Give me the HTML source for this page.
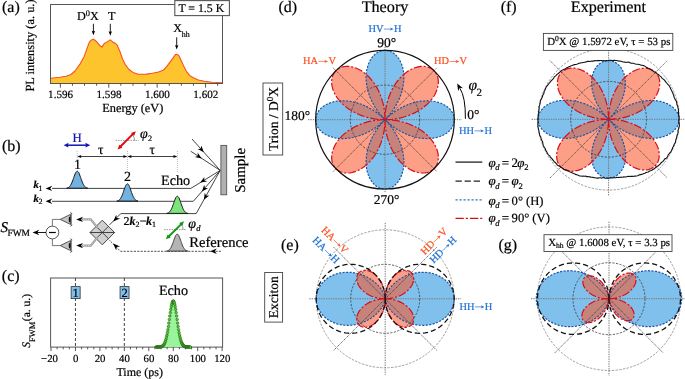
<!DOCTYPE html><html><head><meta charset="utf-8"><style>html,body{margin:0;padding:0;background:#fff;overflow:hidden}svg{display:block;will-change:transform}text{font-family:"Liberation Serif",serif;text-rendering:geometricPrecision;stroke-width:0.2}</style></head><body><svg width="685" height="379" viewBox="0 0 685 379">
<rect width="685" height="379" fill="#fff"/>
<text x="2" y="11.7" font-size="16" stroke="#000">(a)</text>
<path d="M50.5,83.5 L50.5,78.3 L60.0,77.3 L66.0,76.2 L71.0,74.5 L75.0,71.0 L80.3,63.6 L84.2,56.4 L87.5,47.1 L89.5,41.9 L91.5,39.9 L93.5,39.2 L96.1,41.2 L99.4,45.2 L102.0,47.1 L104.0,43.8 L106.6,42.1 L110.3,39.9 L112.6,41.9 L115.2,43.2 L117.2,45.2 L119.8,51.1 L122.5,59.0 L125.1,64.3 L129.0,69.5 L133.0,72.4 L138.3,74.2 L146.2,74.1 L152.4,73.2 L158.6,72.0 L163.6,70.0 L166.7,66.7 L170.4,61.7 L173.5,57.4 L175.4,54.6 L177.0,54.3 L179.1,55.9 L180.9,59.9 L183.4,65.4 L186.5,71.6 L189.6,75.4 L193.3,77.8 L198.3,80.0 L204.5,81.2 L212.0,82.2 L222.5,82.7 L222.5,83.5Z" fill="#fec42e"/>
<path d="M50.5,78.3 L60.0,77.3 L66.0,76.2 L71.0,74.5 L75.0,71.0 L80.3,63.6 L84.2,56.4 L87.5,47.1 L89.5,41.9 L91.5,39.9 L93.5,39.2 L96.1,41.2 L99.4,45.2 L102.0,47.1 L104.0,43.8 L106.6,42.1 L110.3,39.9 L112.6,41.9 L115.2,43.2 L117.2,45.2 L119.8,51.1 L122.5,59.0 L125.1,64.3 L129.0,69.5 L133.0,72.4 L138.3,74.2 L146.2,74.1 L152.4,73.2 L158.6,72.0 L163.6,70.0 L166.7,66.7 L170.4,61.7 L173.5,57.4 L175.4,54.6 L177.0,54.3 L179.1,55.9 L180.9,59.9 L183.4,65.4 L186.5,71.6 L189.6,75.4 L193.3,77.8 L198.3,80.0 L204.5,81.2 L212.0,82.2 L222.5,82.7" fill="none" stroke="#fb4e1e" stroke-width="1.1" stroke-linejoin="round"/>
<rect x="50.5" y="4.5" width="172" height="79" fill="none" stroke="#555" stroke-width="1"/>
<line x1="60.35" y1="83.5" x2="60.35" y2="87.7" stroke="#444" stroke-width="0.9"/>
<line x1="72.45" y1="83.5" x2="72.45" y2="85.8" stroke="#444" stroke-width="0.9"/>
<line x1="84.55" y1="83.5" x2="84.55" y2="85.8" stroke="#444" stroke-width="0.9"/>
<line x1="96.65" y1="83.5" x2="96.65" y2="85.8" stroke="#444" stroke-width="0.9"/>
<line x1="108.75" y1="83.5" x2="108.75" y2="87.7" stroke="#444" stroke-width="0.9"/>
<line x1="120.85" y1="83.5" x2="120.85" y2="85.8" stroke="#444" stroke-width="0.9"/>
<line x1="132.95" y1="83.5" x2="132.95" y2="85.8" stroke="#444" stroke-width="0.9"/>
<line x1="145.05" y1="83.5" x2="145.05" y2="85.8" stroke="#444" stroke-width="0.9"/>
<line x1="157.15" y1="83.5" x2="157.15" y2="87.7" stroke="#444" stroke-width="0.9"/>
<line x1="169.25" y1="83.5" x2="169.25" y2="85.8" stroke="#444" stroke-width="0.9"/>
<line x1="181.35" y1="83.5" x2="181.35" y2="85.8" stroke="#444" stroke-width="0.9"/>
<line x1="193.45" y1="83.5" x2="193.45" y2="85.8" stroke="#444" stroke-width="0.9"/>
<line x1="205.55" y1="83.5" x2="205.55" y2="87.7" stroke="#444" stroke-width="0.9"/>
<line x1="217.65" y1="83.5" x2="217.65" y2="85.8" stroke="#444" stroke-width="0.9"/>
<text x="60.6" y="97.7" font-size="11.1" text-anchor="middle" stroke="#000">1.596</text>
<text x="109" y="97.7" font-size="11.1" text-anchor="middle" stroke="#000">1.598</text>
<text x="157.4" y="97.7" font-size="11.1" text-anchor="middle" stroke="#000">1.600</text>
<text x="205.8" y="97.7" font-size="11.1" text-anchor="middle" stroke="#000">1.602</text>
<text x="132.8" y="111.7" font-size="12.3" text-anchor="middle" stroke="#000">Energy (eV)</text>
<text stroke="#000" transform="translate(34,45.5) rotate(-90)" font-size="12.4" text-anchor="middle">PL intensity (a. u.)</text>
<text x="77" y="20.2" font-size="12.2" stroke="#000">D<tspan dy="-4.6" font-size="8.4">0</tspan><tspan dy="4.6">X</tspan></text>
<text x="111.8" y="20.2" font-size="12.2" text-anchor="middle" stroke="#000">T</text>
<text x="173.2" y="32.2" font-size="12" stroke="#000">X<tspan dy="4.6" font-size="7.9">hh</tspan></text>
<line x1="93.4" y1="23.8" x2="93.4" y2="32.3" stroke="#000" stroke-width="0.9"/>
<path d="M93.4,35.3 L91.7,30.7 L93.4,31.6 L95.1,30.7Z" fill="#000"/>
<line x1="110.3" y1="23.8" x2="110.3" y2="32.8" stroke="#000" stroke-width="0.9"/>
<path d="M110.3,35.8 L108.6,31.2 L110.3,32.1 L112.0,31.2Z" fill="#000"/>
<line x1="176.7" y1="37.3" x2="176.7" y2="46.5" stroke="#000" stroke-width="0.9"/>
<path d="M176.7,49.5 L175.0,44.9 L176.7,45.8 L178.4,44.9Z" fill="#000"/>
<rect x="174.8" y="0.6" width="54.6" height="15" fill="#fff" stroke="#555" stroke-width="1.1"/>
<text x="201.3" y="11.7" font-size="11.8" text-anchor="middle" stroke="#000">T = 1.5 K</text>
<text x="2" y="150.7" font-size="16" stroke="#000">(b)</text>
<text x="77.2" y="141.8" font-size="12.8" text-anchor="middle" fill="#1414b4" stroke="#1414b4">H</text>
<line x1="66.5" y1="145.2" x2="87.5" y2="145.2" stroke="#1414b4" stroke-width="1.5"/>
<path d="M63.6,145.2 L68.6,142.8 L67.8,145.2 L68.6,147.6Z" fill="#1414b4"/>
<path d="M90.3,145.2 L85.3,147.6 L86.0,145.2 L85.3,142.8Z" fill="#1414b4"/>
<line x1="77.2" y1="151" x2="77.2" y2="160.5" stroke="#aaa" stroke-width="0.8" stroke-dasharray="1 1"/>
<line x1="127.4" y1="151" x2="127.4" y2="173" stroke="#aaa" stroke-width="0.8" stroke-dasharray="1 1"/>
<line x1="177.4" y1="151" x2="177.4" y2="173" stroke="#aaa" stroke-width="0.8" stroke-dasharray="1 1"/>
<line x1="79.2" y1="156.5" x2="125.4" y2="156.5" stroke="#111" stroke-width="0.8"/>
<path d="M77.2,156.5 L81.4,154.9 L80.8,156.5 L81.4,158.1Z" fill="#000"/>
<path d="M127.4,156.5 L123.2,158.1 L123.8,156.5 L123.2,154.9Z" fill="#000"/>
<line x1="129.4" y1="156.5" x2="175.4" y2="156.5" stroke="#111" stroke-width="0.8"/>
<path d="M127.4,156.5 L131.6,154.9 L131.0,156.5 L131.6,158.1Z" fill="#000"/>
<path d="M177.4,156.5 L173.2,158.1 L173.8,156.5 L173.2,154.9Z" fill="#000"/>
<text x="100.7" y="154" font-size="13.5" text-anchor="middle" stroke="#000">τ</text>
<text x="152.2" y="154" font-size="13.5" text-anchor="middle" stroke="#000">τ</text>
<line x1="115.5" y1="140.4" x2="138.6" y2="140.4" stroke="#777" stroke-width="0.7" stroke-dasharray="1.6 0.9"/>
<path d="M134.6,140.4 A8,8 0 0 0 132.1,134.6" fill="none" stroke="#555" stroke-width="0.6"/>
<line x1="120" y1="147" x2="133.3" y2="133.7" stroke="#e00808" stroke-width="1.9"/>
<path d="M117.6,149.5 L119.3,144.7 L122.4,147.8Z" fill="#e00808"/>
<path d="M135.8,131.2 L134.1,136.0 L131.0,132.9Z" fill="#e00808"/>
<text x="140" y="138" font-size="14" stroke="#000" style="font-style:italic">φ</text>
<text x="148" y="141" font-size="8.2" stroke="#000">2</text>
<text x="77.4" y="168.9" font-size="14" text-anchor="middle" stroke="#000">1</text>
<text x="127.4" y="181.1" font-size="14" text-anchor="middle" stroke="#000">2</text>
<path d="M220.2,170.4 L190.8,188.4 L52,188.4" fill="none" stroke="#222" stroke-width="0.85"/>
<path d="M200.2,182.6 L204.4,177.0 L204.1,180.3 L207.1,181.5Z" fill="#000"/>
<path d="M220.2,170.4 L193.3,201.3 L52,201.3" fill="none" stroke="#222" stroke-width="0.85"/>
<path d="M201.9,191.4 L204.2,184.8 L204.9,188.0 L208.1,188.2Z" fill="#000"/>
<path d="M220.2,170.4 L196.2,213.6 L120.8,213.6" fill="none" stroke="#222" stroke-width="0.85"/>
<path d="M203.9,199.8 L204.8,192.8 L206.1,195.8 L209.3,195.4Z" fill="#000"/>
<path d="M45.6,188.4 L52.2,185.7 L50.2,188.4 L52.2,191.1Z" fill="#000"/>
<path d="M45.6,201.3 L52.2,198.6 L50.2,201.3 L52.2,204.0Z" fill="#000"/>
<line x1="192" y1="139" x2="220.2" y2="170.4" stroke="#222" stroke-width="0.85"/>
<path d="M203.8,152.2 L197.6,149.1 L200.8,148.8 L201.4,145.6Z" fill="#000"/>
<line x1="190.8" y1="151.3" x2="220.2" y2="170.4" stroke="#222" stroke-width="0.85"/>
<path d="M201.7,158.4 L194.8,157.0 L197.9,155.9 L197.6,152.6Z" fill="#000"/>
<rect x="220.9" y="145.4" width="5.8" height="49.4" fill="#b0b0b0" stroke="#555" stroke-width="0.9"/>
<text stroke="#000" transform="translate(245.2,170.3) rotate(-90)" font-size="15" text-anchor="middle">Sample</text>
<path d="M66.6,188.2 L67.0,188.1 L67.4,188.0 L67.9,187.8 L68.3,187.6 L68.7,187.3 L69.1,187.0 L69.6,186.6 L70.0,186.1 L70.4,185.5 L70.8,184.8 L71.3,184.0 L71.7,183.1 L72.1,182.1 L72.5,181.0 L73.0,179.8 L73.4,178.6 L73.8,177.4 L74.2,176.2 L74.7,175.0 L75.1,173.9 L75.5,173.0 L75.9,172.2 L76.4,171.7 L76.8,171.3 L77.2,171.2 L77.6,171.3 L78.0,171.7 L78.5,172.2 L78.9,173.0 L79.3,173.9 L79.7,175.0 L80.2,176.2 L80.6,177.4 L81.0,178.6 L81.4,179.8 L81.9,181.0 L82.3,182.1 L82.7,183.1 L83.1,184.0 L83.6,184.8 L84.0,185.5 L84.4,186.1 L84.8,186.6 L85.3,187.0 L85.7,187.3 L86.1,187.6 L86.5,187.8 L87.0,188.0 L87.4,188.1 L87.8,188.2Z" fill="#72b2e0" stroke="#1a1a1a" stroke-width="1"/>
<path d="M116.8,201.1 L117.2,201.0 L117.6,200.9 L118.1,200.7 L118.5,200.5 L118.9,200.2 L119.3,199.9 L119.8,199.5 L120.2,199.0 L120.6,198.4 L121.0,197.6 L121.5,196.8 L121.9,195.9 L122.3,194.9 L122.7,193.8 L123.2,192.6 L123.6,191.3 L124.0,190.1 L124.4,188.9 L124.9,187.7 L125.3,186.6 L125.7,185.6 L126.1,184.9 L126.6,184.3 L127.0,183.9 L127.4,183.8 L127.8,183.9 L128.2,184.3 L128.7,184.9 L129.1,185.6 L129.5,186.6 L129.9,187.7 L130.4,188.9 L130.8,190.1 L131.2,191.3 L131.6,192.6 L132.1,193.8 L132.5,194.9 L132.9,195.9 L133.3,196.8 L133.8,197.6 L134.2,198.4 L134.6,199.0 L135.0,199.5 L135.5,199.9 L135.9,200.2 L136.3,200.5 L136.7,200.7 L137.2,200.9 L137.6,201.0 L138.0,201.1Z" fill="#72b2e0" stroke="#1a1a1a" stroke-width="1"/>
<path d="M166.7,213.4 L167.1,213.3 L167.5,213.2 L168.0,213.0 L168.4,212.8 L168.8,212.5 L169.2,212.2 L169.7,211.8 L170.1,211.3 L170.5,210.7 L170.9,210.0 L171.4,209.2 L171.8,208.2 L172.2,207.2 L172.6,206.1 L173.1,204.9 L173.5,203.7 L173.9,202.5 L174.3,201.2 L174.8,200.1 L175.2,199.0 L175.6,198.0 L176.0,197.3 L176.5,196.7 L176.9,196.3 L177.3,196.2 L177.7,196.3 L178.1,196.7 L178.6,197.3 L179.0,198.0 L179.4,199.0 L179.8,200.1 L180.3,201.2 L180.7,202.5 L181.1,203.7 L181.5,204.9 L182.0,206.1 L182.4,207.2 L182.8,208.2 L183.2,209.2 L183.7,210.0 L184.1,210.7 L184.5,211.3 L184.9,211.8 L185.4,212.2 L185.8,212.5 L186.2,212.8 L186.6,213.0 L187.1,213.2 L187.5,213.3 L187.9,213.4Z" fill="#7de37d" stroke="#1a1a1a" stroke-width="1"/>
<text x="161" y="184.6" font-size="14.2" stroke="#000">Echo</text>
<text x="33.6" y="187.8" font-size="10.6" stroke="#000" style="font-style:italic;font-weight:bold">k</text>
<text x="38.6" y="190.6" font-size="8" stroke="#000">1</text>
<text x="33.6" y="201.9" font-size="10.6" stroke="#000" style="font-style:italic;font-weight:bold">k</text>
<text x="38.6" y="204.4" font-size="8" stroke="#000">2</text>
<line x1="120.8" y1="213.6" x2="109.5" y2="224.9" stroke="#222" stroke-width="0.85"/>
<path d="M113.2,221.6 L116.2,214.7 L116.7,218.1 L120.1,218.6Z" fill="#000"/>
<text x="123.6" y="224.6" font-size="12" stroke="#000">2</text>
<text x="129.6" y="224.6" font-size="12" stroke="#000" style="font-style:italic;font-weight:bold">k</text>
<text x="135.6" y="227" font-size="8" stroke="#000">2</text>
<text x="139.7" y="224.6" font-size="12" stroke="#000">−</text>
<text x="146" y="224.6" font-size="12" stroke="#000" style="font-style:italic;font-weight:bold">k</text>
<text x="152" y="227" font-size="8" stroke="#000">1</text>
<path d="M221,251.3 L120.5,251.3 L109,239.8" fill="none" stroke="#333" stroke-width="0.85" stroke-dasharray="2.2 1.2"/>
<path d="M210.2,251.3 L216.8,248.6 L214.8,251.3 L216.8,254.0Z" fill="#000"/>
<path d="M113.2,243.6 L120.1,246.6 L116.7,247.1 L116.2,250.5Z" fill="#000"/>
<path d="M166.6,251.1 L167.0,251.0 L167.4,250.9 L167.9,250.7 L168.3,250.5 L168.7,250.2 L169.1,249.9 L169.6,249.5 L170.0,249.0 L170.4,248.4 L170.8,247.7 L171.3,246.9 L171.7,246.0 L172.1,245.0 L172.5,243.9 L173.0,242.7 L173.4,241.5 L173.8,240.3 L174.2,239.1 L174.7,237.9 L175.1,236.8 L175.5,235.9 L175.9,235.1 L176.4,234.6 L176.8,234.2 L177.2,234.1 L177.6,234.2 L178.0,234.6 L178.5,235.1 L178.9,235.9 L179.3,236.8 L179.7,237.9 L180.2,239.1 L180.6,240.3 L181.0,241.5 L181.4,242.7 L181.9,243.9 L182.3,245.0 L182.7,246.0 L183.1,246.9 L183.6,247.7 L184.0,248.4 L184.4,249.0 L184.8,249.5 L185.3,249.9 L185.7,250.2 L186.1,250.5 L186.5,250.7 L187.0,250.9 L187.4,251.0 L187.8,251.1Z" fill="#b4b4b4" stroke="#333" stroke-width="0.9"/>
<line x1="164" y1="229.6" x2="186" y2="229.6" stroke="#777" stroke-width="0.7" stroke-dasharray="1.6 0.9"/>
<path d="M183.2,229.6 A8,8 0 0 0 180.9,224" fill="none" stroke="#555" stroke-width="0.6"/>
<line x1="168.2" y1="237" x2="181.8" y2="223.6" stroke="#109810" stroke-width="1.9"/>
<path d="M165.9,239.3 L167.6,234.5 L170.7,237.6Z" fill="#109810"/>
<path d="M184.0,221.3 L182.3,226.1 L179.2,223.0Z" fill="#109810"/>
<text x="188.3" y="227.5" font-size="14" stroke="#000" style="font-style:italic">φ</text>
<text x="196.3" y="230.6" font-size="8.5" stroke="#000" style="font-style:italic">d</text>
<text x="189.3" y="247.1" font-size="14.6" stroke="#000">Reference</text>
<path d="M90.0,232.5 L102.3,220.2 L114.6,232.5 L102.3,244.8Z" fill="#d0d0d0" stroke="#333" stroke-width="0.9"/>
<path d="M90.0,232.5 L114.6,232.5 M96.14999999999999,226.35 L108.45,238.65 M96.14999999999999,238.65 L108.45,226.35" stroke="#333" stroke-width="0.9"/>
<path d="M97.3,227.5 L90.8,219.4 L79,219.4" fill="none" stroke="#9a9a9a" stroke-width="2.2"/>
<path d="M97.3,227.5 L90.8,219.4 L79,219.4" fill="none" stroke="#e8e8e8" stroke-width="0.8" stroke-dasharray="1.4 1"/>
<path d="M76.2,219.4 L83.0,216.8 L81.0,219.4 L83.0,222.0Z" fill="#000"/>
<path d="M60.2,219.4 L70.5,214.4 L70.5,224.4Z" fill="#c4c4c4" stroke="#333" stroke-width="0.8"/>
<ellipse cx="69.6" cy="219.4" rx="0.9" ry="2.9" fill="#111"/>
<path d="M71.3,213.20000000000002 L71.3,225.6 M70.3,212.4 L72.3,213.8 M70.3,226.4 L72.3,225.0" stroke="#333" stroke-width="0.7" fill="none"/>
<path d="M52.4,226.1 L52.4,219.4 L60.2,219.4" fill="none" stroke="#555" stroke-width="0.8"/>
<path d="M97.3,237.5 L90.8,245.6 L79,245.6" fill="none" stroke="#9a9a9a" stroke-width="2.2"/>
<path d="M97.3,237.5 L90.8,245.6 L79,245.6" fill="none" stroke="#e8e8e8" stroke-width="0.8" stroke-dasharray="1.4 1"/>
<path d="M76.2,245.6 L83.0,243.0 L81.0,245.6 L83.0,248.2Z" fill="#000"/>
<path d="M60.2,245.6 L70.5,240.6 L70.5,250.6Z" fill="#c4c4c4" stroke="#333" stroke-width="0.8"/>
<ellipse cx="69.6" cy="245.6" rx="0.9" ry="2.9" fill="#111"/>
<path d="M71.3,239.4 L71.3,251.79999999999998 M70.3,238.6 L72.3,240.0 M70.3,252.6 L72.3,251.2" stroke="#333" stroke-width="0.7" fill="none"/>
<path d="M52.4,238.9 L52.4,245.6 L60.2,245.6" fill="none" stroke="#555" stroke-width="0.8"/>
<circle cx="52.4" cy="232.5" r="6.4" fill="#fff" stroke="#444" stroke-width="0.9"/>
<line x1="49" y1="232.5" x2="55.8" y2="232.5" stroke="#000" stroke-width="1.2"/>
<line x1="46" y1="232.5" x2="37" y2="232.5" stroke="#000" stroke-width="0.9"/>
<path d="M32.6,232.5 L39.2,229.8 L37.2,232.5 L39.2,235.2Z" fill="#000"/>
<text x="0.6" y="232.4" font-size="15" stroke="#000" style="font-style:italic">S</text>
<text x="7.5" y="235.6" font-size="9.4" stroke="#000">FWM</text>
<text x="1.8" y="280.5" font-size="16" stroke="#000">(c)</text>
<rect x="50.6" y="278" width="172" height="69.1" fill="none" stroke="#555" stroke-width="1"/>
<line x1="51.00" y1="347.1" x2="51.00" y2="351.1" stroke="#444" stroke-width="0.9"/>
<line x1="57.11" y1="347.1" x2="57.11" y2="349.3" stroke="#444" stroke-width="0.9"/>
<line x1="63.23" y1="347.1" x2="63.23" y2="349.3" stroke="#444" stroke-width="0.9"/>
<line x1="69.34" y1="347.1" x2="69.34" y2="349.3" stroke="#444" stroke-width="0.9"/>
<line x1="75.45" y1="347.1" x2="75.45" y2="351.1" stroke="#444" stroke-width="0.9"/>
<line x1="81.56" y1="347.1" x2="81.56" y2="349.3" stroke="#444" stroke-width="0.9"/>
<line x1="87.67" y1="347.1" x2="87.67" y2="349.3" stroke="#444" stroke-width="0.9"/>
<line x1="93.79" y1="347.1" x2="93.79" y2="349.3" stroke="#444" stroke-width="0.9"/>
<line x1="99.90" y1="347.1" x2="99.90" y2="351.1" stroke="#444" stroke-width="0.9"/>
<line x1="106.01" y1="347.1" x2="106.01" y2="349.3" stroke="#444" stroke-width="0.9"/>
<line x1="112.12" y1="347.1" x2="112.12" y2="349.3" stroke="#444" stroke-width="0.9"/>
<line x1="118.24" y1="347.1" x2="118.24" y2="349.3" stroke="#444" stroke-width="0.9"/>
<line x1="124.35" y1="347.1" x2="124.35" y2="351.1" stroke="#444" stroke-width="0.9"/>
<line x1="130.46" y1="347.1" x2="130.46" y2="349.3" stroke="#444" stroke-width="0.9"/>
<line x1="136.57" y1="347.1" x2="136.57" y2="349.3" stroke="#444" stroke-width="0.9"/>
<line x1="142.69" y1="347.1" x2="142.69" y2="349.3" stroke="#444" stroke-width="0.9"/>
<line x1="148.80" y1="347.1" x2="148.80" y2="351.1" stroke="#444" stroke-width="0.9"/>
<line x1="154.91" y1="347.1" x2="154.91" y2="349.3" stroke="#444" stroke-width="0.9"/>
<line x1="161.02" y1="347.1" x2="161.02" y2="349.3" stroke="#444" stroke-width="0.9"/>
<line x1="167.14" y1="347.1" x2="167.14" y2="349.3" stroke="#444" stroke-width="0.9"/>
<line x1="173.25" y1="347.1" x2="173.25" y2="351.1" stroke="#444" stroke-width="0.9"/>
<line x1="179.36" y1="347.1" x2="179.36" y2="349.3" stroke="#444" stroke-width="0.9"/>
<line x1="185.47" y1="347.1" x2="185.47" y2="349.3" stroke="#444" stroke-width="0.9"/>
<line x1="191.59" y1="347.1" x2="191.59" y2="349.3" stroke="#444" stroke-width="0.9"/>
<line x1="197.70" y1="347.1" x2="197.70" y2="351.1" stroke="#444" stroke-width="0.9"/>
<line x1="203.81" y1="347.1" x2="203.81" y2="349.3" stroke="#444" stroke-width="0.9"/>
<line x1="209.93" y1="347.1" x2="209.93" y2="349.3" stroke="#444" stroke-width="0.9"/>
<line x1="216.04" y1="347.1" x2="216.04" y2="349.3" stroke="#444" stroke-width="0.9"/>
<line x1="222.15" y1="347.1" x2="222.15" y2="351.1" stroke="#444" stroke-width="0.9"/>
<text x="49.5" y="361.9" font-size="10.8" text-anchor="middle" stroke="#000">−20</text>
<text x="75.7" y="361.9" font-size="10.8" text-anchor="middle" stroke="#000">0</text>
<text x="100.1" y="361.9" font-size="10.8" text-anchor="middle" stroke="#000">20</text>
<text x="124.5" y="361.9" font-size="10.8" text-anchor="middle" stroke="#000">40</text>
<text x="149" y="361.9" font-size="10.8" text-anchor="middle" stroke="#000">60</text>
<text x="173.4" y="361.9" font-size="10.8" text-anchor="middle" stroke="#000">80</text>
<text x="197.9" y="361.9" font-size="10.8" text-anchor="middle" stroke="#000">100</text>
<text x="222.3" y="361.9" font-size="10.8" text-anchor="middle" stroke="#000">120</text>
<text x="139.7" y="375.8" font-size="12" text-anchor="middle" stroke="#000">Time (ps)</text>
<text stroke="#000" transform="translate(30.3,347.8) rotate(-90)" font-size="11.5"><tspan style="font-style:italic">S</tspan><tspan dy="5" font-size="8.5">FWM</tspan><tspan dy="-5" dx="0.6">(a. u.)</tspan></text>
<line x1="75.45" y1="278" x2="75.45" y2="347" stroke="#222" stroke-width="0.85" stroke-dasharray="3 2"/>
<line x1="124.35" y1="278" x2="124.35" y2="347" stroke="#222" stroke-width="0.85" stroke-dasharray="3 2"/>
<rect x="71.15" y="286.6" width="9" height="12" fill="#7fbfea" stroke="#333" stroke-width="0.8"/>
<text x="75.7" y="297.3" font-size="12.5" text-anchor="middle" stroke="#000">1</text>
<rect x="120.05" y="286.6" width="9" height="12" fill="#7fbfea" stroke="#333" stroke-width="0.8"/>
<text x="124.5" y="297.3" font-size="12.5" text-anchor="middle" stroke="#000">2</text>
<text x="158.9" y="295.3" font-size="14.2" stroke="#000">Echo</text>
<path d="M154.9,347.0 L155.2,347.0 L155.5,347.0 L155.8,347.0 L156.1,347.0 L156.4,347.0 L156.7,347.0 L157.1,347.0 L157.4,347.0 L157.7,347.0 L158.0,347.0 L158.3,347.0 L158.6,347.0 L158.9,347.0 L159.2,346.9 L159.5,346.9 L159.8,346.9 L160.1,346.9 L160.4,346.8 L160.7,346.8 L161.0,346.7 L161.3,346.6 L161.6,346.5 L161.9,346.4 L162.2,346.2 L162.6,346.0 L162.9,345.8 L163.2,345.5 L163.5,345.2 L163.8,344.8 L164.1,344.3 L164.4,343.7 L164.7,343.1 L165.0,342.4 L165.3,341.5 L165.6,340.6 L165.9,339.5 L166.2,338.3 L166.5,337.0 L166.8,335.5 L167.1,333.9 L167.4,332.2 L167.7,330.4 L168.1,328.5 L168.4,326.5 L168.7,324.4 L169.0,322.2 L169.3,320.0 L169.6,317.8 L169.9,315.6 L170.2,313.4 L170.5,311.4 L170.8,309.4 L171.1,307.6 L171.4,305.9 L171.7,304.5 L172.0,303.3 L172.3,302.3 L172.6,301.6 L172.9,301.1 L173.2,301.0 L173.6,301.1 L173.9,301.6 L174.2,302.3 L174.5,303.3 L174.8,304.5 L175.1,305.9 L175.4,307.6 L175.7,309.4 L176.0,311.4 L176.3,313.4 L176.6,315.6 L176.9,317.8 L177.2,320.0 L177.5,322.2 L177.8,324.4 L178.1,326.5 L178.4,328.5 L178.8,330.4 L179.1,332.2 L179.4,333.9 L179.7,335.5 L180.0,337.0 L180.3,338.3 L180.6,339.5 L180.9,340.6 L181.2,341.5 L181.5,342.4 L181.8,343.1 L182.1,343.7 L182.4,344.3 L182.7,344.8 L183.0,345.2 L183.3,345.5 L183.6,345.8 L183.9,346.0 L184.3,346.2 L184.6,346.4 L184.9,346.5 L185.2,346.6 L185.5,346.7 L185.8,346.8 L186.1,346.8 L186.4,346.9 L186.7,346.9 L187.0,346.9 L187.3,346.9 L187.6,347.0 L187.9,347.0 L188.2,347.0 L188.5,347.0 L188.8,347.0 L189.1,347.0 L189.4,347.0 L189.8,347.0 L190.1,347.0 L190.4,347.0 L190.7,347.0 L191.0,347.0 L191.3,347.0 L191.6,347.0Z" fill="#9af59a"/>
<g fill="#4ccf38" stroke="#224a12" stroke-width="0.5"><circle cx="156.1" cy="347.0" r="1.3"/><circle cx="156.6" cy="347.0" r="1.3"/><circle cx="157.1" cy="347.0" r="1.3"/><circle cx="157.6" cy="347.0" r="1.3"/><circle cx="158.1" cy="347.0" r="1.3"/><circle cx="158.6" cy="347.0" r="1.3"/><circle cx="159.1" cy="346.9" r="1.3"/><circle cx="159.6" cy="346.9" r="1.3"/><circle cx="160.0" cy="346.9" r="1.3"/><circle cx="160.5" cy="346.8" r="1.3"/><circle cx="161.0" cy="346.7" r="1.3"/><circle cx="161.5" cy="346.6" r="1.3"/><circle cx="162.0" cy="346.4" r="1.3"/><circle cx="162.5" cy="346.1" r="1.3"/><circle cx="163.0" cy="345.7" r="1.3"/><circle cx="163.5" cy="345.2" r="1.3"/><circle cx="164.0" cy="344.5" r="1.3"/><circle cx="164.4" cy="343.6" r="1.3"/><circle cx="164.9" cy="342.5" r="1.3"/><circle cx="165.4" cy="341.2" r="1.3"/><circle cx="165.9" cy="339.5" r="1.3"/><circle cx="166.4" cy="337.5" r="1.3"/><circle cx="166.9" cy="335.2" r="1.3"/><circle cx="167.4" cy="332.6" r="1.3"/><circle cx="167.9" cy="329.7" r="1.3"/><circle cx="168.4" cy="326.5" r="1.3"/><circle cx="168.8" cy="323.1" r="1.3"/><circle cx="169.3" cy="319.5" r="1.3"/><circle cx="169.8" cy="316.0" r="1.3"/><circle cx="170.3" cy="312.6" r="1.3"/><circle cx="170.8" cy="309.4" r="1.3"/><circle cx="171.3" cy="306.6" r="1.3"/><circle cx="171.8" cy="304.2" r="1.3"/><circle cx="172.3" cy="302.5" r="1.3"/><circle cx="172.8" cy="301.4" r="1.3"/><circle cx="173.2" cy="301.0" r="1.3"/><circle cx="173.7" cy="301.4" r="1.3"/><circle cx="174.2" cy="302.5" r="1.3"/><circle cx="174.7" cy="304.2" r="1.3"/><circle cx="175.2" cy="306.6" r="1.3"/><circle cx="175.7" cy="309.4" r="1.3"/><circle cx="176.2" cy="312.6" r="1.3"/><circle cx="176.7" cy="316.0" r="1.3"/><circle cx="177.2" cy="319.5" r="1.3"/><circle cx="177.7" cy="323.1" r="1.3"/><circle cx="178.1" cy="326.5" r="1.3"/><circle cx="178.6" cy="329.7" r="1.3"/><circle cx="179.1" cy="332.6" r="1.3"/><circle cx="179.6" cy="335.2" r="1.3"/><circle cx="180.1" cy="337.5" r="1.3"/><circle cx="180.6" cy="339.5" r="1.3"/><circle cx="181.1" cy="341.2" r="1.3"/><circle cx="181.6" cy="342.5" r="1.3"/><circle cx="182.1" cy="343.6" r="1.3"/><circle cx="182.5" cy="344.5" r="1.3"/><circle cx="183.0" cy="345.2" r="1.3"/><circle cx="183.5" cy="345.7" r="1.3"/><circle cx="184.0" cy="346.1" r="1.3"/><circle cx="184.5" cy="346.4" r="1.3"/><circle cx="185.0" cy="346.6" r="1.3"/><circle cx="185.5" cy="346.7" r="1.3"/><circle cx="186.0" cy="346.8" r="1.3"/><circle cx="186.5" cy="346.9" r="1.3"/><circle cx="186.9" cy="346.9" r="1.3"/><circle cx="187.4" cy="346.9" r="1.3"/><circle cx="187.9" cy="347.0" r="1.3"/><circle cx="188.4" cy="347.0" r="1.3"/><circle cx="188.9" cy="347.0" r="1.3"/><circle cx="189.4" cy="347.0" r="1.3"/><circle cx="189.9" cy="347.0" r="1.3"/><circle cx="190.4" cy="347.0" r="1.3"/></g>
<clipPath id="cd"><path d="M385.0,119.7 L386.7,121.4 L388.5,123.0 L390.4,124.5 L392.3,126.0 L394.2,127.4 L396.2,128.8 L398.2,130.0 L400.3,131.2 L402.3,132.3 L404.4,133.3 L406.5,134.2 L408.6,135.1 L410.8,135.8 L412.9,136.5 L415.0,137.0 L417.1,137.5 L419.2,137.9 L421.3,138.2 L423.3,138.4 L425.4,138.5 L427.4,138.6 L429.3,138.5 L431.2,138.4 L433.1,138.2 L434.9,137.9 L436.6,137.5 L438.3,137.0 L439.9,136.5 L441.5,135.9 L443.0,135.2 L444.4,134.5 L445.7,133.7 L446.9,132.9 L448.1,132.0 L449.1,131.0 L450.1,130.0 L451.0,129.0 L451.7,127.9 L452.4,126.8 L453.0,125.6 L453.5,124.5 L453.8,123.3 L454.1,122.1 L454.2,120.9 L454.3,119.7 L454.2,118.5 L454.1,117.3 L453.8,116.1 L453.5,114.9 L453.0,113.8 L452.4,112.6 L451.7,111.5 L451.0,110.4 L450.1,109.4 L449.1,108.4 L448.1,107.4 L446.9,106.5 L445.7,105.7 L444.4,104.9 L443.0,104.2 L441.5,103.5 L439.9,102.9 L438.3,102.4 L436.6,101.9 L434.9,101.5 L433.1,101.2 L431.2,101.0 L429.3,100.9 L427.4,100.8 L425.4,100.9 L423.3,101.0 L421.3,101.2 L419.2,101.5 L417.1,101.9 L415.0,102.4 L412.9,102.9 L410.8,103.6 L408.6,104.3 L406.5,105.2 L404.4,106.1 L402.3,107.1 L400.3,108.2 L398.2,109.4 L396.2,110.6 L394.2,112.0 L392.3,113.4 L390.4,114.9 L388.5,116.4 L386.7,118.0 L385.0,119.7ZM385.0,119.7 L386.7,118.0 L388.3,116.2 L389.8,114.3 L391.3,112.4 L392.7,110.5 L394.1,108.5 L395.3,106.5 L396.5,104.4 L397.6,102.4 L398.6,100.3 L399.5,98.2 L400.4,96.1 L401.1,93.9 L401.8,91.8 L402.3,89.7 L402.8,87.6 L403.2,85.5 L403.5,83.4 L403.7,81.4 L403.8,79.3 L403.9,77.3 L403.8,75.4 L403.7,73.5 L403.5,71.6 L403.2,69.8 L402.8,68.1 L402.3,66.4 L401.8,64.8 L401.2,63.2 L400.5,61.7 L399.8,60.3 L399.0,59.0 L398.2,57.8 L397.3,56.6 L396.3,55.6 L395.3,54.6 L394.3,53.7 L393.2,53.0 L392.1,52.3 L390.9,51.7 L389.8,51.2 L388.6,50.9 L387.4,50.6 L386.2,50.5 L385.0,50.4 L383.8,50.5 L382.6,50.6 L381.4,50.9 L380.2,51.2 L379.1,51.7 L377.9,52.3 L376.8,53.0 L375.7,53.7 L374.7,54.6 L373.7,55.6 L372.7,56.6 L371.8,57.8 L371.0,59.0 L370.2,60.3 L369.5,61.7 L368.8,63.2 L368.2,64.8 L367.7,66.4 L367.2,68.1 L366.8,69.8 L366.5,71.6 L366.3,73.5 L366.2,75.4 L366.1,77.3 L366.2,79.3 L366.3,81.4 L366.5,83.4 L366.8,85.5 L367.2,87.6 L367.7,89.7 L368.2,91.8 L368.9,93.9 L369.6,96.1 L370.5,98.2 L371.4,100.3 L372.4,102.4 L373.5,104.4 L374.7,106.5 L375.9,108.5 L377.3,110.5 L378.7,112.4 L380.2,114.3 L381.7,116.2 L383.3,118.0 L385.0,119.7ZM385.0,119.7 L383.3,118.0 L381.5,116.4 L379.6,114.9 L377.7,113.4 L375.8,112.0 L373.8,110.6 L371.8,109.4 L369.7,108.2 L367.7,107.1 L365.6,106.1 L363.5,105.2 L361.4,104.3 L359.2,103.6 L357.1,102.9 L355.0,102.4 L352.9,101.9 L350.8,101.5 L348.7,101.2 L346.7,101.0 L344.6,100.9 L342.6,100.8 L340.7,100.9 L338.8,101.0 L336.9,101.2 L335.1,101.5 L333.4,101.9 L331.7,102.4 L330.1,102.9 L328.5,103.5 L327.0,104.2 L325.6,104.9 L324.3,105.7 L323.1,106.5 L321.9,107.4 L320.9,108.4 L319.9,109.4 L319.0,110.4 L318.3,111.5 L317.6,112.6 L317.0,113.8 L316.5,114.9 L316.2,116.1 L315.9,117.3 L315.8,118.5 L315.7,119.7 L315.8,120.9 L315.9,122.1 L316.2,123.3 L316.5,124.5 L317.0,125.6 L317.6,126.8 L318.3,127.9 L319.0,129.0 L319.9,130.0 L320.9,131.0 L321.9,132.0 L323.1,132.9 L324.3,133.7 L325.6,134.5 L327.0,135.2 L328.5,135.9 L330.1,136.5 L331.7,137.0 L333.4,137.5 L335.1,137.9 L336.9,138.2 L338.8,138.4 L340.7,138.5 L342.6,138.6 L344.6,138.5 L346.7,138.4 L348.7,138.2 L350.8,137.9 L352.9,137.5 L355.0,137.0 L357.1,136.5 L359.2,135.8 L361.4,135.1 L363.5,134.2 L365.6,133.3 L367.7,132.3 L369.7,131.2 L371.8,130.0 L373.8,128.8 L375.8,127.4 L377.7,126.0 L379.6,124.5 L381.5,123.0 L383.3,121.4 L385.0,119.7ZM385.0,119.7 L383.3,121.4 L381.7,123.2 L380.2,125.1 L378.7,127.0 L377.3,128.9 L375.9,130.9 L374.7,132.9 L373.5,135.0 L372.4,137.0 L371.4,139.1 L370.5,141.2 L369.6,143.3 L368.9,145.5 L368.2,147.6 L367.7,149.7 L367.2,151.8 L366.8,153.9 L366.5,156.0 L366.3,158.0 L366.2,160.1 L366.1,162.1 L366.2,164.0 L366.3,165.9 L366.5,167.8 L366.8,169.6 L367.2,171.3 L367.7,173.0 L368.2,174.6 L368.8,176.2 L369.5,177.7 L370.2,179.1 L371.0,180.4 L371.8,181.6 L372.7,182.8 L373.7,183.8 L374.7,184.8 L375.7,185.7 L376.8,186.4 L377.9,187.1 L379.1,187.7 L380.2,188.2 L381.4,188.5 L382.6,188.8 L383.8,188.9 L385.0,189.0 L386.2,188.9 L387.4,188.8 L388.6,188.5 L389.8,188.2 L390.9,187.7 L392.1,187.1 L393.2,186.4 L394.3,185.7 L395.3,184.8 L396.3,183.8 L397.3,182.8 L398.2,181.6 L399.0,180.4 L399.8,179.1 L400.5,177.7 L401.2,176.2 L401.8,174.6 L402.3,173.0 L402.8,171.3 L403.2,169.6 L403.5,167.8 L403.7,165.9 L403.8,164.0 L403.9,162.1 L403.8,160.1 L403.7,158.0 L403.5,156.0 L403.2,153.9 L402.8,151.8 L402.3,149.7 L401.8,147.6 L401.1,145.5 L400.4,143.3 L399.5,141.2 L398.6,139.1 L397.6,137.0 L396.5,135.0 L395.3,132.9 L394.1,130.9 L392.7,128.9 L391.3,127.0 L389.8,125.1 L388.3,123.2 L386.7,121.4 L385.0,119.7Z"/></clipPath>
<path d="M385.0,119.7 L386.7,121.4 L388.5,123.0 L390.4,124.5 L392.3,126.0 L394.2,127.4 L396.2,128.8 L398.2,130.0 L400.3,131.2 L402.3,132.3 L404.4,133.3 L406.5,134.2 L408.6,135.1 L410.8,135.8 L412.9,136.5 L415.0,137.0 L417.1,137.5 L419.2,137.9 L421.3,138.2 L423.3,138.4 L425.4,138.5 L427.4,138.6 L429.3,138.5 L431.2,138.4 L433.1,138.2 L434.9,137.9 L436.6,137.5 L438.3,137.0 L439.9,136.5 L441.5,135.9 L443.0,135.2 L444.4,134.5 L445.7,133.7 L446.9,132.9 L448.1,132.0 L449.1,131.0 L450.1,130.0 L451.0,129.0 L451.7,127.9 L452.4,126.8 L453.0,125.6 L453.5,124.5 L453.8,123.3 L454.1,122.1 L454.2,120.9 L454.3,119.7 L454.2,118.5 L454.1,117.3 L453.8,116.1 L453.5,114.9 L453.0,113.8 L452.4,112.6 L451.7,111.5 L451.0,110.4 L450.1,109.4 L449.1,108.4 L448.1,107.4 L446.9,106.5 L445.7,105.7 L444.4,104.9 L443.0,104.2 L441.5,103.5 L439.9,102.9 L438.3,102.4 L436.6,101.9 L434.9,101.5 L433.1,101.2 L431.2,101.0 L429.3,100.9 L427.4,100.8 L425.4,100.9 L423.3,101.0 L421.3,101.2 L419.2,101.5 L417.1,101.9 L415.0,102.4 L412.9,102.9 L410.8,103.6 L408.6,104.3 L406.5,105.2 L404.4,106.1 L402.3,107.1 L400.3,108.2 L398.2,109.4 L396.2,110.6 L394.2,112.0 L392.3,113.4 L390.4,114.9 L388.5,116.4 L386.7,118.0 L385.0,119.7ZM385.0,119.7 L386.7,118.0 L388.3,116.2 L389.8,114.3 L391.3,112.4 L392.7,110.5 L394.1,108.5 L395.3,106.5 L396.5,104.4 L397.6,102.4 L398.6,100.3 L399.5,98.2 L400.4,96.1 L401.1,93.9 L401.8,91.8 L402.3,89.7 L402.8,87.6 L403.2,85.5 L403.5,83.4 L403.7,81.4 L403.8,79.3 L403.9,77.3 L403.8,75.4 L403.7,73.5 L403.5,71.6 L403.2,69.8 L402.8,68.1 L402.3,66.4 L401.8,64.8 L401.2,63.2 L400.5,61.7 L399.8,60.3 L399.0,59.0 L398.2,57.8 L397.3,56.6 L396.3,55.6 L395.3,54.6 L394.3,53.7 L393.2,53.0 L392.1,52.3 L390.9,51.7 L389.8,51.2 L388.6,50.9 L387.4,50.6 L386.2,50.5 L385.0,50.4 L383.8,50.5 L382.6,50.6 L381.4,50.9 L380.2,51.2 L379.1,51.7 L377.9,52.3 L376.8,53.0 L375.7,53.7 L374.7,54.6 L373.7,55.6 L372.7,56.6 L371.8,57.8 L371.0,59.0 L370.2,60.3 L369.5,61.7 L368.8,63.2 L368.2,64.8 L367.7,66.4 L367.2,68.1 L366.8,69.8 L366.5,71.6 L366.3,73.5 L366.2,75.4 L366.1,77.3 L366.2,79.3 L366.3,81.4 L366.5,83.4 L366.8,85.5 L367.2,87.6 L367.7,89.7 L368.2,91.8 L368.9,93.9 L369.6,96.1 L370.5,98.2 L371.4,100.3 L372.4,102.4 L373.5,104.4 L374.7,106.5 L375.9,108.5 L377.3,110.5 L378.7,112.4 L380.2,114.3 L381.7,116.2 L383.3,118.0 L385.0,119.7ZM385.0,119.7 L383.3,118.0 L381.5,116.4 L379.6,114.9 L377.7,113.4 L375.8,112.0 L373.8,110.6 L371.8,109.4 L369.7,108.2 L367.7,107.1 L365.6,106.1 L363.5,105.2 L361.4,104.3 L359.2,103.6 L357.1,102.9 L355.0,102.4 L352.9,101.9 L350.8,101.5 L348.7,101.2 L346.7,101.0 L344.6,100.9 L342.6,100.8 L340.7,100.9 L338.8,101.0 L336.9,101.2 L335.1,101.5 L333.4,101.9 L331.7,102.4 L330.1,102.9 L328.5,103.5 L327.0,104.2 L325.6,104.9 L324.3,105.7 L323.1,106.5 L321.9,107.4 L320.9,108.4 L319.9,109.4 L319.0,110.4 L318.3,111.5 L317.6,112.6 L317.0,113.8 L316.5,114.9 L316.2,116.1 L315.9,117.3 L315.8,118.5 L315.7,119.7 L315.8,120.9 L315.9,122.1 L316.2,123.3 L316.5,124.5 L317.0,125.6 L317.6,126.8 L318.3,127.9 L319.0,129.0 L319.9,130.0 L320.9,131.0 L321.9,132.0 L323.1,132.9 L324.3,133.7 L325.6,134.5 L327.0,135.2 L328.5,135.9 L330.1,136.5 L331.7,137.0 L333.4,137.5 L335.1,137.9 L336.9,138.2 L338.8,138.4 L340.7,138.5 L342.6,138.6 L344.6,138.5 L346.7,138.4 L348.7,138.2 L350.8,137.9 L352.9,137.5 L355.0,137.0 L357.1,136.5 L359.2,135.8 L361.4,135.1 L363.5,134.2 L365.6,133.3 L367.7,132.3 L369.7,131.2 L371.8,130.0 L373.8,128.8 L375.8,127.4 L377.7,126.0 L379.6,124.5 L381.5,123.0 L383.3,121.4 L385.0,119.7ZM385.0,119.7 L383.3,121.4 L381.7,123.2 L380.2,125.1 L378.7,127.0 L377.3,128.9 L375.9,130.9 L374.7,132.9 L373.5,135.0 L372.4,137.0 L371.4,139.1 L370.5,141.2 L369.6,143.3 L368.9,145.5 L368.2,147.6 L367.7,149.7 L367.2,151.8 L366.8,153.9 L366.5,156.0 L366.3,158.0 L366.2,160.1 L366.1,162.1 L366.2,164.0 L366.3,165.9 L366.5,167.8 L366.8,169.6 L367.2,171.3 L367.7,173.0 L368.2,174.6 L368.8,176.2 L369.5,177.7 L370.2,179.1 L371.0,180.4 L371.8,181.6 L372.7,182.8 L373.7,183.8 L374.7,184.8 L375.7,185.7 L376.8,186.4 L377.9,187.1 L379.1,187.7 L380.2,188.2 L381.4,188.5 L382.6,188.8 L383.8,188.9 L385.0,189.0 L386.2,188.9 L387.4,188.8 L388.6,188.5 L389.8,188.2 L390.9,187.7 L392.1,187.1 L393.2,186.4 L394.3,185.7 L395.3,184.8 L396.3,183.8 L397.3,182.8 L398.2,181.6 L399.0,180.4 L399.8,179.1 L400.5,177.7 L401.2,176.2 L401.8,174.6 L402.3,173.0 L402.8,171.3 L403.2,169.6 L403.5,167.8 L403.7,165.9 L403.8,164.0 L403.9,162.1 L403.8,160.1 L403.7,158.0 L403.5,156.0 L403.2,153.9 L402.8,151.8 L402.3,149.7 L401.8,147.6 L401.1,145.5 L400.4,143.3 L399.5,141.2 L398.6,139.1 L397.6,137.0 L396.5,135.0 L395.3,132.9 L394.1,130.9 L392.7,128.9 L391.3,127.0 L389.8,125.1 L388.3,123.2 L386.7,121.4 L385.0,119.7Z" fill="#80c0ec"/>
<path d="M385.0,119.7 L387.4,119.7 L389.8,119.5 L392.2,119.3 L394.6,119.0 L397.0,118.7 L399.3,118.2 L401.6,117.7 L403.9,117.0 L406.2,116.3 L408.3,115.6 L410.5,114.7 L412.6,113.8 L414.6,112.9 L416.6,111.8 L418.5,110.7 L420.3,109.6 L422.1,108.4 L423.7,107.1 L425.3,105.8 L426.9,104.5 L428.3,103.1 L429.6,101.7 L430.9,100.2 L432.0,98.8 L433.1,97.3 L434.1,95.8 L435.0,94.2 L435.7,92.7 L436.4,91.2 L437.0,89.7 L437.4,88.2 L437.8,86.7 L438.1,85.2 L438.3,83.8 L438.3,82.3 L438.3,81.0 L438.2,79.6 L438.0,78.3 L437.7,77.0 L437.3,75.8 L436.8,74.7 L436.2,73.6 L435.6,72.6 L434.8,71.6 L434.0,70.7 L433.1,69.9 L432.1,69.1 L431.1,68.5 L430.0,67.9 L428.9,67.4 L427.7,67.0 L426.4,66.7 L425.1,66.5 L423.7,66.4 L422.4,66.4 L420.9,66.4 L419.5,66.6 L418.0,66.9 L416.5,67.3 L415.0,67.7 L413.5,68.3 L412.0,69.0 L410.5,69.7 L408.9,70.6 L407.4,71.6 L405.9,72.7 L404.5,73.8 L403.0,75.1 L401.6,76.4 L400.2,77.8 L398.9,79.4 L397.6,81.0 L396.3,82.6 L395.1,84.4 L394.0,86.2 L392.9,88.1 L391.8,90.1 L390.9,92.1 L390.0,94.2 L389.1,96.4 L388.4,98.5 L387.7,100.8 L387.0,103.1 L386.5,105.4 L386.0,107.7 L385.7,110.1 L385.4,112.5 L385.2,114.9 L385.0,117.3 L385.0,119.7ZM385.0,119.7 L385.0,117.3 L384.8,114.9 L384.6,112.5 L384.3,110.1 L384.0,107.7 L383.5,105.4 L383.0,103.1 L382.3,100.8 L381.6,98.5 L380.9,96.4 L380.0,94.2 L379.1,92.1 L378.2,90.1 L377.1,88.1 L376.0,86.2 L374.9,84.4 L373.7,82.6 L372.4,81.0 L371.1,79.4 L369.8,77.8 L368.4,76.4 L367.0,75.1 L365.5,73.8 L364.1,72.7 L362.6,71.6 L361.1,70.6 L359.5,69.7 L358.0,69.0 L356.5,68.3 L355.0,67.7 L353.5,67.3 L352.0,66.9 L350.5,66.6 L349.1,66.4 L347.6,66.4 L346.3,66.4 L344.9,66.5 L343.6,66.7 L342.3,67.0 L341.1,67.4 L340.0,67.9 L338.9,68.5 L337.9,69.1 L336.9,69.9 L336.0,70.7 L335.2,71.6 L334.4,72.6 L333.8,73.6 L333.2,74.7 L332.7,75.8 L332.3,77.0 L332.0,78.3 L331.8,79.6 L331.7,81.0 L331.7,82.3 L331.7,83.8 L331.9,85.2 L332.2,86.7 L332.6,88.2 L333.0,89.7 L333.6,91.2 L334.3,92.7 L335.0,94.2 L335.9,95.8 L336.9,97.3 L338.0,98.8 L339.1,100.2 L340.4,101.7 L341.7,103.1 L343.1,104.5 L344.7,105.8 L346.3,107.1 L347.9,108.4 L349.7,109.6 L351.5,110.7 L353.4,111.8 L355.4,112.9 L357.4,113.8 L359.5,114.7 L361.7,115.6 L363.8,116.3 L366.1,117.0 L368.4,117.7 L370.7,118.2 L373.0,118.7 L375.4,119.0 L377.8,119.3 L380.2,119.5 L382.6,119.7 L385.0,119.7ZM385.0,119.7 L382.6,119.7 L380.2,119.9 L377.8,120.1 L375.4,120.4 L373.0,120.7 L370.7,121.2 L368.4,121.7 L366.1,122.4 L363.8,123.1 L361.7,123.8 L359.5,124.7 L357.4,125.6 L355.4,126.5 L353.4,127.6 L351.5,128.7 L349.7,129.8 L347.9,131.0 L346.3,132.3 L344.7,133.6 L343.1,134.9 L341.7,136.3 L340.4,137.7 L339.1,139.2 L338.0,140.6 L336.9,142.1 L335.9,143.6 L335.0,145.2 L334.3,146.7 L333.6,148.2 L333.0,149.7 L332.6,151.2 L332.2,152.7 L331.9,154.2 L331.7,155.6 L331.7,157.1 L331.7,158.4 L331.8,159.8 L332.0,161.1 L332.3,162.4 L332.7,163.6 L333.2,164.7 L333.8,165.8 L334.4,166.8 L335.2,167.8 L336.0,168.7 L336.9,169.5 L337.9,170.3 L338.9,170.9 L340.0,171.5 L341.1,172.0 L342.3,172.4 L343.6,172.7 L344.9,172.9 L346.3,173.0 L347.6,173.0 L349.1,173.0 L350.5,172.8 L352.0,172.5 L353.5,172.1 L355.0,171.7 L356.5,171.1 L358.0,170.4 L359.5,169.7 L361.1,168.8 L362.6,167.8 L364.1,166.7 L365.5,165.6 L367.0,164.3 L368.4,163.0 L369.8,161.6 L371.1,160.0 L372.4,158.4 L373.7,156.8 L374.9,155.0 L376.0,153.2 L377.1,151.3 L378.2,149.3 L379.1,147.3 L380.0,145.2 L380.9,143.0 L381.6,140.9 L382.3,138.6 L383.0,136.3 L383.5,134.0 L384.0,131.7 L384.3,129.3 L384.6,126.9 L384.8,124.5 L385.0,122.1 L385.0,119.7ZM385.0,119.7 L385.0,122.1 L385.2,124.5 L385.4,126.9 L385.7,129.3 L386.0,131.7 L386.5,134.0 L387.0,136.3 L387.7,138.6 L388.4,140.9 L389.1,143.0 L390.0,145.2 L390.9,147.3 L391.8,149.3 L392.9,151.3 L394.0,153.2 L395.1,155.0 L396.3,156.8 L397.6,158.4 L398.9,160.0 L400.2,161.6 L401.6,163.0 L403.0,164.3 L404.5,165.6 L405.9,166.7 L407.4,167.8 L408.9,168.8 L410.5,169.7 L412.0,170.4 L413.5,171.1 L415.0,171.7 L416.5,172.1 L418.0,172.5 L419.5,172.8 L420.9,173.0 L422.4,173.0 L423.7,173.0 L425.1,172.9 L426.4,172.7 L427.7,172.4 L428.9,172.0 L430.0,171.5 L431.1,170.9 L432.1,170.3 L433.1,169.5 L434.0,168.7 L434.8,167.8 L435.6,166.8 L436.2,165.8 L436.8,164.7 L437.3,163.6 L437.7,162.4 L438.0,161.1 L438.2,159.8 L438.3,158.4 L438.3,157.1 L438.3,155.6 L438.1,154.2 L437.8,152.7 L437.4,151.2 L437.0,149.7 L436.4,148.2 L435.7,146.7 L435.0,145.2 L434.1,143.6 L433.1,142.1 L432.0,140.6 L430.9,139.2 L429.6,137.7 L428.3,136.3 L426.9,134.9 L425.3,133.6 L423.7,132.3 L422.1,131.0 L420.3,129.8 L418.5,128.7 L416.6,127.6 L414.6,126.5 L412.6,125.6 L410.5,124.7 L408.3,123.8 L406.2,123.1 L403.9,122.4 L401.6,121.7 L399.3,121.2 L397.0,120.7 L394.6,120.4 L392.2,120.1 L389.8,119.9 L387.4,119.7 L385.0,119.7Z" fill="#fd9e86"/>
<path d="M385.0,119.7 L387.4,119.7 L389.8,119.5 L392.2,119.3 L394.6,119.0 L397.0,118.7 L399.3,118.2 L401.6,117.7 L403.9,117.0 L406.2,116.3 L408.3,115.6 L410.5,114.7 L412.6,113.8 L414.6,112.9 L416.6,111.8 L418.5,110.7 L420.3,109.6 L422.1,108.4 L423.7,107.1 L425.3,105.8 L426.9,104.5 L428.3,103.1 L429.6,101.7 L430.9,100.2 L432.0,98.8 L433.1,97.3 L434.1,95.8 L435.0,94.2 L435.7,92.7 L436.4,91.2 L437.0,89.7 L437.4,88.2 L437.8,86.7 L438.1,85.2 L438.3,83.8 L438.3,82.3 L438.3,81.0 L438.2,79.6 L438.0,78.3 L437.7,77.0 L437.3,75.8 L436.8,74.7 L436.2,73.6 L435.6,72.6 L434.8,71.6 L434.0,70.7 L433.1,69.9 L432.1,69.1 L431.1,68.5 L430.0,67.9 L428.9,67.4 L427.7,67.0 L426.4,66.7 L425.1,66.5 L423.7,66.4 L422.4,66.4 L420.9,66.4 L419.5,66.6 L418.0,66.9 L416.5,67.3 L415.0,67.7 L413.5,68.3 L412.0,69.0 L410.5,69.7 L408.9,70.6 L407.4,71.6 L405.9,72.7 L404.5,73.8 L403.0,75.1 L401.6,76.4 L400.2,77.8 L398.9,79.4 L397.6,81.0 L396.3,82.6 L395.1,84.4 L394.0,86.2 L392.9,88.1 L391.8,90.1 L390.9,92.1 L390.0,94.2 L389.1,96.4 L388.4,98.5 L387.7,100.8 L387.0,103.1 L386.5,105.4 L386.0,107.7 L385.7,110.1 L385.4,112.5 L385.2,114.9 L385.0,117.3 L385.0,119.7ZM385.0,119.7 L385.0,117.3 L384.8,114.9 L384.6,112.5 L384.3,110.1 L384.0,107.7 L383.5,105.4 L383.0,103.1 L382.3,100.8 L381.6,98.5 L380.9,96.4 L380.0,94.2 L379.1,92.1 L378.2,90.1 L377.1,88.1 L376.0,86.2 L374.9,84.4 L373.7,82.6 L372.4,81.0 L371.1,79.4 L369.8,77.8 L368.4,76.4 L367.0,75.1 L365.5,73.8 L364.1,72.7 L362.6,71.6 L361.1,70.6 L359.5,69.7 L358.0,69.0 L356.5,68.3 L355.0,67.7 L353.5,67.3 L352.0,66.9 L350.5,66.6 L349.1,66.4 L347.6,66.4 L346.3,66.4 L344.9,66.5 L343.6,66.7 L342.3,67.0 L341.1,67.4 L340.0,67.9 L338.9,68.5 L337.9,69.1 L336.9,69.9 L336.0,70.7 L335.2,71.6 L334.4,72.6 L333.8,73.6 L333.2,74.7 L332.7,75.8 L332.3,77.0 L332.0,78.3 L331.8,79.6 L331.7,81.0 L331.7,82.3 L331.7,83.8 L331.9,85.2 L332.2,86.7 L332.6,88.2 L333.0,89.7 L333.6,91.2 L334.3,92.7 L335.0,94.2 L335.9,95.8 L336.9,97.3 L338.0,98.8 L339.1,100.2 L340.4,101.7 L341.7,103.1 L343.1,104.5 L344.7,105.8 L346.3,107.1 L347.9,108.4 L349.7,109.6 L351.5,110.7 L353.4,111.8 L355.4,112.9 L357.4,113.8 L359.5,114.7 L361.7,115.6 L363.8,116.3 L366.1,117.0 L368.4,117.7 L370.7,118.2 L373.0,118.7 L375.4,119.0 L377.8,119.3 L380.2,119.5 L382.6,119.7 L385.0,119.7ZM385.0,119.7 L382.6,119.7 L380.2,119.9 L377.8,120.1 L375.4,120.4 L373.0,120.7 L370.7,121.2 L368.4,121.7 L366.1,122.4 L363.8,123.1 L361.7,123.8 L359.5,124.7 L357.4,125.6 L355.4,126.5 L353.4,127.6 L351.5,128.7 L349.7,129.8 L347.9,131.0 L346.3,132.3 L344.7,133.6 L343.1,134.9 L341.7,136.3 L340.4,137.7 L339.1,139.2 L338.0,140.6 L336.9,142.1 L335.9,143.6 L335.0,145.2 L334.3,146.7 L333.6,148.2 L333.0,149.7 L332.6,151.2 L332.2,152.7 L331.9,154.2 L331.7,155.6 L331.7,157.1 L331.7,158.4 L331.8,159.8 L332.0,161.1 L332.3,162.4 L332.7,163.6 L333.2,164.7 L333.8,165.8 L334.4,166.8 L335.2,167.8 L336.0,168.7 L336.9,169.5 L337.9,170.3 L338.9,170.9 L340.0,171.5 L341.1,172.0 L342.3,172.4 L343.6,172.7 L344.9,172.9 L346.3,173.0 L347.6,173.0 L349.1,173.0 L350.5,172.8 L352.0,172.5 L353.5,172.1 L355.0,171.7 L356.5,171.1 L358.0,170.4 L359.5,169.7 L361.1,168.8 L362.6,167.8 L364.1,166.7 L365.5,165.6 L367.0,164.3 L368.4,163.0 L369.8,161.6 L371.1,160.0 L372.4,158.4 L373.7,156.8 L374.9,155.0 L376.0,153.2 L377.1,151.3 L378.2,149.3 L379.1,147.3 L380.0,145.2 L380.9,143.0 L381.6,140.9 L382.3,138.6 L383.0,136.3 L383.5,134.0 L384.0,131.7 L384.3,129.3 L384.6,126.9 L384.8,124.5 L385.0,122.1 L385.0,119.7ZM385.0,119.7 L385.0,122.1 L385.2,124.5 L385.4,126.9 L385.7,129.3 L386.0,131.7 L386.5,134.0 L387.0,136.3 L387.7,138.6 L388.4,140.9 L389.1,143.0 L390.0,145.2 L390.9,147.3 L391.8,149.3 L392.9,151.3 L394.0,153.2 L395.1,155.0 L396.3,156.8 L397.6,158.4 L398.9,160.0 L400.2,161.6 L401.6,163.0 L403.0,164.3 L404.5,165.6 L405.9,166.7 L407.4,167.8 L408.9,168.8 L410.5,169.7 L412.0,170.4 L413.5,171.1 L415.0,171.7 L416.5,172.1 L418.0,172.5 L419.5,172.8 L420.9,173.0 L422.4,173.0 L423.7,173.0 L425.1,172.9 L426.4,172.7 L427.7,172.4 L428.9,172.0 L430.0,171.5 L431.1,170.9 L432.1,170.3 L433.1,169.5 L434.0,168.7 L434.8,167.8 L435.6,166.8 L436.2,165.8 L436.8,164.7 L437.3,163.6 L437.7,162.4 L438.0,161.1 L438.2,159.8 L438.3,158.4 L438.3,157.1 L438.3,155.6 L438.1,154.2 L437.8,152.7 L437.4,151.2 L437.0,149.7 L436.4,148.2 L435.7,146.7 L435.0,145.2 L434.1,143.6 L433.1,142.1 L432.0,140.6 L430.9,139.2 L429.6,137.7 L428.3,136.3 L426.9,134.9 L425.3,133.6 L423.7,132.3 L422.1,131.0 L420.3,129.8 L418.5,128.7 L416.6,127.6 L414.6,126.5 L412.6,125.6 L410.5,124.7 L408.3,123.8 L406.2,123.1 L403.9,122.4 L401.6,121.7 L399.3,121.2 L397.0,120.7 L394.6,120.4 L392.2,120.1 L389.8,119.9 L387.4,119.7 L385.0,119.7Z" fill="#c5837c" clip-path="url(#cd)"/>
<path d="M308.0,119.7 L462.0,119.7 M385,46.7 L385,192.7" stroke="#7a7a7a" stroke-width="1" stroke-dasharray="1.4 1"/><path d="M333.0,67.7 L437.0,171.7 M333.0,171.7 L437.0,67.7" stroke="#2a2a2a" stroke-width="0.7" stroke-dasharray="1.3 0.8"/><circle cx="385" cy="119.7" r="34.65" fill="none" stroke="#3a3a3a" stroke-width="0.8" stroke-dasharray="2.2 1.4"/>
<path d="M385.0,119.7 L386.7,121.4 L388.5,123.0 L390.4,124.5 L392.3,126.0 L394.2,127.4 L396.2,128.8 L398.2,130.0 L400.3,131.2 L402.3,132.3 L404.4,133.3 L406.5,134.2 L408.6,135.1 L410.8,135.8 L412.9,136.5 L415.0,137.0 L417.1,137.5 L419.2,137.9 L421.3,138.2 L423.3,138.4 L425.4,138.5 L427.4,138.6 L429.3,138.5 L431.2,138.4 L433.1,138.2 L434.9,137.9 L436.6,137.5 L438.3,137.0 L439.9,136.5 L441.5,135.9 L443.0,135.2 L444.4,134.5 L445.7,133.7 L446.9,132.9 L448.1,132.0 L449.1,131.0 L450.1,130.0 L451.0,129.0 L451.7,127.9 L452.4,126.8 L453.0,125.6 L453.5,124.5 L453.8,123.3 L454.1,122.1 L454.2,120.9 L454.3,119.7 L454.2,118.5 L454.1,117.3 L453.8,116.1 L453.5,114.9 L453.0,113.8 L452.4,112.6 L451.7,111.5 L451.0,110.4 L450.1,109.4 L449.1,108.4 L448.1,107.4 L446.9,106.5 L445.7,105.7 L444.4,104.9 L443.0,104.2 L441.5,103.5 L439.9,102.9 L438.3,102.4 L436.6,101.9 L434.9,101.5 L433.1,101.2 L431.2,101.0 L429.3,100.9 L427.4,100.8 L425.4,100.9 L423.3,101.0 L421.3,101.2 L419.2,101.5 L417.1,101.9 L415.0,102.4 L412.9,102.9 L410.8,103.6 L408.6,104.3 L406.5,105.2 L404.4,106.1 L402.3,107.1 L400.3,108.2 L398.2,109.4 L396.2,110.6 L394.2,112.0 L392.3,113.4 L390.4,114.9 L388.5,116.4 L386.7,118.0 L385.0,119.7ZM385.0,119.7 L386.7,118.0 L388.3,116.2 L389.8,114.3 L391.3,112.4 L392.7,110.5 L394.1,108.5 L395.3,106.5 L396.5,104.4 L397.6,102.4 L398.6,100.3 L399.5,98.2 L400.4,96.1 L401.1,93.9 L401.8,91.8 L402.3,89.7 L402.8,87.6 L403.2,85.5 L403.5,83.4 L403.7,81.4 L403.8,79.3 L403.9,77.3 L403.8,75.4 L403.7,73.5 L403.5,71.6 L403.2,69.8 L402.8,68.1 L402.3,66.4 L401.8,64.8 L401.2,63.2 L400.5,61.7 L399.8,60.3 L399.0,59.0 L398.2,57.8 L397.3,56.6 L396.3,55.6 L395.3,54.6 L394.3,53.7 L393.2,53.0 L392.1,52.3 L390.9,51.7 L389.8,51.2 L388.6,50.9 L387.4,50.6 L386.2,50.5 L385.0,50.4 L383.8,50.5 L382.6,50.6 L381.4,50.9 L380.2,51.2 L379.1,51.7 L377.9,52.3 L376.8,53.0 L375.7,53.7 L374.7,54.6 L373.7,55.6 L372.7,56.6 L371.8,57.8 L371.0,59.0 L370.2,60.3 L369.5,61.7 L368.8,63.2 L368.2,64.8 L367.7,66.4 L367.2,68.1 L366.8,69.8 L366.5,71.6 L366.3,73.5 L366.2,75.4 L366.1,77.3 L366.2,79.3 L366.3,81.4 L366.5,83.4 L366.8,85.5 L367.2,87.6 L367.7,89.7 L368.2,91.8 L368.9,93.9 L369.6,96.1 L370.5,98.2 L371.4,100.3 L372.4,102.4 L373.5,104.4 L374.7,106.5 L375.9,108.5 L377.3,110.5 L378.7,112.4 L380.2,114.3 L381.7,116.2 L383.3,118.0 L385.0,119.7ZM385.0,119.7 L383.3,118.0 L381.5,116.4 L379.6,114.9 L377.7,113.4 L375.8,112.0 L373.8,110.6 L371.8,109.4 L369.7,108.2 L367.7,107.1 L365.6,106.1 L363.5,105.2 L361.4,104.3 L359.2,103.6 L357.1,102.9 L355.0,102.4 L352.9,101.9 L350.8,101.5 L348.7,101.2 L346.7,101.0 L344.6,100.9 L342.6,100.8 L340.7,100.9 L338.8,101.0 L336.9,101.2 L335.1,101.5 L333.4,101.9 L331.7,102.4 L330.1,102.9 L328.5,103.5 L327.0,104.2 L325.6,104.9 L324.3,105.7 L323.1,106.5 L321.9,107.4 L320.9,108.4 L319.9,109.4 L319.0,110.4 L318.3,111.5 L317.6,112.6 L317.0,113.8 L316.5,114.9 L316.2,116.1 L315.9,117.3 L315.8,118.5 L315.7,119.7 L315.8,120.9 L315.9,122.1 L316.2,123.3 L316.5,124.5 L317.0,125.6 L317.6,126.8 L318.3,127.9 L319.0,129.0 L319.9,130.0 L320.9,131.0 L321.9,132.0 L323.1,132.9 L324.3,133.7 L325.6,134.5 L327.0,135.2 L328.5,135.9 L330.1,136.5 L331.7,137.0 L333.4,137.5 L335.1,137.9 L336.9,138.2 L338.8,138.4 L340.7,138.5 L342.6,138.6 L344.6,138.5 L346.7,138.4 L348.7,138.2 L350.8,137.9 L352.9,137.5 L355.0,137.0 L357.1,136.5 L359.2,135.8 L361.4,135.1 L363.5,134.2 L365.6,133.3 L367.7,132.3 L369.7,131.2 L371.8,130.0 L373.8,128.8 L375.8,127.4 L377.7,126.0 L379.6,124.5 L381.5,123.0 L383.3,121.4 L385.0,119.7ZM385.0,119.7 L383.3,121.4 L381.7,123.2 L380.2,125.1 L378.7,127.0 L377.3,128.9 L375.9,130.9 L374.7,132.9 L373.5,135.0 L372.4,137.0 L371.4,139.1 L370.5,141.2 L369.6,143.3 L368.9,145.5 L368.2,147.6 L367.7,149.7 L367.2,151.8 L366.8,153.9 L366.5,156.0 L366.3,158.0 L366.2,160.1 L366.1,162.1 L366.2,164.0 L366.3,165.9 L366.5,167.8 L366.8,169.6 L367.2,171.3 L367.7,173.0 L368.2,174.6 L368.8,176.2 L369.5,177.7 L370.2,179.1 L371.0,180.4 L371.8,181.6 L372.7,182.8 L373.7,183.8 L374.7,184.8 L375.7,185.7 L376.8,186.4 L377.9,187.1 L379.1,187.7 L380.2,188.2 L381.4,188.5 L382.6,188.8 L383.8,188.9 L385.0,189.0 L386.2,188.9 L387.4,188.8 L388.6,188.5 L389.8,188.2 L390.9,187.7 L392.1,187.1 L393.2,186.4 L394.3,185.7 L395.3,184.8 L396.3,183.8 L397.3,182.8 L398.2,181.6 L399.0,180.4 L399.8,179.1 L400.5,177.7 L401.2,176.2 L401.8,174.6 L402.3,173.0 L402.8,171.3 L403.2,169.6 L403.5,167.8 L403.7,165.9 L403.8,164.0 L403.9,162.1 L403.8,160.1 L403.7,158.0 L403.5,156.0 L403.2,153.9 L402.8,151.8 L402.3,149.7 L401.8,147.6 L401.1,145.5 L400.4,143.3 L399.5,141.2 L398.6,139.1 L397.6,137.0 L396.5,135.0 L395.3,132.9 L394.1,130.9 L392.7,128.9 L391.3,127.0 L389.8,125.1 L388.3,123.2 L386.7,121.4 L385.0,119.7Z" fill="none" stroke="#1c55a6" stroke-width="1.2" stroke-dasharray="2.1 1.4"/>
<path d="M385.0,119.7 L387.4,119.7 L389.8,119.5 L392.2,119.3 L394.6,119.0 L397.0,118.7 L399.3,118.2 L401.6,117.7 L403.9,117.0 L406.2,116.3 L408.3,115.6 L410.5,114.7 L412.6,113.8 L414.6,112.9 L416.6,111.8 L418.5,110.7 L420.3,109.6 L422.1,108.4 L423.7,107.1 L425.3,105.8 L426.9,104.5 L428.3,103.1 L429.6,101.7 L430.9,100.2 L432.0,98.8 L433.1,97.3 L434.1,95.8 L435.0,94.2 L435.7,92.7 L436.4,91.2 L437.0,89.7 L437.4,88.2 L437.8,86.7 L438.1,85.2 L438.3,83.8 L438.3,82.3 L438.3,81.0 L438.2,79.6 L438.0,78.3 L437.7,77.0 L437.3,75.8 L436.8,74.7 L436.2,73.6 L435.6,72.6 L434.8,71.6 L434.0,70.7 L433.1,69.9 L432.1,69.1 L431.1,68.5 L430.0,67.9 L428.9,67.4 L427.7,67.0 L426.4,66.7 L425.1,66.5 L423.7,66.4 L422.4,66.4 L420.9,66.4 L419.5,66.6 L418.0,66.9 L416.5,67.3 L415.0,67.7 L413.5,68.3 L412.0,69.0 L410.5,69.7 L408.9,70.6 L407.4,71.6 L405.9,72.7 L404.5,73.8 L403.0,75.1 L401.6,76.4 L400.2,77.8 L398.9,79.4 L397.6,81.0 L396.3,82.6 L395.1,84.4 L394.0,86.2 L392.9,88.1 L391.8,90.1 L390.9,92.1 L390.0,94.2 L389.1,96.4 L388.4,98.5 L387.7,100.8 L387.0,103.1 L386.5,105.4 L386.0,107.7 L385.7,110.1 L385.4,112.5 L385.2,114.9 L385.0,117.3 L385.0,119.7ZM385.0,119.7 L385.0,117.3 L384.8,114.9 L384.6,112.5 L384.3,110.1 L384.0,107.7 L383.5,105.4 L383.0,103.1 L382.3,100.8 L381.6,98.5 L380.9,96.4 L380.0,94.2 L379.1,92.1 L378.2,90.1 L377.1,88.1 L376.0,86.2 L374.9,84.4 L373.7,82.6 L372.4,81.0 L371.1,79.4 L369.8,77.8 L368.4,76.4 L367.0,75.1 L365.5,73.8 L364.1,72.7 L362.6,71.6 L361.1,70.6 L359.5,69.7 L358.0,69.0 L356.5,68.3 L355.0,67.7 L353.5,67.3 L352.0,66.9 L350.5,66.6 L349.1,66.4 L347.6,66.4 L346.3,66.4 L344.9,66.5 L343.6,66.7 L342.3,67.0 L341.1,67.4 L340.0,67.9 L338.9,68.5 L337.9,69.1 L336.9,69.9 L336.0,70.7 L335.2,71.6 L334.4,72.6 L333.8,73.6 L333.2,74.7 L332.7,75.8 L332.3,77.0 L332.0,78.3 L331.8,79.6 L331.7,81.0 L331.7,82.3 L331.7,83.8 L331.9,85.2 L332.2,86.7 L332.6,88.2 L333.0,89.7 L333.6,91.2 L334.3,92.7 L335.0,94.2 L335.9,95.8 L336.9,97.3 L338.0,98.8 L339.1,100.2 L340.4,101.7 L341.7,103.1 L343.1,104.5 L344.7,105.8 L346.3,107.1 L347.9,108.4 L349.7,109.6 L351.5,110.7 L353.4,111.8 L355.4,112.9 L357.4,113.8 L359.5,114.7 L361.7,115.6 L363.8,116.3 L366.1,117.0 L368.4,117.7 L370.7,118.2 L373.0,118.7 L375.4,119.0 L377.8,119.3 L380.2,119.5 L382.6,119.7 L385.0,119.7ZM385.0,119.7 L382.6,119.7 L380.2,119.9 L377.8,120.1 L375.4,120.4 L373.0,120.7 L370.7,121.2 L368.4,121.7 L366.1,122.4 L363.8,123.1 L361.7,123.8 L359.5,124.7 L357.4,125.6 L355.4,126.5 L353.4,127.6 L351.5,128.7 L349.7,129.8 L347.9,131.0 L346.3,132.3 L344.7,133.6 L343.1,134.9 L341.7,136.3 L340.4,137.7 L339.1,139.2 L338.0,140.6 L336.9,142.1 L335.9,143.6 L335.0,145.2 L334.3,146.7 L333.6,148.2 L333.0,149.7 L332.6,151.2 L332.2,152.7 L331.9,154.2 L331.7,155.6 L331.7,157.1 L331.7,158.4 L331.8,159.8 L332.0,161.1 L332.3,162.4 L332.7,163.6 L333.2,164.7 L333.8,165.8 L334.4,166.8 L335.2,167.8 L336.0,168.7 L336.9,169.5 L337.9,170.3 L338.9,170.9 L340.0,171.5 L341.1,172.0 L342.3,172.4 L343.6,172.7 L344.9,172.9 L346.3,173.0 L347.6,173.0 L349.1,173.0 L350.5,172.8 L352.0,172.5 L353.5,172.1 L355.0,171.7 L356.5,171.1 L358.0,170.4 L359.5,169.7 L361.1,168.8 L362.6,167.8 L364.1,166.7 L365.5,165.6 L367.0,164.3 L368.4,163.0 L369.8,161.6 L371.1,160.0 L372.4,158.4 L373.7,156.8 L374.9,155.0 L376.0,153.2 L377.1,151.3 L378.2,149.3 L379.1,147.3 L380.0,145.2 L380.9,143.0 L381.6,140.9 L382.3,138.6 L383.0,136.3 L383.5,134.0 L384.0,131.7 L384.3,129.3 L384.6,126.9 L384.8,124.5 L385.0,122.1 L385.0,119.7ZM385.0,119.7 L385.0,122.1 L385.2,124.5 L385.4,126.9 L385.7,129.3 L386.0,131.7 L386.5,134.0 L387.0,136.3 L387.7,138.6 L388.4,140.9 L389.1,143.0 L390.0,145.2 L390.9,147.3 L391.8,149.3 L392.9,151.3 L394.0,153.2 L395.1,155.0 L396.3,156.8 L397.6,158.4 L398.9,160.0 L400.2,161.6 L401.6,163.0 L403.0,164.3 L404.5,165.6 L405.9,166.7 L407.4,167.8 L408.9,168.8 L410.5,169.7 L412.0,170.4 L413.5,171.1 L415.0,171.7 L416.5,172.1 L418.0,172.5 L419.5,172.8 L420.9,173.0 L422.4,173.0 L423.7,173.0 L425.1,172.9 L426.4,172.7 L427.7,172.4 L428.9,172.0 L430.0,171.5 L431.1,170.9 L432.1,170.3 L433.1,169.5 L434.0,168.7 L434.8,167.8 L435.6,166.8 L436.2,165.8 L436.8,164.7 L437.3,163.6 L437.7,162.4 L438.0,161.1 L438.2,159.8 L438.3,158.4 L438.3,157.1 L438.3,155.6 L438.1,154.2 L437.8,152.7 L437.4,151.2 L437.0,149.7 L436.4,148.2 L435.7,146.7 L435.0,145.2 L434.1,143.6 L433.1,142.1 L432.0,140.6 L430.9,139.2 L429.6,137.7 L428.3,136.3 L426.9,134.9 L425.3,133.6 L423.7,132.3 L422.1,131.0 L420.3,129.8 L418.5,128.7 L416.6,127.6 L414.6,126.5 L412.6,125.6 L410.5,124.7 L408.3,123.8 L406.2,123.1 L403.9,122.4 L401.6,121.7 L399.3,121.2 L397.0,120.7 L394.6,120.4 L392.2,120.1 L389.8,119.9 L387.4,119.7 L385.0,119.7Z" fill="none" stroke="#d40f1c" stroke-width="1.2" stroke-dasharray="8 1.9 2.1 1.9"/>
<circle cx="385" cy="119.7" r="69.3" fill="none" stroke="#111" stroke-width="1.2"/>
<text x="278.4" y="12.1" font-size="16" stroke="#000">(d)</text>
<text x="385" y="11.9" font-size="16.2" text-anchor="middle" stroke="#000">Theory</text>
<g transform="translate(385,31.9)" fill="#1d6fd6" stroke="#1d6fd6" stroke-width="0.15"><text x="-16.5" y="0" font-size="10.4">HV</text><text x="9" y="0" font-size="10.4">H</text><line x1="-1.03" y1="-2.81" x2="6.56" y2="-2.81" stroke="#1d6fd6" stroke-width="0.68"/><path d="M8.64,-2.81 L4.90,-4.47 L6.02,-2.81 L4.90,-1.14Z" stroke="none"/></g>
<text x="386.6" y="46.6" font-size="13.5" text-anchor="middle" stroke="#000">90°</text>
<g transform="translate(319.4,64.2)" fill="#fa5222" stroke="#fa5222" stroke-width="0.15"><text x="-16.5" y="0" font-size="10.4">HA</text><text x="9" y="0" font-size="10.4">V</text><line x1="-1.03" y1="-2.81" x2="6.56" y2="-2.81" stroke="#fa5222" stroke-width="0.68"/><path d="M8.64,-2.81 L4.90,-4.47 L6.02,-2.81 L4.90,-1.14Z" stroke="none"/></g>
<g transform="translate(450.6,64.3)" fill="#fa5222" stroke="#fa5222" stroke-width="0.15"><text x="-16.5" y="0" font-size="10.4">HD</text><text x="9" y="0" font-size="10.4">V</text><line x1="-1.03" y1="-2.81" x2="6.56" y2="-2.81" stroke="#fa5222" stroke-width="0.68"/><path d="M8.64,-2.81 L4.90,-4.47 L6.02,-2.81 L4.90,-1.14Z" stroke="none"/></g>
<text x="284.6" y="119.8" font-size="13.5" stroke="#000">180°</text>
<text x="467.3" y="119.4" font-size="13.5" stroke="#000">0°</text>
<g transform="translate(459,133.7)" fill="#1d6fd6" stroke="#1d6fd6" stroke-width="0.15"><text x="0" y="0" font-size="10.4">HH</text><text x="25.4" y="0" font-size="10.4">H</text><line x1="15.44" y1="-2.81" x2="23.03" y2="-2.81" stroke="#1d6fd6" stroke-width="0.68"/><path d="M25.11,-2.81 L21.37,-4.47 L22.49,-2.81 L21.37,-1.14Z" stroke="none"/></g>
<text x="386.6" y="204.3" font-size="13.5" text-anchor="middle" stroke="#000">270°</text>
<path d="M465.4,118.8 Q465.6,97 459.9,88.3" fill="none" stroke="#000" stroke-width="1"/>
<path d="M457.2,83.4 L463.0,88.2 L459.6,87.7 L458.1,90.9Z" fill="#000"/>
<text x="468.6" y="89.7" font-size="15.5" stroke="#000" style="font-style:italic">φ</text>
<text x="476.5" y="96.2" font-size="11" stroke="#000">2</text>
<rect x="263" y="83" width="19.7" height="72" fill="#fff" stroke="#444" stroke-width="0.9"/>
<text stroke="#000" transform="translate(277.9,119) rotate(-90)" font-size="13.5" text-anchor="middle">Trion / D<tspan dy="-4.6" font-size="9.2">0</tspan><tspan dy="4.6">X</tspan></text>
<line x1="455.5" y1="162.1" x2="482.3" y2="162.1" stroke="#222" stroke-width="1.3"/>
<line x1="455.5" y1="181.2" x2="482.3" y2="181.2" stroke="#222" stroke-width="1.3" stroke-dasharray="6.3 2.8"/>
<line x1="455.5" y1="199.8" x2="482.3" y2="199.8" stroke="#3a70b8" stroke-width="1.3" stroke-dasharray="2.2 1.8"/>
<line x1="455.5" y1="218.4" x2="482.3" y2="218.4" stroke="#d40f1c" stroke-width="1.3" stroke-dasharray="8.3 1.9 2.2 2.1"/>
<text x="488.4" y="166.7" font-size="13" stroke="#000" style="font-style:italic">φ</text>
<text x="495.3" y="170" font-size="8.6" stroke="#000" style="font-style:italic">d</text>
<text x="501.8" y="166.7" font-size="13" stroke="#000">=</text>
<text x="488.4" y="185.2" font-size="13" stroke="#000" style="font-style:italic">φ</text>
<text x="495.3" y="188.5" font-size="8.6" stroke="#000" style="font-style:italic">d</text>
<text x="501.8" y="185.2" font-size="13" stroke="#000">=</text>
<text x="488.4" y="204.6" font-size="13" stroke="#000" style="font-style:italic">φ</text>
<text x="495.3" y="207.9" font-size="8.6" stroke="#000" style="font-style:italic">d</text>
<text x="501.8" y="204.6" font-size="13" stroke="#000">=</text>
<text x="511.6" y="204.6" font-size="12.6" stroke="#000">0° (H)</text>
<text x="488.4" y="222.3" font-size="13" stroke="#000" style="font-style:italic">φ</text>
<text x="495.3" y="225.6" font-size="8.6" stroke="#000" style="font-style:italic">d</text>
<text x="501.8" y="222.3" font-size="13" stroke="#000">=</text>
<text x="511.6" y="222.3" font-size="12.6" stroke="#000">90° (V)</text>
<text x="511.6" y="166.7" font-size="13" stroke="#000">2</text>
<text x="517.3" y="166.7" font-size="13" stroke="#000" style="font-style:italic">φ</text>
<text x="524.3" y="170" font-size="8.6" stroke="#000">2</text>
<text x="511.6" y="185.2" font-size="13" stroke="#000" style="font-style:italic">φ</text>
<text x="518.6" y="188.5" font-size="8.6" stroke="#000">2</text>
<clipPath id="cf"><path d="M608.6,119.3 L610.3,120.9 L612.1,122.5 L613.9,124.1 L615.8,125.5 L617.7,126.9 L619.7,128.3 L621.7,129.5 L623.7,130.7 L625.8,131.8 L627.9,132.8 L630.1,133.8 L632.2,134.7 L634.4,135.4 L636.6,136.1 L638.7,136.7 L640.9,137.2 L643.1,137.6 L645.2,137.9 L647.3,138.2 L649.4,138.3 L651.4,138.4 L653.4,138.3 L655.4,138.2 L657.3,138.0 L659.2,137.7 L661.0,137.3 L662.7,136.9 L664.4,136.3 L666.0,135.7 L667.5,135.1 L668.9,134.3 L670.3,133.5 L671.5,132.7 L672.7,131.8 L673.8,130.8 L674.8,129.8 L675.7,128.7 L676.5,127.6 L677.2,126.5 L677.7,125.3 L678.2,124.2 L678.6,123.0 L678.9,121.8 L679.0,120.5 L679.1,119.3 L679.0,118.1 L678.8,116.8 L678.5,115.6 L678.1,114.4 L677.6,113.3 L677.0,112.1 L676.2,111.0 L675.4,109.9 L674.5,108.9 L673.5,107.9 L672.4,106.9 L671.2,106.0 L669.9,105.2 L668.5,104.4 L667.1,103.6 L665.5,103.0 L663.9,102.4 L662.2,101.9 L660.5,101.4 L658.7,101.1 L656.8,100.8 L654.9,100.6 L653.0,100.5 L651.0,100.4 L648.9,100.5 L646.9,100.6 L644.8,100.9 L642.6,101.2 L640.5,101.6 L638.4,102.1 L636.2,102.7 L634.1,103.4 L631.9,104.2 L629.8,105.0 L627.7,105.9 L625.6,107.0 L623.5,108.1 L621.5,109.2 L619.5,110.5 L617.6,111.8 L615.7,113.2 L613.8,114.6 L612.0,116.1 L610.3,117.7 L608.6,119.3ZM608.6,119.3 L610.2,117.6 L611.7,115.9 L613.2,114.2 L614.6,112.4 L615.9,110.6 L617.1,108.8 L618.3,106.9 L619.3,105.1 L620.3,103.2 L621.2,101.3 L622.0,99.5 L622.7,97.6 L623.3,95.7 L623.9,93.9 L624.3,92.1 L624.7,90.3 L625.0,88.5 L625.2,86.7 L625.3,85.0 L625.4,83.3 L625.3,81.7 L625.2,80.1 L625.1,78.6 L624.8,77.1 L624.5,75.6 L624.1,74.3 L623.7,72.9 L623.2,71.7 L622.6,70.5 L622.0,69.3 L621.3,68.2 L620.6,67.2 L619.9,66.3 L619.1,65.4 L618.2,64.6 L617.4,63.9 L616.5,63.2 L615.6,62.6 L614.6,62.1 L613.6,61.6 L612.7,61.3 L611.7,61.0 L610.6,60.7 L609.6,60.6 L608.6,60.5 L607.6,60.6 L606.6,60.7 L605.5,60.9 L604.5,61.1 L603.5,61.5 L602.6,61.9 L601.6,62.4 L600.7,62.9 L599.8,63.6 L598.9,64.3 L598.1,65.1 L597.3,65.9 L596.5,66.8 L595.8,67.8 L595.1,68.9 L594.5,70.0 L593.9,71.2 L593.4,72.5 L592.9,73.8 L592.5,75.2 L592.2,76.6 L592.0,78.1 L591.8,79.7 L591.7,81.3 L591.6,82.9 L591.7,84.6 L591.8,86.3 L592.0,88.1 L592.3,89.9 L592.7,91.7 L593.1,93.5 L593.7,95.4 L594.3,97.3 L595.0,99.2 L595.8,101.1 L596.7,103.0 L597.7,104.9 L598.8,106.8 L600.0,108.6 L601.2,110.5 L602.5,112.3 L603.9,114.1 L605.4,115.9 L607.0,117.6 L608.6,119.3ZM608.6,119.3 L606.9,117.7 L605.1,116.1 L603.3,114.5 L601.4,113.1 L599.5,111.7 L597.5,110.3 L595.5,109.1 L593.5,107.9 L591.4,106.8 L589.3,105.8 L587.1,104.8 L585.0,103.9 L582.8,103.2 L580.6,102.5 L578.5,101.9 L576.3,101.4 L574.1,101.0 L572.0,100.7 L569.9,100.4 L567.8,100.3 L565.8,100.2 L563.8,100.3 L561.8,100.4 L559.9,100.6 L558.0,100.9 L556.2,101.3 L554.5,101.7 L552.8,102.3 L551.2,102.9 L549.7,103.5 L548.3,104.3 L546.9,105.1 L545.7,105.9 L544.5,106.8 L543.4,107.8 L542.4,108.8 L541.5,109.9 L540.7,111.0 L540.0,112.1 L539.5,113.3 L539.0,114.4 L538.6,115.6 L538.3,116.8 L538.2,118.1 L538.1,119.3 L538.2,120.5 L538.3,121.8 L538.6,123.0 L539.0,124.2 L539.5,125.3 L540.0,126.5 L540.7,127.6 L541.5,128.7 L542.4,129.8 L543.4,130.8 L544.5,131.8 L545.7,132.7 L546.9,133.5 L548.3,134.3 L549.7,135.1 L551.2,135.7 L552.8,136.3 L554.5,136.9 L556.2,137.3 L558.0,137.7 L559.9,138.0 L561.8,138.2 L563.8,138.3 L565.8,138.4 L567.8,138.3 L569.9,138.2 L572.0,137.9 L574.1,137.6 L576.3,137.2 L578.5,136.7 L580.6,136.1 L582.8,135.4 L585.0,134.7 L587.1,133.8 L589.3,132.8 L591.4,131.8 L593.5,130.7 L595.5,129.5 L597.5,128.3 L599.5,126.9 L601.4,125.5 L603.3,124.1 L605.1,122.5 L606.9,120.9 L608.6,119.3ZM608.6,119.3 L607.0,121.0 L605.4,122.7 L603.9,124.5 L602.5,126.3 L601.2,128.1 L600.0,130.0 L598.8,131.8 L597.7,133.7 L596.7,135.6 L595.8,137.5 L595.0,139.4 L594.3,141.3 L593.7,143.2 L593.1,145.1 L592.7,146.9 L592.3,148.7 L592.0,150.5 L591.8,152.3 L591.7,154.0 L591.6,155.7 L591.7,157.3 L591.8,158.9 L592.0,160.5 L592.2,162.0 L592.5,163.4 L592.9,164.8 L593.4,166.1 L593.9,167.4 L594.5,168.6 L595.1,169.7 L595.8,170.8 L596.5,171.8 L597.3,172.7 L598.1,173.5 L598.9,174.3 L599.8,175.0 L600.7,175.7 L601.6,176.2 L602.6,176.7 L603.5,177.1 L604.5,177.5 L605.5,177.7 L606.6,177.9 L607.6,178.0 L608.6,178.1 L609.6,178.0 L610.6,177.9 L611.7,177.7 L612.7,177.5 L613.7,177.1 L614.6,176.7 L615.6,176.2 L616.5,175.7 L617.4,175.0 L618.3,174.3 L619.1,173.5 L619.9,172.7 L620.7,171.8 L621.4,170.8 L622.1,169.7 L622.7,168.6 L623.3,167.4 L623.8,166.1 L624.3,164.8 L624.7,163.4 L625.0,162.0 L625.2,160.5 L625.4,158.9 L625.5,157.3 L625.6,155.7 L625.5,154.0 L625.4,152.3 L625.2,150.5 L624.9,148.7 L624.5,146.9 L624.1,145.1 L623.5,143.2 L622.9,141.3 L622.2,139.4 L621.4,137.5 L620.5,135.6 L619.5,133.7 L618.4,131.8 L617.2,130.0 L616.0,128.1 L614.7,126.3 L613.3,124.5 L611.8,122.7 L610.2,121.0 L608.6,119.3Z"/></clipPath>
<path d="M608.6,119.3 L610.3,120.9 L612.1,122.5 L613.9,124.1 L615.8,125.5 L617.7,126.9 L619.7,128.3 L621.7,129.5 L623.7,130.7 L625.8,131.8 L627.9,132.8 L630.1,133.8 L632.2,134.7 L634.4,135.4 L636.6,136.1 L638.7,136.7 L640.9,137.2 L643.1,137.6 L645.2,137.9 L647.3,138.2 L649.4,138.3 L651.4,138.4 L653.4,138.3 L655.4,138.2 L657.3,138.0 L659.2,137.7 L661.0,137.3 L662.7,136.9 L664.4,136.3 L666.0,135.7 L667.5,135.1 L668.9,134.3 L670.3,133.5 L671.5,132.7 L672.7,131.8 L673.8,130.8 L674.8,129.8 L675.7,128.7 L676.5,127.6 L677.2,126.5 L677.7,125.3 L678.2,124.2 L678.6,123.0 L678.9,121.8 L679.0,120.5 L679.1,119.3 L679.0,118.1 L678.8,116.8 L678.5,115.6 L678.1,114.4 L677.6,113.3 L677.0,112.1 L676.2,111.0 L675.4,109.9 L674.5,108.9 L673.5,107.9 L672.4,106.9 L671.2,106.0 L669.9,105.2 L668.5,104.4 L667.1,103.6 L665.5,103.0 L663.9,102.4 L662.2,101.9 L660.5,101.4 L658.7,101.1 L656.8,100.8 L654.9,100.6 L653.0,100.5 L651.0,100.4 L648.9,100.5 L646.9,100.6 L644.8,100.9 L642.6,101.2 L640.5,101.6 L638.4,102.1 L636.2,102.7 L634.1,103.4 L631.9,104.2 L629.8,105.0 L627.7,105.9 L625.6,107.0 L623.5,108.1 L621.5,109.2 L619.5,110.5 L617.6,111.8 L615.7,113.2 L613.8,114.6 L612.0,116.1 L610.3,117.7 L608.6,119.3ZM608.6,119.3 L610.2,117.6 L611.7,115.9 L613.2,114.2 L614.6,112.4 L615.9,110.6 L617.1,108.8 L618.3,106.9 L619.3,105.1 L620.3,103.2 L621.2,101.3 L622.0,99.5 L622.7,97.6 L623.3,95.7 L623.9,93.9 L624.3,92.1 L624.7,90.3 L625.0,88.5 L625.2,86.7 L625.3,85.0 L625.4,83.3 L625.3,81.7 L625.2,80.1 L625.1,78.6 L624.8,77.1 L624.5,75.6 L624.1,74.3 L623.7,72.9 L623.2,71.7 L622.6,70.5 L622.0,69.3 L621.3,68.2 L620.6,67.2 L619.9,66.3 L619.1,65.4 L618.2,64.6 L617.4,63.9 L616.5,63.2 L615.6,62.6 L614.6,62.1 L613.6,61.6 L612.7,61.3 L611.7,61.0 L610.6,60.7 L609.6,60.6 L608.6,60.5 L607.6,60.6 L606.6,60.7 L605.5,60.9 L604.5,61.1 L603.5,61.5 L602.6,61.9 L601.6,62.4 L600.7,62.9 L599.8,63.6 L598.9,64.3 L598.1,65.1 L597.3,65.9 L596.5,66.8 L595.8,67.8 L595.1,68.9 L594.5,70.0 L593.9,71.2 L593.4,72.5 L592.9,73.8 L592.5,75.2 L592.2,76.6 L592.0,78.1 L591.8,79.7 L591.7,81.3 L591.6,82.9 L591.7,84.6 L591.8,86.3 L592.0,88.1 L592.3,89.9 L592.7,91.7 L593.1,93.5 L593.7,95.4 L594.3,97.3 L595.0,99.2 L595.8,101.1 L596.7,103.0 L597.7,104.9 L598.8,106.8 L600.0,108.6 L601.2,110.5 L602.5,112.3 L603.9,114.1 L605.4,115.9 L607.0,117.6 L608.6,119.3ZM608.6,119.3 L606.9,117.7 L605.1,116.1 L603.3,114.5 L601.4,113.1 L599.5,111.7 L597.5,110.3 L595.5,109.1 L593.5,107.9 L591.4,106.8 L589.3,105.8 L587.1,104.8 L585.0,103.9 L582.8,103.2 L580.6,102.5 L578.5,101.9 L576.3,101.4 L574.1,101.0 L572.0,100.7 L569.9,100.4 L567.8,100.3 L565.8,100.2 L563.8,100.3 L561.8,100.4 L559.9,100.6 L558.0,100.9 L556.2,101.3 L554.5,101.7 L552.8,102.3 L551.2,102.9 L549.7,103.5 L548.3,104.3 L546.9,105.1 L545.7,105.9 L544.5,106.8 L543.4,107.8 L542.4,108.8 L541.5,109.9 L540.7,111.0 L540.0,112.1 L539.5,113.3 L539.0,114.4 L538.6,115.6 L538.3,116.8 L538.2,118.1 L538.1,119.3 L538.2,120.5 L538.3,121.8 L538.6,123.0 L539.0,124.2 L539.5,125.3 L540.0,126.5 L540.7,127.6 L541.5,128.7 L542.4,129.8 L543.4,130.8 L544.5,131.8 L545.7,132.7 L546.9,133.5 L548.3,134.3 L549.7,135.1 L551.2,135.7 L552.8,136.3 L554.5,136.9 L556.2,137.3 L558.0,137.7 L559.9,138.0 L561.8,138.2 L563.8,138.3 L565.8,138.4 L567.8,138.3 L569.9,138.2 L572.0,137.9 L574.1,137.6 L576.3,137.2 L578.5,136.7 L580.6,136.1 L582.8,135.4 L585.0,134.7 L587.1,133.8 L589.3,132.8 L591.4,131.8 L593.5,130.7 L595.5,129.5 L597.5,128.3 L599.5,126.9 L601.4,125.5 L603.3,124.1 L605.1,122.5 L606.9,120.9 L608.6,119.3ZM608.6,119.3 L607.0,121.0 L605.4,122.7 L603.9,124.5 L602.5,126.3 L601.2,128.1 L600.0,130.0 L598.8,131.8 L597.7,133.7 L596.7,135.6 L595.8,137.5 L595.0,139.4 L594.3,141.3 L593.7,143.2 L593.1,145.1 L592.7,146.9 L592.3,148.7 L592.0,150.5 L591.8,152.3 L591.7,154.0 L591.6,155.7 L591.7,157.3 L591.8,158.9 L592.0,160.5 L592.2,162.0 L592.5,163.4 L592.9,164.8 L593.4,166.1 L593.9,167.4 L594.5,168.6 L595.1,169.7 L595.8,170.8 L596.5,171.8 L597.3,172.7 L598.1,173.5 L598.9,174.3 L599.8,175.0 L600.7,175.7 L601.6,176.2 L602.6,176.7 L603.5,177.1 L604.5,177.5 L605.5,177.7 L606.6,177.9 L607.6,178.0 L608.6,178.1 L609.6,178.0 L610.6,177.9 L611.7,177.7 L612.7,177.5 L613.7,177.1 L614.6,176.7 L615.6,176.2 L616.5,175.7 L617.4,175.0 L618.3,174.3 L619.1,173.5 L619.9,172.7 L620.7,171.8 L621.4,170.8 L622.1,169.7 L622.7,168.6 L623.3,167.4 L623.8,166.1 L624.3,164.8 L624.7,163.4 L625.0,162.0 L625.2,160.5 L625.4,158.9 L625.5,157.3 L625.6,155.7 L625.5,154.0 L625.4,152.3 L625.2,150.5 L624.9,148.7 L624.5,146.9 L624.1,145.1 L623.5,143.2 L622.9,141.3 L622.2,139.4 L621.4,137.5 L620.5,135.6 L619.5,133.7 L618.4,131.8 L617.2,130.0 L616.0,128.1 L614.7,126.3 L613.3,124.5 L611.8,122.7 L610.2,121.0 L608.6,119.3Z" fill="#80c0ec"/>
<path d="M608.6,119.3 L610.9,119.3 L613.2,119.1 L615.5,118.9 L617.8,118.7 L620.1,118.3 L622.3,117.9 L624.5,117.3 L626.7,116.8 L628.9,116.1 L631.0,115.4 L633.0,114.6 L635.0,113.7 L637.0,112.8 L638.8,111.8 L640.7,110.7 L642.4,109.6 L644.1,108.4 L645.7,107.2 L647.3,106.0 L648.7,104.7 L650.1,103.4 L651.4,102.0 L652.6,100.6 L653.7,99.2 L654.7,97.8 L655.6,96.4 L656.5,94.9 L657.2,93.5 L657.9,92.0 L658.4,90.5 L658.9,89.1 L659.2,87.7 L659.5,86.3 L659.6,84.9 L659.7,83.5 L659.7,82.2 L659.6,80.9 L659.4,79.6 L659.1,78.4 L658.7,77.3 L658.2,76.2 L657.7,75.1 L657.0,74.1 L656.3,73.2 L655.6,72.3 L654.7,71.6 L653.8,70.9 L652.8,70.2 L651.7,69.7 L650.6,69.2 L649.5,68.8 L648.3,68.5 L647.0,68.3 L645.7,68.2 L644.4,68.2 L643.0,68.3 L641.6,68.4 L640.2,68.7 L638.8,69.0 L637.4,69.5 L635.9,70.0 L634.4,70.7 L633.0,71.4 L631.5,72.3 L630.1,73.2 L628.7,74.2 L627.3,75.3 L625.9,76.5 L624.5,77.8 L623.2,79.2 L621.9,80.6 L620.7,82.2 L619.5,83.8 L618.3,85.5 L617.2,87.2 L616.1,89.1 L615.1,90.9 L614.2,92.9 L613.3,94.9 L612.5,96.9 L611.8,99.0 L611.1,101.2 L610.6,103.4 L610.0,105.6 L609.6,107.8 L609.2,110.1 L609.0,112.4 L608.8,114.7 L608.6,117.0 L608.6,119.3ZM608.6,119.3 L608.6,117.0 L608.4,114.7 L608.2,112.4 L608.0,110.1 L607.6,107.8 L607.2,105.5 L606.6,103.3 L606.0,101.1 L605.4,99.0 L604.7,96.9 L603.8,94.8 L603.0,92.8 L602.0,90.9 L601.0,89.0 L600.0,87.2 L598.9,85.4 L597.7,83.7 L596.5,82.1 L595.3,80.6 L594.0,79.1 L592.7,77.8 L591.3,76.5 L589.9,75.3 L588.5,74.2 L587.1,73.1 L585.6,72.2 L584.2,71.4 L582.7,70.6 L581.3,70.0 L579.8,69.4 L578.4,69.0 L576.9,68.6 L575.5,68.4 L574.1,68.2 L572.8,68.1 L571.4,68.1 L570.1,68.2 L568.9,68.5 L567.7,68.7 L566.5,69.1 L565.4,69.6 L564.3,70.2 L563.4,70.8 L562.4,71.5 L561.6,72.3 L560.8,73.1 L560.1,74.1 L559.5,75.0 L558.9,76.1 L558.4,77.2 L558.0,78.4 L557.8,79.6 L557.5,80.8 L557.4,82.1 L557.4,83.5 L557.5,84.8 L557.7,86.2 L557.9,87.6 L558.3,89.1 L558.7,90.5 L559.3,92.0 L559.9,93.4 L560.7,94.9 L561.5,96.3 L562.4,97.8 L563.5,99.2 L564.6,100.6 L565.8,102.0 L567.1,103.4 L568.4,104.7 L569.9,106.0 L571.4,107.2 L573.0,108.4 L574.7,109.6 L576.5,110.7 L578.3,111.7 L580.2,112.7 L582.1,113.7 L584.1,114.5 L586.2,115.4 L588.3,116.1 L590.4,116.7 L592.6,117.3 L594.8,117.9 L597.1,118.3 L599.4,118.7 L601.7,118.9 L604.0,119.1 L606.3,119.3 L608.6,119.3ZM608.6,119.3 L606.2,119.3 L603.9,119.5 L601.6,119.7 L599.2,120.0 L596.9,120.3 L594.6,120.8 L592.4,121.3 L590.2,121.9 L588.0,122.6 L585.9,123.3 L583.8,124.1 L581.7,125.0 L579.8,126.0 L577.9,127.0 L576.0,128.0 L574.2,129.2 L572.5,130.3 L570.9,131.6 L569.3,132.8 L567.8,134.1 L566.4,135.5 L565.1,136.9 L563.9,138.3 L562.8,139.7 L561.7,141.2 L560.8,142.6 L559.9,144.1 L559.2,145.6 L558.5,147.1 L558.0,148.5 L557.5,150.0 L557.2,151.4 L556.9,152.9 L556.7,154.3 L556.6,155.7 L556.7,157.0 L556.8,158.3 L557.0,159.6 L557.3,160.9 L557.7,162.0 L558.2,163.2 L558.7,164.2 L559.4,165.2 L560.1,166.2 L560.9,167.0 L561.7,167.8 L562.7,168.5 L563.7,169.2 L564.7,169.7 L565.9,170.2 L567.0,170.6 L568.3,170.9 L569.6,171.1 L570.9,171.2 L572.2,171.3 L573.6,171.2 L575.0,171.0 L576.5,170.7 L577.9,170.4 L579.4,169.9 L580.8,169.4 L582.3,168.7 L583.8,168.0 L585.3,167.1 L586.7,166.2 L588.2,165.1 L589.6,164.0 L591.0,162.8 L592.4,161.5 L593.8,160.1 L595.1,158.6 L596.3,157.0 L597.6,155.4 L598.7,153.7 L599.9,151.9 L600.9,150.0 L601.9,148.1 L602.9,146.2 L603.8,144.1 L604.6,142.0 L605.3,139.9 L606.0,137.7 L606.6,135.5 L607.1,133.3 L607.6,131.0 L607.9,128.7 L608.2,126.3 L608.4,124.0 L608.6,121.7 L608.6,119.3ZM608.6,119.3 L608.6,121.6 L608.8,123.9 L609.0,126.2 L609.2,128.4 L609.6,130.7 L610.0,132.9 L610.5,135.1 L611.1,137.3 L611.8,139.4 L612.5,141.5 L613.3,143.5 L614.2,145.5 L615.1,147.4 L616.1,149.3 L617.1,151.1 L618.2,152.8 L619.4,154.5 L620.6,156.1 L621.8,157.6 L623.1,159.0 L624.4,160.4 L625.7,161.7 L627.1,162.9 L628.5,164.0 L629.9,165.0 L631.3,165.9 L632.8,166.7 L634.2,167.5 L635.7,168.1 L637.1,168.7 L638.5,169.1 L639.9,169.5 L641.3,169.7 L642.7,169.9 L644.1,169.9 L645.4,169.9 L646.7,169.8 L647.9,169.6 L649.1,169.3 L650.3,168.9 L651.3,168.5 L652.4,167.9 L653.4,167.3 L654.3,166.6 L655.1,165.8 L655.9,165.0 L656.6,164.1 L657.2,163.1 L657.8,162.0 L658.2,161.0 L658.6,159.8 L658.9,158.6 L659.1,157.4 L659.2,156.1 L659.2,154.8 L659.2,153.4 L659.0,152.0 L658.8,150.6 L658.4,149.2 L658.0,147.8 L657.4,146.4 L656.8,144.9 L656.0,143.5 L655.2,142.0 L654.3,140.6 L653.3,139.2 L652.2,137.8 L651.0,136.4 L649.7,135.1 L648.3,133.8 L646.9,132.5 L645.4,131.3 L643.8,130.1 L642.1,128.9 L640.4,127.8 L638.6,126.8 L636.7,125.8 L634.8,124.9 L632.8,124.0 L630.8,123.2 L628.7,122.5 L626.6,121.8 L624.4,121.2 L622.2,120.7 L620.0,120.3 L617.7,119.9 L615.5,119.7 L613.2,119.5 L610.9,119.3 L608.6,119.3Z" fill="#fd9e86"/>
<path d="M608.6,119.3 L610.9,119.3 L613.2,119.1 L615.5,118.9 L617.8,118.7 L620.1,118.3 L622.3,117.9 L624.5,117.3 L626.7,116.8 L628.9,116.1 L631.0,115.4 L633.0,114.6 L635.0,113.7 L637.0,112.8 L638.8,111.8 L640.7,110.7 L642.4,109.6 L644.1,108.4 L645.7,107.2 L647.3,106.0 L648.7,104.7 L650.1,103.4 L651.4,102.0 L652.6,100.6 L653.7,99.2 L654.7,97.8 L655.6,96.4 L656.5,94.9 L657.2,93.5 L657.9,92.0 L658.4,90.5 L658.9,89.1 L659.2,87.7 L659.5,86.3 L659.6,84.9 L659.7,83.5 L659.7,82.2 L659.6,80.9 L659.4,79.6 L659.1,78.4 L658.7,77.3 L658.2,76.2 L657.7,75.1 L657.0,74.1 L656.3,73.2 L655.6,72.3 L654.7,71.6 L653.8,70.9 L652.8,70.2 L651.7,69.7 L650.6,69.2 L649.5,68.8 L648.3,68.5 L647.0,68.3 L645.7,68.2 L644.4,68.2 L643.0,68.3 L641.6,68.4 L640.2,68.7 L638.8,69.0 L637.4,69.5 L635.9,70.0 L634.4,70.7 L633.0,71.4 L631.5,72.3 L630.1,73.2 L628.7,74.2 L627.3,75.3 L625.9,76.5 L624.5,77.8 L623.2,79.2 L621.9,80.6 L620.7,82.2 L619.5,83.8 L618.3,85.5 L617.2,87.2 L616.1,89.1 L615.1,90.9 L614.2,92.9 L613.3,94.9 L612.5,96.9 L611.8,99.0 L611.1,101.2 L610.6,103.4 L610.0,105.6 L609.6,107.8 L609.2,110.1 L609.0,112.4 L608.8,114.7 L608.6,117.0 L608.6,119.3ZM608.6,119.3 L608.6,117.0 L608.4,114.7 L608.2,112.4 L608.0,110.1 L607.6,107.8 L607.2,105.5 L606.6,103.3 L606.0,101.1 L605.4,99.0 L604.7,96.9 L603.8,94.8 L603.0,92.8 L602.0,90.9 L601.0,89.0 L600.0,87.2 L598.9,85.4 L597.7,83.7 L596.5,82.1 L595.3,80.6 L594.0,79.1 L592.7,77.8 L591.3,76.5 L589.9,75.3 L588.5,74.2 L587.1,73.1 L585.6,72.2 L584.2,71.4 L582.7,70.6 L581.3,70.0 L579.8,69.4 L578.4,69.0 L576.9,68.6 L575.5,68.4 L574.1,68.2 L572.8,68.1 L571.4,68.1 L570.1,68.2 L568.9,68.5 L567.7,68.7 L566.5,69.1 L565.4,69.6 L564.3,70.2 L563.4,70.8 L562.4,71.5 L561.6,72.3 L560.8,73.1 L560.1,74.1 L559.5,75.0 L558.9,76.1 L558.4,77.2 L558.0,78.4 L557.8,79.6 L557.5,80.8 L557.4,82.1 L557.4,83.5 L557.5,84.8 L557.7,86.2 L557.9,87.6 L558.3,89.1 L558.7,90.5 L559.3,92.0 L559.9,93.4 L560.7,94.9 L561.5,96.3 L562.4,97.8 L563.5,99.2 L564.6,100.6 L565.8,102.0 L567.1,103.4 L568.4,104.7 L569.9,106.0 L571.4,107.2 L573.0,108.4 L574.7,109.6 L576.5,110.7 L578.3,111.7 L580.2,112.7 L582.1,113.7 L584.1,114.5 L586.2,115.4 L588.3,116.1 L590.4,116.7 L592.6,117.3 L594.8,117.9 L597.1,118.3 L599.4,118.7 L601.7,118.9 L604.0,119.1 L606.3,119.3 L608.6,119.3ZM608.6,119.3 L606.2,119.3 L603.9,119.5 L601.6,119.7 L599.2,120.0 L596.9,120.3 L594.6,120.8 L592.4,121.3 L590.2,121.9 L588.0,122.6 L585.9,123.3 L583.8,124.1 L581.7,125.0 L579.8,126.0 L577.9,127.0 L576.0,128.0 L574.2,129.2 L572.5,130.3 L570.9,131.6 L569.3,132.8 L567.8,134.1 L566.4,135.5 L565.1,136.9 L563.9,138.3 L562.8,139.7 L561.7,141.2 L560.8,142.6 L559.9,144.1 L559.2,145.6 L558.5,147.1 L558.0,148.5 L557.5,150.0 L557.2,151.4 L556.9,152.9 L556.7,154.3 L556.6,155.7 L556.7,157.0 L556.8,158.3 L557.0,159.6 L557.3,160.9 L557.7,162.0 L558.2,163.2 L558.7,164.2 L559.4,165.2 L560.1,166.2 L560.9,167.0 L561.7,167.8 L562.7,168.5 L563.7,169.2 L564.7,169.7 L565.9,170.2 L567.0,170.6 L568.3,170.9 L569.6,171.1 L570.9,171.2 L572.2,171.3 L573.6,171.2 L575.0,171.0 L576.5,170.7 L577.9,170.4 L579.4,169.9 L580.8,169.4 L582.3,168.7 L583.8,168.0 L585.3,167.1 L586.7,166.2 L588.2,165.1 L589.6,164.0 L591.0,162.8 L592.4,161.5 L593.8,160.1 L595.1,158.6 L596.3,157.0 L597.6,155.4 L598.7,153.7 L599.9,151.9 L600.9,150.0 L601.9,148.1 L602.9,146.2 L603.8,144.1 L604.6,142.0 L605.3,139.9 L606.0,137.7 L606.6,135.5 L607.1,133.3 L607.6,131.0 L607.9,128.7 L608.2,126.3 L608.4,124.0 L608.6,121.7 L608.6,119.3ZM608.6,119.3 L608.6,121.6 L608.8,123.9 L609.0,126.2 L609.2,128.4 L609.6,130.7 L610.0,132.9 L610.5,135.1 L611.1,137.3 L611.8,139.4 L612.5,141.5 L613.3,143.5 L614.2,145.5 L615.1,147.4 L616.1,149.3 L617.1,151.1 L618.2,152.8 L619.4,154.5 L620.6,156.1 L621.8,157.6 L623.1,159.0 L624.4,160.4 L625.7,161.7 L627.1,162.9 L628.5,164.0 L629.9,165.0 L631.3,165.9 L632.8,166.7 L634.2,167.5 L635.7,168.1 L637.1,168.7 L638.5,169.1 L639.9,169.5 L641.3,169.7 L642.7,169.9 L644.1,169.9 L645.4,169.9 L646.7,169.8 L647.9,169.6 L649.1,169.3 L650.3,168.9 L651.3,168.5 L652.4,167.9 L653.4,167.3 L654.3,166.6 L655.1,165.8 L655.9,165.0 L656.6,164.1 L657.2,163.1 L657.8,162.0 L658.2,161.0 L658.6,159.8 L658.9,158.6 L659.1,157.4 L659.2,156.1 L659.2,154.8 L659.2,153.4 L659.0,152.0 L658.8,150.6 L658.4,149.2 L658.0,147.8 L657.4,146.4 L656.8,144.9 L656.0,143.5 L655.2,142.0 L654.3,140.6 L653.3,139.2 L652.2,137.8 L651.0,136.4 L649.7,135.1 L648.3,133.8 L646.9,132.5 L645.4,131.3 L643.8,130.1 L642.1,128.9 L640.4,127.8 L638.6,126.8 L636.7,125.8 L634.8,124.9 L632.8,124.0 L630.8,123.2 L628.7,122.5 L626.6,121.8 L624.4,121.2 L622.2,120.7 L620.0,120.3 L617.7,119.9 L615.5,119.7 L613.2,119.5 L610.9,119.3 L608.6,119.3Z" fill="#c5837c" clip-path="url(#cf)"/>
<path d="M531.6,119.3 L685.6,119.3 M608.6,42.8 L608.6,195.8" stroke="#7a7a7a" stroke-width="1" stroke-dasharray="1.4 1"/><path d="M549.9,60.6 L667.3,178.0 M549.9,178.0 L667.3,60.6" stroke="#2a2a2a" stroke-width="0.7" stroke-dasharray="1.3 0.8"/><circle cx="608.6" cy="119.3" r="37.9" fill="none" stroke="#3a3a3a" stroke-width="0.8" stroke-dasharray="2.2 1.4"/><circle cx="608.6" cy="119.3" r="70.8" fill="none" stroke="#777" stroke-width="0.7" stroke-dasharray="2.4 1.3"/>
<path d="M608.6,119.3 L610.3,120.9 L612.1,122.5 L613.9,124.1 L615.8,125.5 L617.7,126.9 L619.7,128.3 L621.7,129.5 L623.7,130.7 L625.8,131.8 L627.9,132.8 L630.1,133.8 L632.2,134.7 L634.4,135.4 L636.6,136.1 L638.7,136.7 L640.9,137.2 L643.1,137.6 L645.2,137.9 L647.3,138.2 L649.4,138.3 L651.4,138.4 L653.4,138.3 L655.4,138.2 L657.3,138.0 L659.2,137.7 L661.0,137.3 L662.7,136.9 L664.4,136.3 L666.0,135.7 L667.5,135.1 L668.9,134.3 L670.3,133.5 L671.5,132.7 L672.7,131.8 L673.8,130.8 L674.8,129.8 L675.7,128.7 L676.5,127.6 L677.2,126.5 L677.7,125.3 L678.2,124.2 L678.6,123.0 L678.9,121.8 L679.0,120.5 L679.1,119.3 L679.0,118.1 L678.8,116.8 L678.5,115.6 L678.1,114.4 L677.6,113.3 L677.0,112.1 L676.2,111.0 L675.4,109.9 L674.5,108.9 L673.5,107.9 L672.4,106.9 L671.2,106.0 L669.9,105.2 L668.5,104.4 L667.1,103.6 L665.5,103.0 L663.9,102.4 L662.2,101.9 L660.5,101.4 L658.7,101.1 L656.8,100.8 L654.9,100.6 L653.0,100.5 L651.0,100.4 L648.9,100.5 L646.9,100.6 L644.8,100.9 L642.6,101.2 L640.5,101.6 L638.4,102.1 L636.2,102.7 L634.1,103.4 L631.9,104.2 L629.8,105.0 L627.7,105.9 L625.6,107.0 L623.5,108.1 L621.5,109.2 L619.5,110.5 L617.6,111.8 L615.7,113.2 L613.8,114.6 L612.0,116.1 L610.3,117.7 L608.6,119.3ZM608.6,119.3 L610.2,117.6 L611.7,115.9 L613.2,114.2 L614.6,112.4 L615.9,110.6 L617.1,108.8 L618.3,106.9 L619.3,105.1 L620.3,103.2 L621.2,101.3 L622.0,99.5 L622.7,97.6 L623.3,95.7 L623.9,93.9 L624.3,92.1 L624.7,90.3 L625.0,88.5 L625.2,86.7 L625.3,85.0 L625.4,83.3 L625.3,81.7 L625.2,80.1 L625.1,78.6 L624.8,77.1 L624.5,75.6 L624.1,74.3 L623.7,72.9 L623.2,71.7 L622.6,70.5 L622.0,69.3 L621.3,68.2 L620.6,67.2 L619.9,66.3 L619.1,65.4 L618.2,64.6 L617.4,63.9 L616.5,63.2 L615.6,62.6 L614.6,62.1 L613.6,61.6 L612.7,61.3 L611.7,61.0 L610.6,60.7 L609.6,60.6 L608.6,60.5 L607.6,60.6 L606.6,60.7 L605.5,60.9 L604.5,61.1 L603.5,61.5 L602.6,61.9 L601.6,62.4 L600.7,62.9 L599.8,63.6 L598.9,64.3 L598.1,65.1 L597.3,65.9 L596.5,66.8 L595.8,67.8 L595.1,68.9 L594.5,70.0 L593.9,71.2 L593.4,72.5 L592.9,73.8 L592.5,75.2 L592.2,76.6 L592.0,78.1 L591.8,79.7 L591.7,81.3 L591.6,82.9 L591.7,84.6 L591.8,86.3 L592.0,88.1 L592.3,89.9 L592.7,91.7 L593.1,93.5 L593.7,95.4 L594.3,97.3 L595.0,99.2 L595.8,101.1 L596.7,103.0 L597.7,104.9 L598.8,106.8 L600.0,108.6 L601.2,110.5 L602.5,112.3 L603.9,114.1 L605.4,115.9 L607.0,117.6 L608.6,119.3ZM608.6,119.3 L606.9,117.7 L605.1,116.1 L603.3,114.5 L601.4,113.1 L599.5,111.7 L597.5,110.3 L595.5,109.1 L593.5,107.9 L591.4,106.8 L589.3,105.8 L587.1,104.8 L585.0,103.9 L582.8,103.2 L580.6,102.5 L578.5,101.9 L576.3,101.4 L574.1,101.0 L572.0,100.7 L569.9,100.4 L567.8,100.3 L565.8,100.2 L563.8,100.3 L561.8,100.4 L559.9,100.6 L558.0,100.9 L556.2,101.3 L554.5,101.7 L552.8,102.3 L551.2,102.9 L549.7,103.5 L548.3,104.3 L546.9,105.1 L545.7,105.9 L544.5,106.8 L543.4,107.8 L542.4,108.8 L541.5,109.9 L540.7,111.0 L540.0,112.1 L539.5,113.3 L539.0,114.4 L538.6,115.6 L538.3,116.8 L538.2,118.1 L538.1,119.3 L538.2,120.5 L538.3,121.8 L538.6,123.0 L539.0,124.2 L539.5,125.3 L540.0,126.5 L540.7,127.6 L541.5,128.7 L542.4,129.8 L543.4,130.8 L544.5,131.8 L545.7,132.7 L546.9,133.5 L548.3,134.3 L549.7,135.1 L551.2,135.7 L552.8,136.3 L554.5,136.9 L556.2,137.3 L558.0,137.7 L559.9,138.0 L561.8,138.2 L563.8,138.3 L565.8,138.4 L567.8,138.3 L569.9,138.2 L572.0,137.9 L574.1,137.6 L576.3,137.2 L578.5,136.7 L580.6,136.1 L582.8,135.4 L585.0,134.7 L587.1,133.8 L589.3,132.8 L591.4,131.8 L593.5,130.7 L595.5,129.5 L597.5,128.3 L599.5,126.9 L601.4,125.5 L603.3,124.1 L605.1,122.5 L606.9,120.9 L608.6,119.3ZM608.6,119.3 L607.0,121.0 L605.4,122.7 L603.9,124.5 L602.5,126.3 L601.2,128.1 L600.0,130.0 L598.8,131.8 L597.7,133.7 L596.7,135.6 L595.8,137.5 L595.0,139.4 L594.3,141.3 L593.7,143.2 L593.1,145.1 L592.7,146.9 L592.3,148.7 L592.0,150.5 L591.8,152.3 L591.7,154.0 L591.6,155.7 L591.7,157.3 L591.8,158.9 L592.0,160.5 L592.2,162.0 L592.5,163.4 L592.9,164.8 L593.4,166.1 L593.9,167.4 L594.5,168.6 L595.1,169.7 L595.8,170.8 L596.5,171.8 L597.3,172.7 L598.1,173.5 L598.9,174.3 L599.8,175.0 L600.7,175.7 L601.6,176.2 L602.6,176.7 L603.5,177.1 L604.5,177.5 L605.5,177.7 L606.6,177.9 L607.6,178.0 L608.6,178.1 L609.6,178.0 L610.6,177.9 L611.7,177.7 L612.7,177.5 L613.7,177.1 L614.6,176.7 L615.6,176.2 L616.5,175.7 L617.4,175.0 L618.3,174.3 L619.1,173.5 L619.9,172.7 L620.7,171.8 L621.4,170.8 L622.1,169.7 L622.7,168.6 L623.3,167.4 L623.8,166.1 L624.3,164.8 L624.7,163.4 L625.0,162.0 L625.2,160.5 L625.4,158.9 L625.5,157.3 L625.6,155.7 L625.5,154.0 L625.4,152.3 L625.2,150.5 L624.9,148.7 L624.5,146.9 L624.1,145.1 L623.5,143.2 L622.9,141.3 L622.2,139.4 L621.4,137.5 L620.5,135.6 L619.5,133.7 L618.4,131.8 L617.2,130.0 L616.0,128.1 L614.7,126.3 L613.3,124.5 L611.8,122.7 L610.2,121.0 L608.6,119.3Z" fill="none" stroke="#1c55a6" stroke-width="1.2" stroke-dasharray="2.1 1.4"/>
<path d="M608.6,119.3 L610.9,119.3 L613.2,119.1 L615.5,118.9 L617.8,118.7 L620.1,118.3 L622.3,117.9 L624.5,117.3 L626.7,116.8 L628.9,116.1 L631.0,115.4 L633.0,114.6 L635.0,113.7 L637.0,112.8 L638.8,111.8 L640.7,110.7 L642.4,109.6 L644.1,108.4 L645.7,107.2 L647.3,106.0 L648.7,104.7 L650.1,103.4 L651.4,102.0 L652.6,100.6 L653.7,99.2 L654.7,97.8 L655.6,96.4 L656.5,94.9 L657.2,93.5 L657.9,92.0 L658.4,90.5 L658.9,89.1 L659.2,87.7 L659.5,86.3 L659.6,84.9 L659.7,83.5 L659.7,82.2 L659.6,80.9 L659.4,79.6 L659.1,78.4 L658.7,77.3 L658.2,76.2 L657.7,75.1 L657.0,74.1 L656.3,73.2 L655.6,72.3 L654.7,71.6 L653.8,70.9 L652.8,70.2 L651.7,69.7 L650.6,69.2 L649.5,68.8 L648.3,68.5 L647.0,68.3 L645.7,68.2 L644.4,68.2 L643.0,68.3 L641.6,68.4 L640.2,68.7 L638.8,69.0 L637.4,69.5 L635.9,70.0 L634.4,70.7 L633.0,71.4 L631.5,72.3 L630.1,73.2 L628.7,74.2 L627.3,75.3 L625.9,76.5 L624.5,77.8 L623.2,79.2 L621.9,80.6 L620.7,82.2 L619.5,83.8 L618.3,85.5 L617.2,87.2 L616.1,89.1 L615.1,90.9 L614.2,92.9 L613.3,94.9 L612.5,96.9 L611.8,99.0 L611.1,101.2 L610.6,103.4 L610.0,105.6 L609.6,107.8 L609.2,110.1 L609.0,112.4 L608.8,114.7 L608.6,117.0 L608.6,119.3ZM608.6,119.3 L608.6,117.0 L608.4,114.7 L608.2,112.4 L608.0,110.1 L607.6,107.8 L607.2,105.5 L606.6,103.3 L606.0,101.1 L605.4,99.0 L604.7,96.9 L603.8,94.8 L603.0,92.8 L602.0,90.9 L601.0,89.0 L600.0,87.2 L598.9,85.4 L597.7,83.7 L596.5,82.1 L595.3,80.6 L594.0,79.1 L592.7,77.8 L591.3,76.5 L589.9,75.3 L588.5,74.2 L587.1,73.1 L585.6,72.2 L584.2,71.4 L582.7,70.6 L581.3,70.0 L579.8,69.4 L578.4,69.0 L576.9,68.6 L575.5,68.4 L574.1,68.2 L572.8,68.1 L571.4,68.1 L570.1,68.2 L568.9,68.5 L567.7,68.7 L566.5,69.1 L565.4,69.6 L564.3,70.2 L563.4,70.8 L562.4,71.5 L561.6,72.3 L560.8,73.1 L560.1,74.1 L559.5,75.0 L558.9,76.1 L558.4,77.2 L558.0,78.4 L557.8,79.6 L557.5,80.8 L557.4,82.1 L557.4,83.5 L557.5,84.8 L557.7,86.2 L557.9,87.6 L558.3,89.1 L558.7,90.5 L559.3,92.0 L559.9,93.4 L560.7,94.9 L561.5,96.3 L562.4,97.8 L563.5,99.2 L564.6,100.6 L565.8,102.0 L567.1,103.4 L568.4,104.7 L569.9,106.0 L571.4,107.2 L573.0,108.4 L574.7,109.6 L576.5,110.7 L578.3,111.7 L580.2,112.7 L582.1,113.7 L584.1,114.5 L586.2,115.4 L588.3,116.1 L590.4,116.7 L592.6,117.3 L594.8,117.9 L597.1,118.3 L599.4,118.7 L601.7,118.9 L604.0,119.1 L606.3,119.3 L608.6,119.3ZM608.6,119.3 L606.2,119.3 L603.9,119.5 L601.6,119.7 L599.2,120.0 L596.9,120.3 L594.6,120.8 L592.4,121.3 L590.2,121.9 L588.0,122.6 L585.9,123.3 L583.8,124.1 L581.7,125.0 L579.8,126.0 L577.9,127.0 L576.0,128.0 L574.2,129.2 L572.5,130.3 L570.9,131.6 L569.3,132.8 L567.8,134.1 L566.4,135.5 L565.1,136.9 L563.9,138.3 L562.8,139.7 L561.7,141.2 L560.8,142.6 L559.9,144.1 L559.2,145.6 L558.5,147.1 L558.0,148.5 L557.5,150.0 L557.2,151.4 L556.9,152.9 L556.7,154.3 L556.6,155.7 L556.7,157.0 L556.8,158.3 L557.0,159.6 L557.3,160.9 L557.7,162.0 L558.2,163.2 L558.7,164.2 L559.4,165.2 L560.1,166.2 L560.9,167.0 L561.7,167.8 L562.7,168.5 L563.7,169.2 L564.7,169.7 L565.9,170.2 L567.0,170.6 L568.3,170.9 L569.6,171.1 L570.9,171.2 L572.2,171.3 L573.6,171.2 L575.0,171.0 L576.5,170.7 L577.9,170.4 L579.4,169.9 L580.8,169.4 L582.3,168.7 L583.8,168.0 L585.3,167.1 L586.7,166.2 L588.2,165.1 L589.6,164.0 L591.0,162.8 L592.4,161.5 L593.8,160.1 L595.1,158.6 L596.3,157.0 L597.6,155.4 L598.7,153.7 L599.9,151.9 L600.9,150.0 L601.9,148.1 L602.9,146.2 L603.8,144.1 L604.6,142.0 L605.3,139.9 L606.0,137.7 L606.6,135.5 L607.1,133.3 L607.6,131.0 L607.9,128.7 L608.2,126.3 L608.4,124.0 L608.6,121.7 L608.6,119.3ZM608.6,119.3 L608.6,121.6 L608.8,123.9 L609.0,126.2 L609.2,128.4 L609.6,130.7 L610.0,132.9 L610.5,135.1 L611.1,137.3 L611.8,139.4 L612.5,141.5 L613.3,143.5 L614.2,145.5 L615.1,147.4 L616.1,149.3 L617.1,151.1 L618.2,152.8 L619.4,154.5 L620.6,156.1 L621.8,157.6 L623.1,159.0 L624.4,160.4 L625.7,161.7 L627.1,162.9 L628.5,164.0 L629.9,165.0 L631.3,165.9 L632.8,166.7 L634.2,167.5 L635.7,168.1 L637.1,168.7 L638.5,169.1 L639.9,169.5 L641.3,169.7 L642.7,169.9 L644.1,169.9 L645.4,169.9 L646.7,169.8 L647.9,169.6 L649.1,169.3 L650.3,168.9 L651.3,168.5 L652.4,167.9 L653.4,167.3 L654.3,166.6 L655.1,165.8 L655.9,165.0 L656.6,164.1 L657.2,163.1 L657.8,162.0 L658.2,161.0 L658.6,159.8 L658.9,158.6 L659.1,157.4 L659.2,156.1 L659.2,154.8 L659.2,153.4 L659.0,152.0 L658.8,150.6 L658.4,149.2 L658.0,147.8 L657.4,146.4 L656.8,144.9 L656.0,143.5 L655.2,142.0 L654.3,140.6 L653.3,139.2 L652.2,137.8 L651.0,136.4 L649.7,135.1 L648.3,133.8 L646.9,132.5 L645.4,131.3 L643.8,130.1 L642.1,128.9 L640.4,127.8 L638.6,126.8 L636.7,125.8 L634.8,124.9 L632.8,124.0 L630.8,123.2 L628.7,122.5 L626.6,121.8 L624.4,121.2 L622.2,120.7 L620.0,120.3 L617.7,119.9 L615.5,119.7 L613.2,119.5 L610.9,119.3 L608.6,119.3Z" fill="none" stroke="#d40f1c" stroke-width="1.2" stroke-dasharray="8 1.9 2.1 1.9"/>
<path d="M679.0,119.3 L679.1,118.1 L679.0,116.8 L678.8,115.6 L678.6,114.4 L678.4,113.2 L678.5,111.9 L678.4,110.7 L678.4,109.5 L678.1,108.3 L677.9,107.1 L677.6,105.9 L677.0,104.8 L676.8,103.5 L676.6,102.4 L676.3,101.2 L675.6,100.1 L674.9,99.0 L674.4,97.9 L674.0,96.8 L673.7,95.6 L673.3,94.5 L672.9,93.3 L672.3,92.3 L671.9,91.1 L671.4,90.0 L670.7,89.0 L670.3,87.8 L669.7,86.8 L669.2,85.7 L668.3,84.8 L667.4,83.9 L666.7,83.0 L665.9,82.1 L665.2,81.1 L664.5,80.2 L663.6,79.4 L662.6,78.6 L661.7,77.8 L661.1,76.8 L660.1,76.1 L659.2,75.3 L658.4,74.5 L657.3,73.9 L656.4,73.2 L655.6,72.3 L654.4,71.9 L653.4,71.3 L652.4,70.6 L651.4,70.1 L650.5,69.4 L649.5,68.8 L648.3,68.5 L647.4,67.8 L646.4,67.2 L645.5,66.6 L644.5,66.0 L643.5,65.6 L642.3,65.3 L641.1,65.2 L640.1,64.7 L639.0,64.5 L637.9,64.3 L636.7,64.2 L635.6,64.0 L634.5,63.7 L633.6,63.2 L632.4,63.3 L631.3,63.2 L630.3,62.9 L629.3,62.3 L628.3,62.1 L627.1,62.3 L626.0,62.5 L625.0,62.1 L623.9,62.0 L622.9,62.0 L621.9,61.6 L620.9,61.2 L619.9,61.1 L618.9,61.0 L617.9,60.9 L616.9,60.5 L615.8,60.5 L614.8,60.4 L613.8,60.4 L612.7,60.7 L611.7,60.4 L610.7,60.2 L609.6,60.2 L608.6,60.6 L607.6,60.7 L606.5,60.5 L605.5,60.9 L604.5,60.8 L603.5,60.6 L602.5,60.8 L601.4,60.5 L600.3,60.5 L599.3,60.6 L598.3,60.6 L597.2,60.6 L596.1,60.7 L595.0,60.6 L594.0,60.9 L593.0,61.1 L591.9,61.0 L590.8,61.2 L589.8,61.5 L588.7,61.4 L587.5,61.4 L586.5,61.7 L585.5,62.1 L584.4,62.3 L583.3,62.5 L582.3,62.8 L581.0,62.8 L580.0,63.2 L578.8,63.3 L577.9,63.8 L576.8,64.3 L575.7,64.5 L574.4,64.6 L573.3,64.9 L572.2,65.4 L571.2,65.8 L570.1,66.3 L569.0,66.7 L568.0,67.3 L566.9,67.8 L565.9,68.4 L564.9,69.0 L563.8,69.5 L562.7,70.1 L561.5,70.6 L560.6,71.3 L559.8,72.2 L558.9,73.0 L558.0,73.8 L557.0,74.4 L556.2,75.3 L555.3,76.1 L554.2,76.8 L553.8,78.0 L553.1,79.0 L552.2,79.8 L551.3,80.7 L550.5,81.6 L549.8,82.6 L549.0,83.5 L548.2,84.4 L547.7,85.5 L546.6,86.3 L546.0,87.4 L545.6,88.6 L545.1,89.7 L544.6,90.8 L544.0,91.9 L544.0,93.2 L543.5,94.3 L542.7,95.3 L542.5,96.5 L542.0,97.7 L541.4,98.7 L540.8,99.9 L540.3,101.0 L540.3,102.3 L540.1,103.5 L539.8,104.7 L539.4,105.9 L539.0,107.0 L539.3,108.3 L538.9,109.5 L539.0,110.7 L538.6,111.9 L538.7,113.2 L538.5,114.4 L538.2,115.6 L538.2,116.8 L538.1,118.1 L537.9,119.3 L538.0,120.5 L538.1,121.8 L537.9,123.0 L537.8,124.2 L538.1,125.5 L537.8,126.7 L538.3,127.9 L538.4,129.2 L538.8,130.4 L539.0,131.6 L539.2,132.8 L539.5,134.0 L539.7,135.2 L540.3,136.3 L540.9,137.4 L541.1,138.7 L541.6,139.8 L542.1,140.9 L542.7,142.0 L542.8,143.3 L543.1,144.5 L543.3,145.7 L544.0,146.7 L544.6,147.8 L545.3,148.8 L545.7,150.0 L546.1,151.1 L546.9,152.1 L547.4,153.2 L548.0,154.3 L548.8,155.2 L549.9,156.0 L550.4,157.1 L551.2,158.0 L552.1,158.9 L552.8,159.8 L553.6,160.8 L554.2,161.8 L555.3,162.4 L556.1,163.4 L556.8,164.3 L557.6,165.2 L558.7,165.8 L559.9,166.4 L560.7,167.2 L561.8,167.8 L562.8,168.4 L563.7,169.2 L564.8,169.7 L566.1,169.9 L567.2,170.4 L568.4,170.7 L569.3,171.5 L570.3,172.0 L571.4,172.4 L572.5,172.9 L573.4,173.5 L574.5,173.8 L575.5,174.4 L576.6,174.7 L577.7,175.1 L578.7,175.6 L579.7,176.0 L580.9,176.0 L582.0,176.3 L583.3,176.1 L584.5,176.2 L585.7,176.1 L586.6,176.6 L587.8,176.5 L588.8,176.8 L589.9,176.9 L590.9,177.1 L592.0,177.2 L593.0,177.4 L594.0,177.8 L595.1,177.8 L596.1,178.0 L597.2,178.1 L598.2,178.1 L599.3,177.8 L600.4,177.8 L601.4,178.1 L602.5,177.8 L603.5,177.7 L604.5,178.0 L605.5,178.2 L606.5,178.2 L607.6,178.3 L608.6,178.3 L609.6,178.0 L610.6,177.7 L611.7,177.7 L612.7,177.9 L613.7,177.8 L614.7,177.7 L615.8,177.6 L616.8,177.4 L617.8,177.5 L618.8,177.3 L619.9,177.5 L620.9,177.1 L622.0,177.2 L623.0,177.1 L624.0,176.8 L625.2,177.0 L626.2,177.0 L627.2,176.5 L628.3,176.4 L629.4,176.5 L630.5,176.3 L631.7,176.4 L632.8,176.4 L634.0,176.3 L635.1,176.1 L636.3,176.0 L637.4,175.8 L638.5,175.5 L639.3,174.8 L640.5,174.6 L641.7,174.4 L642.8,174.0 L643.8,173.5 L645.0,173.3 L645.9,172.6 L647.0,172.2 L648.3,172.0 L649.2,171.3 L650.3,170.8 L651.5,170.5 L652.5,169.8 L653.5,169.2 L654.6,168.6 L655.4,167.7 L656.3,167.0 L657.3,166.3 L658.3,165.7 L659.2,164.9 L660.1,164.1 L660.8,163.1 L661.7,162.3 L662.7,161.6 L663.6,160.7 L664.3,159.7 L665.0,158.8 L666.2,158.2 L667.1,157.3 L667.8,156.3 L668.1,155.0 L668.9,154.1 L669.6,153.1 L670.5,152.2 L671.2,151.2 L671.7,150.1 L672.3,149.0 L672.5,147.7 L673.2,146.7 L673.8,145.6 L674.1,144.4 L674.8,143.4 L675.5,142.3 L675.6,141.1 L675.8,139.9 L676.3,138.7 L676.6,137.5 L676.9,136.3 L677.0,135.1 L677.7,134.0 L678.1,132.8 L678.0,131.5 L678.0,130.3 L678.5,129.1 L678.8,127.9 L679.2,126.7 L679.4,125.5 L679.2,124.2 L679.2,123.0 L678.8,121.8 L678.8,120.5Z" fill="none" stroke="#111" stroke-width="1.1"/>
<text x="500.7" y="12" font-size="16" stroke="#000">(f)</text>
<text x="608.4" y="12.2" font-size="16.1" text-anchor="middle" stroke="#000">Experiment</text>
<rect x="543.4" y="33.4" width="129.4" height="17" fill="#fff" stroke="#444" stroke-width="0.9"/>
<text x="547.2" y="45.4" font-size="10.85" stroke="#000">D<tspan dy="-4" font-size="7.6">0</tspan><tspan dy="4">X @ 1.5972 eV, τ = 53 ps</tspan></text>
<clipPath id="ce"><path d="M385.2,298.8 L385.2,298.9 L385.2,299.1 L385.3,299.5 L385.4,300.1 L385.6,300.8 L385.8,301.7 L386.2,302.7 L386.6,303.8 L387.2,305.1 L388.0,306.4 L388.8,307.8 L389.8,309.2 L391.0,310.7 L392.3,312.2 L393.8,313.7 L395.5,315.2 L397.3,316.7 L399.2,318.1 L401.3,319.4 L403.5,320.6 L405.9,321.8 L408.3,322.8 L410.9,323.6 L413.5,324.3 L416.2,324.8 L419.0,325.2 L421.7,325.3 L424.5,325.3 L427.3,325.1 L430.0,324.7 L432.7,324.1 L435.3,323.2 L437.8,322.2 L440.2,321.0 L442.5,319.6 L444.6,318.1 L446.5,316.4 L448.2,314.5 L449.8,312.5 L451.1,310.4 L452.2,308.2 L453.1,305.9 L453.7,303.6 L454.1,301.2 L454.2,298.8 L454.1,296.4 L453.7,294.0 L453.1,291.7 L452.2,289.4 L451.1,287.2 L449.8,285.1 L448.2,283.1 L446.5,281.2 L444.6,279.5 L442.5,278.0 L440.2,276.6 L437.8,275.4 L435.3,274.4 L432.7,273.5 L430.0,272.9 L427.3,272.5 L424.5,272.3 L421.7,272.3 L419.0,272.4 L416.2,272.8 L413.5,273.3 L410.9,274.0 L408.3,274.8 L405.9,275.8 L403.5,277.0 L401.3,278.2 L399.2,279.5 L397.3,280.9 L395.5,282.4 L393.8,283.9 L392.3,285.4 L391.0,286.9 L389.8,288.4 L388.8,289.8 L388.0,291.2 L387.2,292.5 L386.6,293.8 L386.2,294.9 L385.8,295.9 L385.6,296.8 L385.4,297.5 L385.3,298.1 L385.2,298.5 L385.2,298.7 L385.2,298.8ZM385.2,298.8 L385.2,298.7 L385.2,298.5 L385.1,298.1 L385.0,297.5 L384.8,296.8 L384.6,295.9 L384.2,294.9 L383.8,293.8 L383.2,292.5 L382.4,291.2 L381.6,289.8 L380.6,288.4 L379.4,286.9 L378.1,285.4 L376.6,283.9 L374.9,282.4 L373.1,280.9 L371.2,279.5 L369.1,278.2 L366.9,277.0 L364.5,275.8 L362.1,274.8 L359.5,274.0 L356.9,273.3 L354.2,272.8 L351.4,272.4 L348.7,272.3 L345.9,272.3 L343.1,272.5 L340.4,272.9 L337.7,273.5 L335.1,274.4 L332.6,275.4 L330.2,276.6 L327.9,278.0 L325.8,279.5 L323.9,281.2 L322.2,283.1 L320.6,285.1 L319.3,287.2 L318.2,289.4 L317.3,291.7 L316.7,294.0 L316.3,296.4 L316.2,298.8 L316.3,301.2 L316.7,303.6 L317.3,305.9 L318.2,308.2 L319.3,310.4 L320.6,312.5 L322.2,314.5 L323.9,316.4 L325.8,318.1 L327.9,319.6 L330.2,321.0 L332.6,322.2 L335.1,323.2 L337.7,324.1 L340.4,324.7 L343.1,325.1 L345.9,325.3 L348.7,325.3 L351.4,325.2 L354.2,324.8 L356.9,324.3 L359.5,323.6 L362.1,322.8 L364.5,321.8 L366.9,320.6 L369.1,319.4 L371.2,318.1 L373.1,316.7 L374.9,315.2 L376.6,313.7 L378.1,312.2 L379.4,310.7 L380.6,309.2 L381.6,307.8 L382.4,306.4 L383.2,305.1 L383.8,303.8 L384.2,302.7 L384.6,301.7 L384.8,300.8 L385.0,300.1 L385.1,299.5 L385.2,299.1 L385.2,298.9 L385.2,298.8Z"/></clipPath>
<path d="M385.2,298.8 L385.2,298.9 L385.2,299.1 L385.3,299.5 L385.4,300.1 L385.6,300.8 L385.8,301.7 L386.2,302.7 L386.6,303.8 L387.2,305.1 L388.0,306.4 L388.8,307.8 L389.8,309.2 L391.0,310.7 L392.3,312.2 L393.8,313.7 L395.5,315.2 L397.3,316.7 L399.2,318.1 L401.3,319.4 L403.5,320.6 L405.9,321.8 L408.3,322.8 L410.9,323.6 L413.5,324.3 L416.2,324.8 L419.0,325.2 L421.7,325.3 L424.5,325.3 L427.3,325.1 L430.0,324.7 L432.7,324.1 L435.3,323.2 L437.8,322.2 L440.2,321.0 L442.5,319.6 L444.6,318.1 L446.5,316.4 L448.2,314.5 L449.8,312.5 L451.1,310.4 L452.2,308.2 L453.1,305.9 L453.7,303.6 L454.1,301.2 L454.2,298.8 L454.1,296.4 L453.7,294.0 L453.1,291.7 L452.2,289.4 L451.1,287.2 L449.8,285.1 L448.2,283.1 L446.5,281.2 L444.6,279.5 L442.5,278.0 L440.2,276.6 L437.8,275.4 L435.3,274.4 L432.7,273.5 L430.0,272.9 L427.3,272.5 L424.5,272.3 L421.7,272.3 L419.0,272.4 L416.2,272.8 L413.5,273.3 L410.9,274.0 L408.3,274.8 L405.9,275.8 L403.5,277.0 L401.3,278.2 L399.2,279.5 L397.3,280.9 L395.5,282.4 L393.8,283.9 L392.3,285.4 L391.0,286.9 L389.8,288.4 L388.8,289.8 L388.0,291.2 L387.2,292.5 L386.6,293.8 L386.2,294.9 L385.8,295.9 L385.6,296.8 L385.4,297.5 L385.3,298.1 L385.2,298.5 L385.2,298.7 L385.2,298.8ZM385.2,298.8 L385.2,298.7 L385.2,298.5 L385.1,298.1 L385.0,297.5 L384.8,296.8 L384.6,295.9 L384.2,294.9 L383.8,293.8 L383.2,292.5 L382.4,291.2 L381.6,289.8 L380.6,288.4 L379.4,286.9 L378.1,285.4 L376.6,283.9 L374.9,282.4 L373.1,280.9 L371.2,279.5 L369.1,278.2 L366.9,277.0 L364.5,275.8 L362.1,274.8 L359.5,274.0 L356.9,273.3 L354.2,272.8 L351.4,272.4 L348.7,272.3 L345.9,272.3 L343.1,272.5 L340.4,272.9 L337.7,273.5 L335.1,274.4 L332.6,275.4 L330.2,276.6 L327.9,278.0 L325.8,279.5 L323.9,281.2 L322.2,283.1 L320.6,285.1 L319.3,287.2 L318.2,289.4 L317.3,291.7 L316.7,294.0 L316.3,296.4 L316.2,298.8 L316.3,301.2 L316.7,303.6 L317.3,305.9 L318.2,308.2 L319.3,310.4 L320.6,312.5 L322.2,314.5 L323.9,316.4 L325.8,318.1 L327.9,319.6 L330.2,321.0 L332.6,322.2 L335.1,323.2 L337.7,324.1 L340.4,324.7 L343.1,325.1 L345.9,325.3 L348.7,325.3 L351.4,325.2 L354.2,324.8 L356.9,324.3 L359.5,323.6 L362.1,322.8 L364.5,321.8 L366.9,320.6 L369.1,319.4 L371.2,318.1 L373.1,316.7 L374.9,315.2 L376.6,313.7 L378.1,312.2 L379.4,310.7 L380.6,309.2 L381.6,307.8 L382.4,306.4 L383.2,305.1 L383.8,303.8 L384.2,302.7 L384.6,301.7 L384.8,300.8 L385.0,300.1 L385.1,299.5 L385.2,299.1 L385.2,298.9 L385.2,298.8Z" fill="#80c0ec"/>
<path d="M385.2,298.8 L386.5,298.8 L387.8,298.7 L389.1,298.6 L390.3,298.4 L391.6,298.2 L392.9,298.0 L394.1,297.7 L395.3,297.4 L396.5,297.0 L397.7,296.6 L398.8,296.2 L399.9,295.7 L401.0,295.2 L402.1,294.6 L403.1,294.0 L404.0,293.4 L405.0,292.8 L405.9,292.1 L406.7,291.4 L407.5,290.7 L408.3,289.9 L409.0,289.2 L409.7,288.4 L410.3,287.6 L410.9,286.8 L411.4,286.0 L411.9,285.2 L412.3,284.4 L412.6,283.6 L412.9,282.8 L413.2,282.0 L413.4,281.2 L413.5,280.4 L413.6,279.6 L413.7,278.9 L413.7,278.1 L413.6,277.4 L413.5,276.7 L413.3,276.0 L413.1,275.4 L412.9,274.8 L412.5,274.2 L412.2,273.6 L411.8,273.1 L411.4,272.6 L410.9,272.2 L410.4,271.8 L409.8,271.5 L409.2,271.1 L408.6,270.9 L408.0,270.7 L407.3,270.5 L406.6,270.4 L405.9,270.3 L405.1,270.3 L404.4,270.4 L403.6,270.5 L402.8,270.6 L402.0,270.8 L401.2,271.1 L400.4,271.4 L399.6,271.7 L398.8,272.1 L398.0,272.6 L397.2,273.1 L396.4,273.7 L395.6,274.3 L394.8,275.0 L394.1,275.7 L393.3,276.5 L392.6,277.3 L391.9,278.1 L391.2,279.0 L390.6,280.0 L390.0,280.9 L389.4,281.9 L388.8,283.0 L388.3,284.1 L387.8,285.2 L387.4,286.3 L387.0,287.5 L386.6,288.7 L386.3,289.9 L386.0,291.1 L385.8,292.4 L385.6,293.7 L385.4,294.9 L385.3,296.2 L385.2,297.5 L385.2,298.8ZM385.2,298.8 L385.2,297.5 L385.1,296.2 L385.0,294.9 L384.8,293.7 L384.6,292.4 L384.4,291.1 L384.1,289.9 L383.8,288.7 L383.4,287.5 L383.0,286.3 L382.6,285.2 L382.1,284.1 L381.6,283.0 L381.0,281.9 L380.4,280.9 L379.8,280.0 L379.2,279.0 L378.5,278.1 L377.8,277.3 L377.1,276.5 L376.3,275.7 L375.6,275.0 L374.8,274.3 L374.0,273.7 L373.2,273.1 L372.4,272.6 L371.6,272.1 L370.8,271.7 L370.0,271.4 L369.2,271.1 L368.4,270.8 L367.6,270.6 L366.8,270.5 L366.0,270.4 L365.3,270.3 L364.5,270.3 L363.8,270.4 L363.1,270.5 L362.4,270.7 L361.8,270.9 L361.2,271.1 L360.6,271.5 L360.0,271.8 L359.5,272.2 L359.0,272.6 L358.6,273.1 L358.2,273.6 L357.9,274.2 L357.5,274.8 L357.3,275.4 L357.1,276.0 L356.9,276.7 L356.8,277.4 L356.7,278.1 L356.7,278.9 L356.8,279.6 L356.9,280.4 L357.0,281.2 L357.2,282.0 L357.4,282.8 L357.8,283.6 L358.1,284.4 L358.5,285.2 L359.0,286.0 L359.5,286.8 L360.1,287.6 L360.7,288.4 L361.4,289.2 L362.1,289.9 L362.9,290.7 L363.7,291.4 L364.5,292.1 L365.4,292.8 L366.4,293.4 L367.3,294.0 L368.3,294.6 L369.4,295.2 L370.5,295.7 L371.6,296.2 L372.7,296.6 L373.9,297.0 L375.1,297.4 L376.3,297.7 L377.5,298.0 L378.8,298.2 L380.1,298.4 L381.3,298.6 L382.6,298.7 L383.9,298.8 L385.2,298.8ZM385.2,298.8 L383.9,298.8 L382.6,298.9 L381.3,299.0 L380.1,299.2 L378.8,299.4 L377.5,299.6 L376.3,299.9 L375.1,300.2 L373.9,300.6 L372.7,301.0 L371.6,301.4 L370.5,301.9 L369.4,302.4 L368.3,303.0 L367.3,303.6 L366.4,304.2 L365.4,304.8 L364.5,305.5 L363.7,306.2 L362.9,306.9 L362.1,307.7 L361.4,308.4 L360.7,309.2 L360.1,310.0 L359.5,310.8 L359.0,311.6 L358.5,312.4 L358.1,313.2 L357.8,314.0 L357.4,314.8 L357.2,315.6 L357.0,316.4 L356.9,317.2 L356.8,318.0 L356.7,318.7 L356.7,319.5 L356.8,320.2 L356.9,320.9 L357.1,321.6 L357.3,322.2 L357.5,322.8 L357.9,323.4 L358.2,324.0 L358.6,324.5 L359.0,325.0 L359.5,325.4 L360.0,325.8 L360.6,326.1 L361.2,326.5 L361.8,326.7 L362.4,326.9 L363.1,327.1 L363.8,327.2 L364.5,327.3 L365.3,327.3 L366.0,327.2 L366.8,327.1 L367.6,327.0 L368.4,326.8 L369.2,326.6 L370.0,326.2 L370.8,325.9 L371.6,325.5 L372.4,325.0 L373.2,324.5 L374.0,323.9 L374.8,323.3 L375.6,322.6 L376.3,321.9 L377.1,321.1 L377.8,320.3 L378.5,319.5 L379.2,318.6 L379.8,317.6 L380.4,316.7 L381.0,315.7 L381.6,314.6 L382.1,313.5 L382.6,312.4 L383.0,311.3 L383.4,310.1 L383.8,308.9 L384.1,307.7 L384.4,306.5 L384.6,305.2 L384.8,303.9 L385.0,302.7 L385.1,301.4 L385.2,300.1 L385.2,298.8ZM385.2,298.8 L385.2,300.1 L385.3,301.4 L385.4,302.7 L385.6,303.9 L385.8,305.2 L386.0,306.5 L386.3,307.7 L386.6,308.9 L387.0,310.1 L387.4,311.3 L387.8,312.4 L388.3,313.5 L388.8,314.6 L389.4,315.7 L390.0,316.7 L390.6,317.6 L391.2,318.6 L391.9,319.5 L392.6,320.3 L393.3,321.1 L394.1,321.9 L394.8,322.6 L395.6,323.3 L396.4,323.9 L397.2,324.5 L398.0,325.0 L398.8,325.5 L399.6,325.9 L400.4,326.2 L401.2,326.6 L402.0,326.8 L402.8,327.0 L403.6,327.1 L404.4,327.2 L405.1,327.3 L405.9,327.3 L406.6,327.2 L407.3,327.1 L408.0,326.9 L408.6,326.7 L409.2,326.5 L409.8,326.1 L410.4,325.8 L410.9,325.4 L411.4,325.0 L411.8,324.5 L412.2,324.0 L412.5,323.4 L412.9,322.8 L413.1,322.2 L413.3,321.6 L413.5,320.9 L413.6,320.2 L413.7,319.5 L413.7,318.7 L413.6,318.0 L413.5,317.2 L413.4,316.4 L413.2,315.6 L412.9,314.8 L412.6,314.0 L412.3,313.2 L411.9,312.4 L411.4,311.6 L410.9,310.8 L410.3,310.0 L409.7,309.2 L409.0,308.4 L408.3,307.7 L407.5,306.9 L406.7,306.2 L405.9,305.5 L405.0,304.8 L404.0,304.2 L403.1,303.6 L402.1,303.0 L401.0,302.4 L399.9,301.9 L398.8,301.4 L397.7,301.0 L396.5,300.6 L395.3,300.2 L394.1,299.9 L392.9,299.6 L391.6,299.4 L390.3,299.2 L389.1,299.0 L387.8,298.9 L386.5,298.8 L385.2,298.8Z" fill="#fd9e86"/>
<path d="M385.2,298.8 L386.5,298.8 L387.8,298.7 L389.1,298.6 L390.3,298.4 L391.6,298.2 L392.9,298.0 L394.1,297.7 L395.3,297.4 L396.5,297.0 L397.7,296.6 L398.8,296.2 L399.9,295.7 L401.0,295.2 L402.1,294.6 L403.1,294.0 L404.0,293.4 L405.0,292.8 L405.9,292.1 L406.7,291.4 L407.5,290.7 L408.3,289.9 L409.0,289.2 L409.7,288.4 L410.3,287.6 L410.9,286.8 L411.4,286.0 L411.9,285.2 L412.3,284.4 L412.6,283.6 L412.9,282.8 L413.2,282.0 L413.4,281.2 L413.5,280.4 L413.6,279.6 L413.7,278.9 L413.7,278.1 L413.6,277.4 L413.5,276.7 L413.3,276.0 L413.1,275.4 L412.9,274.8 L412.5,274.2 L412.2,273.6 L411.8,273.1 L411.4,272.6 L410.9,272.2 L410.4,271.8 L409.8,271.5 L409.2,271.1 L408.6,270.9 L408.0,270.7 L407.3,270.5 L406.6,270.4 L405.9,270.3 L405.1,270.3 L404.4,270.4 L403.6,270.5 L402.8,270.6 L402.0,270.8 L401.2,271.1 L400.4,271.4 L399.6,271.7 L398.8,272.1 L398.0,272.6 L397.2,273.1 L396.4,273.7 L395.6,274.3 L394.8,275.0 L394.1,275.7 L393.3,276.5 L392.6,277.3 L391.9,278.1 L391.2,279.0 L390.6,280.0 L390.0,280.9 L389.4,281.9 L388.8,283.0 L388.3,284.1 L387.8,285.2 L387.4,286.3 L387.0,287.5 L386.6,288.7 L386.3,289.9 L386.0,291.1 L385.8,292.4 L385.6,293.7 L385.4,294.9 L385.3,296.2 L385.2,297.5 L385.2,298.8ZM385.2,298.8 L385.2,297.5 L385.1,296.2 L385.0,294.9 L384.8,293.7 L384.6,292.4 L384.4,291.1 L384.1,289.9 L383.8,288.7 L383.4,287.5 L383.0,286.3 L382.6,285.2 L382.1,284.1 L381.6,283.0 L381.0,281.9 L380.4,280.9 L379.8,280.0 L379.2,279.0 L378.5,278.1 L377.8,277.3 L377.1,276.5 L376.3,275.7 L375.6,275.0 L374.8,274.3 L374.0,273.7 L373.2,273.1 L372.4,272.6 L371.6,272.1 L370.8,271.7 L370.0,271.4 L369.2,271.1 L368.4,270.8 L367.6,270.6 L366.8,270.5 L366.0,270.4 L365.3,270.3 L364.5,270.3 L363.8,270.4 L363.1,270.5 L362.4,270.7 L361.8,270.9 L361.2,271.1 L360.6,271.5 L360.0,271.8 L359.5,272.2 L359.0,272.6 L358.6,273.1 L358.2,273.6 L357.9,274.2 L357.5,274.8 L357.3,275.4 L357.1,276.0 L356.9,276.7 L356.8,277.4 L356.7,278.1 L356.7,278.9 L356.8,279.6 L356.9,280.4 L357.0,281.2 L357.2,282.0 L357.4,282.8 L357.8,283.6 L358.1,284.4 L358.5,285.2 L359.0,286.0 L359.5,286.8 L360.1,287.6 L360.7,288.4 L361.4,289.2 L362.1,289.9 L362.9,290.7 L363.7,291.4 L364.5,292.1 L365.4,292.8 L366.4,293.4 L367.3,294.0 L368.3,294.6 L369.4,295.2 L370.5,295.7 L371.6,296.2 L372.7,296.6 L373.9,297.0 L375.1,297.4 L376.3,297.7 L377.5,298.0 L378.8,298.2 L380.1,298.4 L381.3,298.6 L382.6,298.7 L383.9,298.8 L385.2,298.8ZM385.2,298.8 L383.9,298.8 L382.6,298.9 L381.3,299.0 L380.1,299.2 L378.8,299.4 L377.5,299.6 L376.3,299.9 L375.1,300.2 L373.9,300.6 L372.7,301.0 L371.6,301.4 L370.5,301.9 L369.4,302.4 L368.3,303.0 L367.3,303.6 L366.4,304.2 L365.4,304.8 L364.5,305.5 L363.7,306.2 L362.9,306.9 L362.1,307.7 L361.4,308.4 L360.7,309.2 L360.1,310.0 L359.5,310.8 L359.0,311.6 L358.5,312.4 L358.1,313.2 L357.8,314.0 L357.4,314.8 L357.2,315.6 L357.0,316.4 L356.9,317.2 L356.8,318.0 L356.7,318.7 L356.7,319.5 L356.8,320.2 L356.9,320.9 L357.1,321.6 L357.3,322.2 L357.5,322.8 L357.9,323.4 L358.2,324.0 L358.6,324.5 L359.0,325.0 L359.5,325.4 L360.0,325.8 L360.6,326.1 L361.2,326.5 L361.8,326.7 L362.4,326.9 L363.1,327.1 L363.8,327.2 L364.5,327.3 L365.3,327.3 L366.0,327.2 L366.8,327.1 L367.6,327.0 L368.4,326.8 L369.2,326.6 L370.0,326.2 L370.8,325.9 L371.6,325.5 L372.4,325.0 L373.2,324.5 L374.0,323.9 L374.8,323.3 L375.6,322.6 L376.3,321.9 L377.1,321.1 L377.8,320.3 L378.5,319.5 L379.2,318.6 L379.8,317.6 L380.4,316.7 L381.0,315.7 L381.6,314.6 L382.1,313.5 L382.6,312.4 L383.0,311.3 L383.4,310.1 L383.8,308.9 L384.1,307.7 L384.4,306.5 L384.6,305.2 L384.8,303.9 L385.0,302.7 L385.1,301.4 L385.2,300.1 L385.2,298.8ZM385.2,298.8 L385.2,300.1 L385.3,301.4 L385.4,302.7 L385.6,303.9 L385.8,305.2 L386.0,306.5 L386.3,307.7 L386.6,308.9 L387.0,310.1 L387.4,311.3 L387.8,312.4 L388.3,313.5 L388.8,314.6 L389.4,315.7 L390.0,316.7 L390.6,317.6 L391.2,318.6 L391.9,319.5 L392.6,320.3 L393.3,321.1 L394.1,321.9 L394.8,322.6 L395.6,323.3 L396.4,323.9 L397.2,324.5 L398.0,325.0 L398.8,325.5 L399.6,325.9 L400.4,326.2 L401.2,326.6 L402.0,326.8 L402.8,327.0 L403.6,327.1 L404.4,327.2 L405.1,327.3 L405.9,327.3 L406.6,327.2 L407.3,327.1 L408.0,326.9 L408.6,326.7 L409.2,326.5 L409.8,326.1 L410.4,325.8 L410.9,325.4 L411.4,325.0 L411.8,324.5 L412.2,324.0 L412.5,323.4 L412.9,322.8 L413.1,322.2 L413.3,321.6 L413.5,320.9 L413.6,320.2 L413.7,319.5 L413.7,318.7 L413.6,318.0 L413.5,317.2 L413.4,316.4 L413.2,315.6 L412.9,314.8 L412.6,314.0 L412.3,313.2 L411.9,312.4 L411.4,311.6 L410.9,310.8 L410.3,310.0 L409.7,309.2 L409.0,308.4 L408.3,307.7 L407.5,306.9 L406.7,306.2 L405.9,305.5 L405.0,304.8 L404.0,304.2 L403.1,303.6 L402.1,303.0 L401.0,302.4 L399.9,301.9 L398.8,301.4 L397.7,301.0 L396.5,300.6 L395.3,300.2 L394.1,299.9 L392.9,299.6 L391.6,299.4 L390.3,299.2 L389.1,299.0 L387.8,298.9 L386.5,298.8 L385.2,298.8Z" fill="#c5837c" clip-path="url(#ce)"/>
<path d="M309.2,298.8 L461.2,298.8 M385.2,222.8 L385.2,374.8" stroke="#7a7a7a" stroke-width="1" stroke-dasharray="1.4 1"/><path d="M333.6,247.2 L436.8,350.4 M333.6,350.4 L436.8,247.2" stroke="#2a2a2a" stroke-width="0.7" stroke-dasharray="1.3 0.8"/><circle cx="385.2" cy="298.8" r="34.5" fill="none" stroke="#3a3a3a" stroke-width="0.8" stroke-dasharray="2.2 1.4"/><circle cx="385.2" cy="298.8" r="69" fill="none" stroke="#777" stroke-width="0.7" stroke-dasharray="2.4 1.3"/>
<path d="M385.2,298.8 L385.2,298.9 L385.2,299.1 L385.3,299.5 L385.4,300.1 L385.6,300.8 L385.8,301.7 L386.2,302.7 L386.6,303.8 L387.2,305.1 L388.0,306.4 L388.8,307.8 L389.8,309.2 L391.0,310.7 L392.3,312.2 L393.8,313.7 L395.5,315.2 L397.3,316.7 L399.2,318.1 L401.3,319.4 L403.5,320.6 L405.9,321.8 L408.3,322.8 L410.9,323.6 L413.5,324.3 L416.2,324.8 L419.0,325.2 L421.7,325.3 L424.5,325.3 L427.3,325.1 L430.0,324.7 L432.7,324.1 L435.3,323.2 L437.8,322.2 L440.2,321.0 L442.5,319.6 L444.6,318.1 L446.5,316.4 L448.2,314.5 L449.8,312.5 L451.1,310.4 L452.2,308.2 L453.1,305.9 L453.7,303.6 L454.1,301.2 L454.2,298.8 L454.1,296.4 L453.7,294.0 L453.1,291.7 L452.2,289.4 L451.1,287.2 L449.8,285.1 L448.2,283.1 L446.5,281.2 L444.6,279.5 L442.5,278.0 L440.2,276.6 L437.8,275.4 L435.3,274.4 L432.7,273.5 L430.0,272.9 L427.3,272.5 L424.5,272.3 L421.7,272.3 L419.0,272.4 L416.2,272.8 L413.5,273.3 L410.9,274.0 L408.3,274.8 L405.9,275.8 L403.5,277.0 L401.3,278.2 L399.2,279.5 L397.3,280.9 L395.5,282.4 L393.8,283.9 L392.3,285.4 L391.0,286.9 L389.8,288.4 L388.8,289.8 L388.0,291.2 L387.2,292.5 L386.6,293.8 L386.2,294.9 L385.8,295.9 L385.6,296.8 L385.4,297.5 L385.3,298.1 L385.2,298.5 L385.2,298.7 L385.2,298.8ZM385.2,298.8 L385.2,298.7 L385.2,298.5 L385.1,298.1 L385.0,297.5 L384.8,296.8 L384.6,295.9 L384.2,294.9 L383.8,293.8 L383.2,292.5 L382.4,291.2 L381.6,289.8 L380.6,288.4 L379.4,286.9 L378.1,285.4 L376.6,283.9 L374.9,282.4 L373.1,280.9 L371.2,279.5 L369.1,278.2 L366.9,277.0 L364.5,275.8 L362.1,274.8 L359.5,274.0 L356.9,273.3 L354.2,272.8 L351.4,272.4 L348.7,272.3 L345.9,272.3 L343.1,272.5 L340.4,272.9 L337.7,273.5 L335.1,274.4 L332.6,275.4 L330.2,276.6 L327.9,278.0 L325.8,279.5 L323.9,281.2 L322.2,283.1 L320.6,285.1 L319.3,287.2 L318.2,289.4 L317.3,291.7 L316.7,294.0 L316.3,296.4 L316.2,298.8 L316.3,301.2 L316.7,303.6 L317.3,305.9 L318.2,308.2 L319.3,310.4 L320.6,312.5 L322.2,314.5 L323.9,316.4 L325.8,318.1 L327.9,319.6 L330.2,321.0 L332.6,322.2 L335.1,323.2 L337.7,324.1 L340.4,324.7 L343.1,325.1 L345.9,325.3 L348.7,325.3 L351.4,325.2 L354.2,324.8 L356.9,324.3 L359.5,323.6 L362.1,322.8 L364.5,321.8 L366.9,320.6 L369.1,319.4 L371.2,318.1 L373.1,316.7 L374.9,315.2 L376.6,313.7 L378.1,312.2 L379.4,310.7 L380.6,309.2 L381.6,307.8 L382.4,306.4 L383.2,305.1 L383.8,303.8 L384.2,302.7 L384.6,301.7 L384.8,300.8 L385.0,300.1 L385.1,299.5 L385.2,299.1 L385.2,298.9 L385.2,298.8Z" fill="none" stroke="#1c55a6" stroke-width="1.2" stroke-dasharray="2.1 1.4"/>
<path d="M385.2,298.8 L386.5,298.8 L387.8,298.7 L389.1,298.6 L390.3,298.4 L391.6,298.2 L392.9,298.0 L394.1,297.7 L395.3,297.4 L396.5,297.0 L397.7,296.6 L398.8,296.2 L399.9,295.7 L401.0,295.2 L402.1,294.6 L403.1,294.0 L404.0,293.4 L405.0,292.8 L405.9,292.1 L406.7,291.4 L407.5,290.7 L408.3,289.9 L409.0,289.2 L409.7,288.4 L410.3,287.6 L410.9,286.8 L411.4,286.0 L411.9,285.2 L412.3,284.4 L412.6,283.6 L412.9,282.8 L413.2,282.0 L413.4,281.2 L413.5,280.4 L413.6,279.6 L413.7,278.9 L413.7,278.1 L413.6,277.4 L413.5,276.7 L413.3,276.0 L413.1,275.4 L412.9,274.8 L412.5,274.2 L412.2,273.6 L411.8,273.1 L411.4,272.6 L410.9,272.2 L410.4,271.8 L409.8,271.5 L409.2,271.1 L408.6,270.9 L408.0,270.7 L407.3,270.5 L406.6,270.4 L405.9,270.3 L405.1,270.3 L404.4,270.4 L403.6,270.5 L402.8,270.6 L402.0,270.8 L401.2,271.1 L400.4,271.4 L399.6,271.7 L398.8,272.1 L398.0,272.6 L397.2,273.1 L396.4,273.7 L395.6,274.3 L394.8,275.0 L394.1,275.7 L393.3,276.5 L392.6,277.3 L391.9,278.1 L391.2,279.0 L390.6,280.0 L390.0,280.9 L389.4,281.9 L388.8,283.0 L388.3,284.1 L387.8,285.2 L387.4,286.3 L387.0,287.5 L386.6,288.7 L386.3,289.9 L386.0,291.1 L385.8,292.4 L385.6,293.7 L385.4,294.9 L385.3,296.2 L385.2,297.5 L385.2,298.8ZM385.2,298.8 L385.2,297.5 L385.1,296.2 L385.0,294.9 L384.8,293.7 L384.6,292.4 L384.4,291.1 L384.1,289.9 L383.8,288.7 L383.4,287.5 L383.0,286.3 L382.6,285.2 L382.1,284.1 L381.6,283.0 L381.0,281.9 L380.4,280.9 L379.8,280.0 L379.2,279.0 L378.5,278.1 L377.8,277.3 L377.1,276.5 L376.3,275.7 L375.6,275.0 L374.8,274.3 L374.0,273.7 L373.2,273.1 L372.4,272.6 L371.6,272.1 L370.8,271.7 L370.0,271.4 L369.2,271.1 L368.4,270.8 L367.6,270.6 L366.8,270.5 L366.0,270.4 L365.3,270.3 L364.5,270.3 L363.8,270.4 L363.1,270.5 L362.4,270.7 L361.8,270.9 L361.2,271.1 L360.6,271.5 L360.0,271.8 L359.5,272.2 L359.0,272.6 L358.6,273.1 L358.2,273.6 L357.9,274.2 L357.5,274.8 L357.3,275.4 L357.1,276.0 L356.9,276.7 L356.8,277.4 L356.7,278.1 L356.7,278.9 L356.8,279.6 L356.9,280.4 L357.0,281.2 L357.2,282.0 L357.4,282.8 L357.8,283.6 L358.1,284.4 L358.5,285.2 L359.0,286.0 L359.5,286.8 L360.1,287.6 L360.7,288.4 L361.4,289.2 L362.1,289.9 L362.9,290.7 L363.7,291.4 L364.5,292.1 L365.4,292.8 L366.4,293.4 L367.3,294.0 L368.3,294.6 L369.4,295.2 L370.5,295.7 L371.6,296.2 L372.7,296.6 L373.9,297.0 L375.1,297.4 L376.3,297.7 L377.5,298.0 L378.8,298.2 L380.1,298.4 L381.3,298.6 L382.6,298.7 L383.9,298.8 L385.2,298.8ZM385.2,298.8 L383.9,298.8 L382.6,298.9 L381.3,299.0 L380.1,299.2 L378.8,299.4 L377.5,299.6 L376.3,299.9 L375.1,300.2 L373.9,300.6 L372.7,301.0 L371.6,301.4 L370.5,301.9 L369.4,302.4 L368.3,303.0 L367.3,303.6 L366.4,304.2 L365.4,304.8 L364.5,305.5 L363.7,306.2 L362.9,306.9 L362.1,307.7 L361.4,308.4 L360.7,309.2 L360.1,310.0 L359.5,310.8 L359.0,311.6 L358.5,312.4 L358.1,313.2 L357.8,314.0 L357.4,314.8 L357.2,315.6 L357.0,316.4 L356.9,317.2 L356.8,318.0 L356.7,318.7 L356.7,319.5 L356.8,320.2 L356.9,320.9 L357.1,321.6 L357.3,322.2 L357.5,322.8 L357.9,323.4 L358.2,324.0 L358.6,324.5 L359.0,325.0 L359.5,325.4 L360.0,325.8 L360.6,326.1 L361.2,326.5 L361.8,326.7 L362.4,326.9 L363.1,327.1 L363.8,327.2 L364.5,327.3 L365.3,327.3 L366.0,327.2 L366.8,327.1 L367.6,327.0 L368.4,326.8 L369.2,326.6 L370.0,326.2 L370.8,325.9 L371.6,325.5 L372.4,325.0 L373.2,324.5 L374.0,323.9 L374.8,323.3 L375.6,322.6 L376.3,321.9 L377.1,321.1 L377.8,320.3 L378.5,319.5 L379.2,318.6 L379.8,317.6 L380.4,316.7 L381.0,315.7 L381.6,314.6 L382.1,313.5 L382.6,312.4 L383.0,311.3 L383.4,310.1 L383.8,308.9 L384.1,307.7 L384.4,306.5 L384.6,305.2 L384.8,303.9 L385.0,302.7 L385.1,301.4 L385.2,300.1 L385.2,298.8ZM385.2,298.8 L385.2,300.1 L385.3,301.4 L385.4,302.7 L385.6,303.9 L385.8,305.2 L386.0,306.5 L386.3,307.7 L386.6,308.9 L387.0,310.1 L387.4,311.3 L387.8,312.4 L388.3,313.5 L388.8,314.6 L389.4,315.7 L390.0,316.7 L390.6,317.6 L391.2,318.6 L391.9,319.5 L392.6,320.3 L393.3,321.1 L394.1,321.9 L394.8,322.6 L395.6,323.3 L396.4,323.9 L397.2,324.5 L398.0,325.0 L398.8,325.5 L399.6,325.9 L400.4,326.2 L401.2,326.6 L402.0,326.8 L402.8,327.0 L403.6,327.1 L404.4,327.2 L405.1,327.3 L405.9,327.3 L406.6,327.2 L407.3,327.1 L408.0,326.9 L408.6,326.7 L409.2,326.5 L409.8,326.1 L410.4,325.8 L410.9,325.4 L411.4,325.0 L411.8,324.5 L412.2,324.0 L412.5,323.4 L412.9,322.8 L413.1,322.2 L413.3,321.6 L413.5,320.9 L413.6,320.2 L413.7,319.5 L413.7,318.7 L413.6,318.0 L413.5,317.2 L413.4,316.4 L413.2,315.6 L412.9,314.8 L412.6,314.0 L412.3,313.2 L411.9,312.4 L411.4,311.6 L410.9,310.8 L410.3,310.0 L409.7,309.2 L409.0,308.4 L408.3,307.7 L407.5,306.9 L406.7,306.2 L405.9,305.5 L405.0,304.8 L404.0,304.2 L403.1,303.6 L402.1,303.0 L401.0,302.4 L399.9,301.9 L398.8,301.4 L397.7,301.0 L396.5,300.6 L395.3,300.2 L394.1,299.9 L392.9,299.6 L391.6,299.4 L390.3,299.2 L389.1,299.0 L387.8,298.9 L386.5,298.8 L385.2,298.8Z" fill="none" stroke="#d40f1c" stroke-width="1.2" stroke-dasharray="8 1.9 2.1 1.9"/>
<path d="M385.2,298.8 L385.3,301.5 L385.6,304.2 L386.2,306.9 L386.9,309.5 L387.8,312.0 L389.0,314.5 L390.3,316.8 L391.8,319.1 L393.5,321.2 L395.3,323.2 L397.3,325.0 L399.4,326.7 L401.7,328.2 L404.0,329.5 L406.5,330.7 L409.0,331.6 L411.6,332.3 L414.3,332.9 L417.0,333.2 L419.7,333.3 L422.4,333.2 L425.1,332.9 L427.8,332.3 L430.4,331.6 L432.9,330.7 L435.4,329.5 L437.7,328.2 L440.0,326.7 L442.1,325.0 L444.1,323.2 L445.9,321.2 L447.6,319.1 L449.1,316.8 L450.4,314.5 L451.6,312.0 L452.5,309.5 L453.2,306.9 L453.8,304.2 L454.1,301.5 L454.2,298.8 L454.1,296.1 L453.8,293.4 L453.2,290.7 L452.5,288.1 L451.6,285.6 L450.4,283.1 L449.1,280.8 L447.6,278.5 L445.9,276.4 L444.1,274.4 L442.1,272.6 L440.0,270.9 L437.7,269.4 L435.4,268.1 L432.9,266.9 L430.4,266.0 L427.8,265.3 L425.1,264.7 L422.4,264.4 L419.7,264.3 L417.0,264.4 L414.3,264.7 L411.6,265.3 L409.0,266.0 L406.5,266.9 L404.0,268.1 L401.7,269.4 L399.4,270.9 L397.3,272.6 L395.3,274.4 L393.5,276.4 L391.8,278.5 L390.3,280.8 L389.0,283.1 L387.8,285.6 L386.9,288.1 L386.2,290.7 L385.6,293.4 L385.3,296.1 L385.2,298.8ZM385.2,298.8 L385.1,296.1 L384.8,293.4 L384.2,290.7 L383.5,288.1 L382.6,285.6 L381.4,283.1 L380.1,280.8 L378.6,278.5 L376.9,276.4 L375.1,274.4 L373.1,272.6 L371.0,270.9 L368.7,269.4 L366.4,268.1 L363.9,266.9 L361.4,266.0 L358.8,265.3 L356.1,264.7 L353.4,264.4 L350.7,264.3 L348.0,264.4 L345.3,264.7 L342.6,265.3 L340.0,266.0 L337.5,266.9 L335.0,268.1 L332.7,269.4 L330.4,270.9 L328.3,272.6 L326.3,274.4 L324.5,276.4 L322.8,278.5 L321.3,280.8 L320.0,283.1 L318.8,285.6 L317.9,288.1 L317.2,290.7 L316.6,293.4 L316.3,296.1 L316.2,298.8 L316.3,301.5 L316.6,304.2 L317.2,306.9 L317.9,309.5 L318.8,312.0 L320.0,314.5 L321.3,316.8 L322.8,319.1 L324.5,321.2 L326.3,323.2 L328.3,325.0 L330.4,326.7 L332.7,328.2 L335.0,329.5 L337.5,330.7 L340.0,331.6 L342.6,332.3 L345.3,332.9 L348.0,333.2 L350.7,333.3 L353.4,333.2 L356.1,332.9 L358.8,332.3 L361.4,331.6 L363.9,330.7 L366.4,329.5 L368.7,328.2 L371.0,326.7 L373.1,325.0 L375.1,323.2 L376.9,321.2 L378.6,319.1 L380.1,316.8 L381.4,314.5 L382.6,312.0 L383.5,309.5 L384.2,306.9 L384.8,304.2 L385.1,301.5 L385.2,298.8Z" fill="none" stroke="#111" stroke-width="1.3" stroke-dasharray="5.2 3"/>
<text x="281" y="250.1" font-size="16" stroke="#000">(e)</text>
<rect x="264.7" y="272.5" width="17.9" height="49.6" fill="#fff" stroke="#444" stroke-width="0.9"/>
<text stroke="#000" transform="translate(277.9,297.3) rotate(-90)" font-size="13.5" text-anchor="middle">Exciton</text>
<g transform="translate(459.4,309.7)" fill="#1d6fd6" stroke="#1d6fd6" stroke-width="0.15"><text x="0" y="0" font-size="10.4">HH</text><text x="25.4" y="0" font-size="10.4">H</text><line x1="15.44" y1="-2.81" x2="23.03" y2="-2.81" stroke="#1d6fd6" stroke-width="0.68"/><path d="M25.11,-2.81 L21.37,-4.47 L22.49,-2.81 L21.37,-1.14Z" stroke="none"/></g>
<g transform="translate(332.4,242.4) rotate(45)" fill="#fa5222" stroke="#fa5222" stroke-width="0.15"><text x="-16.5" y="0" font-size="10.4">HA</text><text x="9" y="0" font-size="10.4">V</text><line x1="-1.03" y1="-2.81" x2="6.56" y2="-2.81" stroke="#fa5222" stroke-width="0.68"/><path d="M8.64,-2.81 L4.90,-4.47 L6.02,-2.81 L4.90,-1.14Z" stroke="none"/></g>
<g transform="translate(323.6,252.5) rotate(45)" fill="#1d6fd6" stroke="#1d6fd6" stroke-width="0.15"><text x="-16.5" y="0" font-size="10.4">HA</text><text x="9" y="0" font-size="10.4">H</text><line x1="-1.03" y1="-2.81" x2="6.56" y2="-2.81" stroke="#1d6fd6" stroke-width="0.68"/><path d="M8.64,-2.81 L4.90,-4.47 L6.02,-2.81 L4.90,-1.14Z" stroke="none"/></g>
<g transform="translate(436.4,243.5) rotate(-45)" fill="#fa5222" stroke="#fa5222" stroke-width="0.15"><text x="-16.5" y="0" font-size="10.4">HD</text><text x="9" y="0" font-size="10.4">V</text><line x1="-1.03" y1="-2.81" x2="6.56" y2="-2.81" stroke="#fa5222" stroke-width="0.68"/><path d="M8.64,-2.81 L4.90,-4.47 L6.02,-2.81 L4.90,-1.14Z" stroke="none"/></g>
<g transform="translate(445.3,252.1) rotate(-45)" fill="#1d6fd6" stroke="#1d6fd6" stroke-width="0.15"><text x="-16.5" y="0" font-size="10.4">HD</text><text x="9" y="0" font-size="10.4">H</text><line x1="-1.03" y1="-2.81" x2="6.56" y2="-2.81" stroke="#1d6fd6" stroke-width="0.68"/><path d="M8.64,-2.81 L4.90,-4.47 L6.02,-2.81 L4.90,-1.14Z" stroke="none"/></g>
<clipPath id="cg"><path d="M609.0,298.7 L609.0,298.8 L609.0,299.1 L609.1,299.5 L609.2,300.1 L609.4,300.9 L609.7,301.8 L610.0,302.8 L610.5,304.0 L611.1,305.3 L611.9,306.7 L612.8,308.2 L613.9,309.7 L615.1,311.3 L616.5,312.8 L618.1,314.4 L619.8,316.0 L621.7,317.5 L623.8,319.0 L626.0,320.4 L628.3,321.7 L630.8,322.9 L633.4,323.9 L636.1,324.8 L638.8,325.6 L641.7,326.1 L644.6,326.5 L647.5,326.7 L650.4,326.6 L653.3,326.4 L656.2,326.0 L659.0,325.3 L661.8,324.4 L664.4,323.4 L666.9,322.1 L669.3,320.7 L671.5,319.0 L673.6,317.2 L675.4,315.3 L677.0,313.2 L678.4,310.9 L679.6,308.6 L680.5,306.2 L681.2,303.7 L681.6,301.2 L681.7,298.7 L681.6,296.2 L681.2,293.7 L680.5,291.2 L679.6,288.8 L678.4,286.5 L677.0,284.2 L675.4,282.1 L673.6,280.2 L671.5,278.4 L669.3,276.7 L666.9,275.3 L664.4,274.0 L661.8,273.0 L659.0,272.1 L656.2,271.4 L653.3,271.0 L650.4,270.8 L647.5,270.7 L644.6,270.9 L641.7,271.3 L638.8,271.8 L636.1,272.6 L633.4,273.5 L630.8,274.5 L628.3,275.7 L626.0,277.0 L623.8,278.4 L621.7,279.9 L619.8,281.4 L618.1,283.0 L616.5,284.6 L615.1,286.1 L613.9,287.7 L612.8,289.2 L611.9,290.7 L611.1,292.1 L610.5,293.4 L610.0,294.6 L609.7,295.6 L609.4,296.5 L609.2,297.3 L609.1,297.9 L609.0,298.3 L609.0,298.6 L609.0,298.7ZM609.0,298.7 L609.0,298.6 L609.0,298.3 L608.9,297.9 L608.8,297.3 L608.6,296.5 L608.3,295.6 L608.0,294.6 L607.5,293.4 L606.9,292.1 L606.1,290.7 L605.2,289.2 L604.1,287.7 L602.9,286.1 L601.5,284.6 L599.9,283.0 L598.2,281.4 L596.3,279.9 L594.2,278.4 L592.0,277.0 L589.7,275.7 L587.2,274.5 L584.6,273.5 L581.9,272.6 L579.2,271.8 L576.3,271.3 L573.4,270.9 L570.5,270.7 L567.6,270.8 L564.7,271.0 L561.8,271.4 L559.0,272.1 L556.2,273.0 L553.6,274.0 L551.1,275.3 L548.7,276.7 L546.5,278.4 L544.4,280.2 L542.6,282.1 L541.0,284.2 L539.6,286.5 L538.4,288.8 L537.5,291.2 L536.8,293.7 L536.4,296.2 L536.3,298.7 L536.4,301.2 L536.8,303.7 L537.5,306.2 L538.4,308.6 L539.6,310.9 L541.0,313.2 L542.6,315.3 L544.4,317.2 L546.5,319.0 L548.7,320.7 L551.1,322.1 L553.6,323.4 L556.2,324.4 L559.0,325.3 L561.8,326.0 L564.7,326.4 L567.6,326.6 L570.5,326.7 L573.4,326.5 L576.3,326.1 L579.2,325.6 L581.9,324.8 L584.6,323.9 L587.2,322.9 L589.7,321.7 L592.0,320.4 L594.2,319.0 L596.3,317.5 L598.2,316.0 L599.9,314.4 L601.5,312.8 L602.9,311.3 L604.1,309.7 L605.2,308.2 L606.1,306.7 L606.9,305.3 L607.5,304.0 L608.0,302.8 L608.3,301.8 L608.6,300.9 L608.8,300.1 L608.9,299.5 L609.0,299.1 L609.0,298.8 L609.0,298.7Z"/></clipPath>
<path d="M609.0,298.7 L609.0,298.8 L609.0,299.1 L609.1,299.5 L609.2,300.1 L609.4,300.9 L609.7,301.8 L610.0,302.8 L610.5,304.0 L611.1,305.3 L611.9,306.7 L612.8,308.2 L613.9,309.7 L615.1,311.3 L616.5,312.8 L618.1,314.4 L619.8,316.0 L621.7,317.5 L623.8,319.0 L626.0,320.4 L628.3,321.7 L630.8,322.9 L633.4,323.9 L636.1,324.8 L638.8,325.6 L641.7,326.1 L644.6,326.5 L647.5,326.7 L650.4,326.6 L653.3,326.4 L656.2,326.0 L659.0,325.3 L661.8,324.4 L664.4,323.4 L666.9,322.1 L669.3,320.7 L671.5,319.0 L673.6,317.2 L675.4,315.3 L677.0,313.2 L678.4,310.9 L679.6,308.6 L680.5,306.2 L681.2,303.7 L681.6,301.2 L681.7,298.7 L681.6,296.2 L681.2,293.7 L680.5,291.2 L679.6,288.8 L678.4,286.5 L677.0,284.2 L675.4,282.1 L673.6,280.2 L671.5,278.4 L669.3,276.7 L666.9,275.3 L664.4,274.0 L661.8,273.0 L659.0,272.1 L656.2,271.4 L653.3,271.0 L650.4,270.8 L647.5,270.7 L644.6,270.9 L641.7,271.3 L638.8,271.8 L636.1,272.6 L633.4,273.5 L630.8,274.5 L628.3,275.7 L626.0,277.0 L623.8,278.4 L621.7,279.9 L619.8,281.4 L618.1,283.0 L616.5,284.6 L615.1,286.1 L613.9,287.7 L612.8,289.2 L611.9,290.7 L611.1,292.1 L610.5,293.4 L610.0,294.6 L609.7,295.6 L609.4,296.5 L609.2,297.3 L609.1,297.9 L609.0,298.3 L609.0,298.6 L609.0,298.7ZM609.0,298.7 L609.0,298.6 L609.0,298.3 L608.9,297.9 L608.8,297.3 L608.6,296.5 L608.3,295.6 L608.0,294.6 L607.5,293.4 L606.9,292.1 L606.1,290.7 L605.2,289.2 L604.1,287.7 L602.9,286.1 L601.5,284.6 L599.9,283.0 L598.2,281.4 L596.3,279.9 L594.2,278.4 L592.0,277.0 L589.7,275.7 L587.2,274.5 L584.6,273.5 L581.9,272.6 L579.2,271.8 L576.3,271.3 L573.4,270.9 L570.5,270.7 L567.6,270.8 L564.7,271.0 L561.8,271.4 L559.0,272.1 L556.2,273.0 L553.6,274.0 L551.1,275.3 L548.7,276.7 L546.5,278.4 L544.4,280.2 L542.6,282.1 L541.0,284.2 L539.6,286.5 L538.4,288.8 L537.5,291.2 L536.8,293.7 L536.4,296.2 L536.3,298.7 L536.4,301.2 L536.8,303.7 L537.5,306.2 L538.4,308.6 L539.6,310.9 L541.0,313.2 L542.6,315.3 L544.4,317.2 L546.5,319.0 L548.7,320.7 L551.1,322.1 L553.6,323.4 L556.2,324.4 L559.0,325.3 L561.8,326.0 L564.7,326.4 L567.6,326.6 L570.5,326.7 L573.4,326.5 L576.3,326.1 L579.2,325.6 L581.9,324.8 L584.6,323.9 L587.2,322.9 L589.7,321.7 L592.0,320.4 L594.2,319.0 L596.3,317.5 L598.2,316.0 L599.9,314.4 L601.5,312.8 L602.9,311.3 L604.1,309.7 L605.2,308.2 L606.1,306.7 L606.9,305.3 L607.5,304.0 L608.0,302.8 L608.3,301.8 L608.6,300.9 L608.8,300.1 L608.9,299.5 L609.0,299.1 L609.0,298.8 L609.0,298.7Z" fill="#80c0ec"/>
<path d="M609.0,298.7 L609.6,298.7 L610.4,298.7 L611.3,298.7 L612.2,298.6 L613.2,298.5 L614.2,298.3 L615.3,298.2 L616.3,297.9 L617.4,297.7 L618.5,297.4 L619.5,297.0 L620.6,296.7 L621.6,296.2 L622.7,295.8 L623.7,295.3 L624.7,294.8 L625.6,294.2 L626.6,293.7 L627.5,293.0 L628.4,292.4 L629.2,291.7 L630.0,291.1 L630.8,290.3 L631.5,289.6 L632.1,288.9 L632.7,288.1 L633.3,287.4 L633.8,286.6 L634.3,285.8 L634.7,285.0 L635.1,284.3 L635.4,283.5 L635.6,282.7 L635.8,282.0 L635.9,281.2 L636.0,280.5 L636.0,279.8 L636.0,279.1 L635.9,278.4 L635.8,277.8 L635.6,277.2 L635.3,276.6 L635.0,276.1 L634.7,275.6 L634.3,275.1 L633.9,274.7 L633.4,274.3 L632.9,274.0 L632.3,273.7 L631.7,273.5 L631.1,273.3 L630.5,273.1 L629.8,273.1 L629.1,273.0 L628.3,273.1 L627.6,273.1 L626.8,273.3 L626.0,273.5 L625.2,273.7 L624.4,274.0 L623.6,274.4 L622.8,274.8 L622.0,275.2 L621.2,275.7 L620.4,276.3 L619.6,276.9 L618.8,277.6 L618.1,278.3 L617.3,279.0 L616.6,279.8 L615.9,280.7 L615.3,281.5 L614.6,282.4 L614.0,283.3 L613.4,284.3 L612.8,285.3 L612.3,286.3 L611.8,287.3 L611.4,288.3 L611.0,289.4 L610.6,290.4 L610.3,291.4 L610.0,292.5 L609.7,293.5 L609.5,294.5 L609.3,295.5 L609.2,296.4 L609.1,297.3 L609.0,298.1 L609.0,298.7ZM609.0,298.7 L608.9,298.1 L608.8,297.4 L608.7,296.6 L608.5,295.7 L608.3,294.8 L608.1,293.9 L607.8,292.9 L607.5,292.0 L607.1,291.0 L606.7,290.1 L606.3,289.1 L605.8,288.2 L605.3,287.3 L604.8,286.4 L604.2,285.5 L603.6,284.6 L603.0,283.8 L602.3,283.0 L601.7,282.2 L601.0,281.5 L600.3,280.8 L599.5,280.1 L598.8,279.5 L598.0,278.9 L597.3,278.4 L596.5,277.9 L595.7,277.5 L595.0,277.1 L594.2,276.7 L593.4,276.4 L592.6,276.2 L591.9,276.0 L591.2,275.9 L590.4,275.8 L589.7,275.7 L589.0,275.7 L588.4,275.8 L587.8,275.9 L587.1,276.1 L586.6,276.3 L586.0,276.5 L585.5,276.8 L585.1,277.2 L584.6,277.5 L584.3,277.9 L583.9,278.4 L583.6,278.9 L583.4,279.4 L583.2,279.9 L583.0,280.5 L582.9,281.1 L582.9,281.7 L582.9,282.4 L582.9,283.0 L583.0,283.7 L583.2,284.4 L583.4,285.1 L583.7,285.8 L584.0,286.5 L584.4,287.2 L584.8,287.9 L585.3,288.6 L585.8,289.3 L586.3,290.0 L587.0,290.7 L587.6,291.3 L588.3,292.0 L589.1,292.6 L589.8,293.2 L590.6,293.8 L591.5,294.3 L592.4,294.9 L593.3,295.4 L594.2,295.8 L595.2,296.3 L596.1,296.7 L597.1,297.0 L598.1,297.4 L599.1,297.7 L600.1,297.9 L601.1,298.1 L602.1,298.3 L603.1,298.5 L604.1,298.6 L605.0,298.7 L606.0,298.8 L606.9,298.8 L607.7,298.8 L608.4,298.7 L609.0,298.7ZM609.0,298.7 L608.4,298.7 L607.6,298.6 L606.8,298.6 L605.8,298.6 L604.9,298.7 L603.9,298.8 L602.9,298.9 L601.9,299.1 L600.8,299.3 L599.8,299.5 L598.7,299.8 L597.7,300.1 L596.6,300.4 L595.6,300.8 L594.6,301.2 L593.6,301.7 L592.6,302.2 L591.7,302.7 L590.8,303.2 L589.9,303.8 L589.1,304.4 L588.2,305.0 L587.5,305.7 L586.8,306.4 L586.1,307.0 L585.4,307.7 L584.8,308.5 L584.3,309.2 L583.8,309.9 L583.4,310.6 L583.0,311.4 L582.7,312.1 L582.4,312.9 L582.2,313.6 L582.0,314.3 L581.9,315.0 L581.8,315.7 L581.8,316.3 L581.9,317.0 L582.0,317.6 L582.1,318.2 L582.3,318.8 L582.6,319.3 L582.9,319.8 L583.3,320.3 L583.7,320.7 L584.1,321.1 L584.6,321.5 L585.1,321.8 L585.7,322.0 L586.3,322.2 L586.9,322.4 L587.6,322.5 L588.2,322.6 L589.0,322.6 L589.7,322.5 L590.4,322.5 L591.2,322.3 L592.0,322.1 L592.8,321.9 L593.6,321.6 L594.4,321.2 L595.2,320.8 L596.0,320.3 L596.8,319.8 L597.6,319.3 L598.4,318.7 L599.1,318.0 L599.9,317.3 L600.6,316.6 L601.4,315.9 L602.1,315.0 L602.7,314.2 L603.4,313.3 L604.0,312.4 L604.6,311.5 L605.1,310.6 L605.7,309.6 L606.1,308.6 L606.6,307.7 L607.0,306.7 L607.4,305.7 L607.7,304.7 L608.0,303.7 L608.3,302.7 L608.5,301.8 L608.7,300.9 L608.8,300.1 L608.9,299.3 L609.0,298.7ZM609.0,298.7 L609.1,299.2 L609.2,300.0 L609.3,300.7 L609.5,301.6 L609.7,302.4 L609.9,303.3 L610.2,304.2 L610.5,305.1 L610.8,306.0 L611.2,307.0 L611.6,307.9 L612.1,308.8 L612.6,309.7 L613.1,310.5 L613.6,311.4 L614.2,312.2 L614.8,313.0 L615.4,313.8 L616.0,314.5 L616.7,315.2 L617.4,315.9 L618.1,316.5 L618.8,317.1 L619.5,317.7 L620.3,318.2 L621.0,318.7 L621.7,319.1 L622.5,319.5 L623.2,319.8 L624.0,320.1 L624.7,320.3 L625.4,320.5 L626.1,320.6 L626.8,320.7 L627.5,320.7 L628.1,320.7 L628.8,320.7 L629.4,320.6 L630.0,320.4 L630.5,320.2 L631.0,320.0 L631.5,319.7 L632.0,319.4 L632.4,319.0 L632.7,318.6 L633.1,318.2 L633.4,317.7 L633.6,317.2 L633.8,316.7 L633.9,316.2 L634.0,315.6 L634.1,315.0 L634.1,314.4 L634.0,313.7 L633.9,313.1 L633.8,312.4 L633.6,311.8 L633.3,311.1 L633.0,310.4 L632.6,309.7 L632.2,309.0 L631.8,308.4 L631.3,307.7 L630.7,307.0 L630.2,306.4 L629.5,305.8 L628.9,305.2 L628.1,304.6 L627.4,304.0 L626.6,303.4 L625.8,302.9 L625.0,302.4 L624.1,301.9 L623.2,301.5 L622.3,301.0 L621.4,300.7 L620.4,300.3 L619.5,300.0 L618.5,299.7 L617.5,299.4 L616.6,299.2 L615.6,299.0 L614.6,298.9 L613.7,298.8 L612.8,298.7 L611.9,298.6 L611.1,298.6 L610.3,298.6 L609.6,298.7 L609.0,298.7Z" fill="#fd9e86"/>
<path d="M609.0,298.7 L609.6,298.7 L610.4,298.7 L611.3,298.7 L612.2,298.6 L613.2,298.5 L614.2,298.3 L615.3,298.2 L616.3,297.9 L617.4,297.7 L618.5,297.4 L619.5,297.0 L620.6,296.7 L621.6,296.2 L622.7,295.8 L623.7,295.3 L624.7,294.8 L625.6,294.2 L626.6,293.7 L627.5,293.0 L628.4,292.4 L629.2,291.7 L630.0,291.1 L630.8,290.3 L631.5,289.6 L632.1,288.9 L632.7,288.1 L633.3,287.4 L633.8,286.6 L634.3,285.8 L634.7,285.0 L635.1,284.3 L635.4,283.5 L635.6,282.7 L635.8,282.0 L635.9,281.2 L636.0,280.5 L636.0,279.8 L636.0,279.1 L635.9,278.4 L635.8,277.8 L635.6,277.2 L635.3,276.6 L635.0,276.1 L634.7,275.6 L634.3,275.1 L633.9,274.7 L633.4,274.3 L632.9,274.0 L632.3,273.7 L631.7,273.5 L631.1,273.3 L630.5,273.1 L629.8,273.1 L629.1,273.0 L628.3,273.1 L627.6,273.1 L626.8,273.3 L626.0,273.5 L625.2,273.7 L624.4,274.0 L623.6,274.4 L622.8,274.8 L622.0,275.2 L621.2,275.7 L620.4,276.3 L619.6,276.9 L618.8,277.6 L618.1,278.3 L617.3,279.0 L616.6,279.8 L615.9,280.7 L615.3,281.5 L614.6,282.4 L614.0,283.3 L613.4,284.3 L612.8,285.3 L612.3,286.3 L611.8,287.3 L611.4,288.3 L611.0,289.4 L610.6,290.4 L610.3,291.4 L610.0,292.5 L609.7,293.5 L609.5,294.5 L609.3,295.5 L609.2,296.4 L609.1,297.3 L609.0,298.1 L609.0,298.7ZM609.0,298.7 L608.9,298.1 L608.8,297.4 L608.7,296.6 L608.5,295.7 L608.3,294.8 L608.1,293.9 L607.8,292.9 L607.5,292.0 L607.1,291.0 L606.7,290.1 L606.3,289.1 L605.8,288.2 L605.3,287.3 L604.8,286.4 L604.2,285.5 L603.6,284.6 L603.0,283.8 L602.3,283.0 L601.7,282.2 L601.0,281.5 L600.3,280.8 L599.5,280.1 L598.8,279.5 L598.0,278.9 L597.3,278.4 L596.5,277.9 L595.7,277.5 L595.0,277.1 L594.2,276.7 L593.4,276.4 L592.6,276.2 L591.9,276.0 L591.2,275.9 L590.4,275.8 L589.7,275.7 L589.0,275.7 L588.4,275.8 L587.8,275.9 L587.1,276.1 L586.6,276.3 L586.0,276.5 L585.5,276.8 L585.1,277.2 L584.6,277.5 L584.3,277.9 L583.9,278.4 L583.6,278.9 L583.4,279.4 L583.2,279.9 L583.0,280.5 L582.9,281.1 L582.9,281.7 L582.9,282.4 L582.9,283.0 L583.0,283.7 L583.2,284.4 L583.4,285.1 L583.7,285.8 L584.0,286.5 L584.4,287.2 L584.8,287.9 L585.3,288.6 L585.8,289.3 L586.3,290.0 L587.0,290.7 L587.6,291.3 L588.3,292.0 L589.1,292.6 L589.8,293.2 L590.6,293.8 L591.5,294.3 L592.4,294.9 L593.3,295.4 L594.2,295.8 L595.2,296.3 L596.1,296.7 L597.1,297.0 L598.1,297.4 L599.1,297.7 L600.1,297.9 L601.1,298.1 L602.1,298.3 L603.1,298.5 L604.1,298.6 L605.0,298.7 L606.0,298.8 L606.9,298.8 L607.7,298.8 L608.4,298.7 L609.0,298.7ZM609.0,298.7 L608.4,298.7 L607.6,298.6 L606.8,298.6 L605.8,298.6 L604.9,298.7 L603.9,298.8 L602.9,298.9 L601.9,299.1 L600.8,299.3 L599.8,299.5 L598.7,299.8 L597.7,300.1 L596.6,300.4 L595.6,300.8 L594.6,301.2 L593.6,301.7 L592.6,302.2 L591.7,302.7 L590.8,303.2 L589.9,303.8 L589.1,304.4 L588.2,305.0 L587.5,305.7 L586.8,306.4 L586.1,307.0 L585.4,307.7 L584.8,308.5 L584.3,309.2 L583.8,309.9 L583.4,310.6 L583.0,311.4 L582.7,312.1 L582.4,312.9 L582.2,313.6 L582.0,314.3 L581.9,315.0 L581.8,315.7 L581.8,316.3 L581.9,317.0 L582.0,317.6 L582.1,318.2 L582.3,318.8 L582.6,319.3 L582.9,319.8 L583.3,320.3 L583.7,320.7 L584.1,321.1 L584.6,321.5 L585.1,321.8 L585.7,322.0 L586.3,322.2 L586.9,322.4 L587.6,322.5 L588.2,322.6 L589.0,322.6 L589.7,322.5 L590.4,322.5 L591.2,322.3 L592.0,322.1 L592.8,321.9 L593.6,321.6 L594.4,321.2 L595.2,320.8 L596.0,320.3 L596.8,319.8 L597.6,319.3 L598.4,318.7 L599.1,318.0 L599.9,317.3 L600.6,316.6 L601.4,315.9 L602.1,315.0 L602.7,314.2 L603.4,313.3 L604.0,312.4 L604.6,311.5 L605.1,310.6 L605.7,309.6 L606.1,308.6 L606.6,307.7 L607.0,306.7 L607.4,305.7 L607.7,304.7 L608.0,303.7 L608.3,302.7 L608.5,301.8 L608.7,300.9 L608.8,300.1 L608.9,299.3 L609.0,298.7ZM609.0,298.7 L609.1,299.2 L609.2,300.0 L609.3,300.7 L609.5,301.6 L609.7,302.4 L609.9,303.3 L610.2,304.2 L610.5,305.1 L610.8,306.0 L611.2,307.0 L611.6,307.9 L612.1,308.8 L612.6,309.7 L613.1,310.5 L613.6,311.4 L614.2,312.2 L614.8,313.0 L615.4,313.8 L616.0,314.5 L616.7,315.2 L617.4,315.9 L618.1,316.5 L618.8,317.1 L619.5,317.7 L620.3,318.2 L621.0,318.7 L621.7,319.1 L622.5,319.5 L623.2,319.8 L624.0,320.1 L624.7,320.3 L625.4,320.5 L626.1,320.6 L626.8,320.7 L627.5,320.7 L628.1,320.7 L628.8,320.7 L629.4,320.6 L630.0,320.4 L630.5,320.2 L631.0,320.0 L631.5,319.7 L632.0,319.4 L632.4,319.0 L632.7,318.6 L633.1,318.2 L633.4,317.7 L633.6,317.2 L633.8,316.7 L633.9,316.2 L634.0,315.6 L634.1,315.0 L634.1,314.4 L634.0,313.7 L633.9,313.1 L633.8,312.4 L633.6,311.8 L633.3,311.1 L633.0,310.4 L632.6,309.7 L632.2,309.0 L631.8,308.4 L631.3,307.7 L630.7,307.0 L630.2,306.4 L629.5,305.8 L628.9,305.2 L628.1,304.6 L627.4,304.0 L626.6,303.4 L625.8,302.9 L625.0,302.4 L624.1,301.9 L623.2,301.5 L622.3,301.0 L621.4,300.7 L620.4,300.3 L619.5,300.0 L618.5,299.7 L617.5,299.4 L616.6,299.2 L615.6,299.0 L614.6,298.9 L613.7,298.8 L612.8,298.7 L611.9,298.6 L611.1,298.6 L610.3,298.6 L609.6,298.7 L609.0,298.7Z" fill="#c5837c" clip-path="url(#cg)"/>
<path d="M531.0,298.7 L687.0,298.7 M609,221.7 L609,375.7" stroke="#7a7a7a" stroke-width="1" stroke-dasharray="1.4 1"/><path d="M554.6,244.3 L663.4,353.1 M554.6,353.1 L663.4,244.3" stroke="#2a2a2a" stroke-width="0.7" stroke-dasharray="1.3 0.8"/><circle cx="609" cy="298.7" r="36" fill="none" stroke="#3a3a3a" stroke-width="0.8" stroke-dasharray="2.2 1.4"/><circle cx="609" cy="298.7" r="71.8" fill="none" stroke="#777" stroke-width="0.7" stroke-dasharray="2.4 1.3"/>
<path d="M609.0,298.7 L609.0,298.8 L609.0,299.1 L609.1,299.5 L609.2,300.1 L609.4,300.9 L609.7,301.8 L610.0,302.8 L610.5,304.0 L611.1,305.3 L611.9,306.7 L612.8,308.2 L613.9,309.7 L615.1,311.3 L616.5,312.8 L618.1,314.4 L619.8,316.0 L621.7,317.5 L623.8,319.0 L626.0,320.4 L628.3,321.7 L630.8,322.9 L633.4,323.9 L636.1,324.8 L638.8,325.6 L641.7,326.1 L644.6,326.5 L647.5,326.7 L650.4,326.6 L653.3,326.4 L656.2,326.0 L659.0,325.3 L661.8,324.4 L664.4,323.4 L666.9,322.1 L669.3,320.7 L671.5,319.0 L673.6,317.2 L675.4,315.3 L677.0,313.2 L678.4,310.9 L679.6,308.6 L680.5,306.2 L681.2,303.7 L681.6,301.2 L681.7,298.7 L681.6,296.2 L681.2,293.7 L680.5,291.2 L679.6,288.8 L678.4,286.5 L677.0,284.2 L675.4,282.1 L673.6,280.2 L671.5,278.4 L669.3,276.7 L666.9,275.3 L664.4,274.0 L661.8,273.0 L659.0,272.1 L656.2,271.4 L653.3,271.0 L650.4,270.8 L647.5,270.7 L644.6,270.9 L641.7,271.3 L638.8,271.8 L636.1,272.6 L633.4,273.5 L630.8,274.5 L628.3,275.7 L626.0,277.0 L623.8,278.4 L621.7,279.9 L619.8,281.4 L618.1,283.0 L616.5,284.6 L615.1,286.1 L613.9,287.7 L612.8,289.2 L611.9,290.7 L611.1,292.1 L610.5,293.4 L610.0,294.6 L609.7,295.6 L609.4,296.5 L609.2,297.3 L609.1,297.9 L609.0,298.3 L609.0,298.6 L609.0,298.7ZM609.0,298.7 L609.0,298.6 L609.0,298.3 L608.9,297.9 L608.8,297.3 L608.6,296.5 L608.3,295.6 L608.0,294.6 L607.5,293.4 L606.9,292.1 L606.1,290.7 L605.2,289.2 L604.1,287.7 L602.9,286.1 L601.5,284.6 L599.9,283.0 L598.2,281.4 L596.3,279.9 L594.2,278.4 L592.0,277.0 L589.7,275.7 L587.2,274.5 L584.6,273.5 L581.9,272.6 L579.2,271.8 L576.3,271.3 L573.4,270.9 L570.5,270.7 L567.6,270.8 L564.7,271.0 L561.8,271.4 L559.0,272.1 L556.2,273.0 L553.6,274.0 L551.1,275.3 L548.7,276.7 L546.5,278.4 L544.4,280.2 L542.6,282.1 L541.0,284.2 L539.6,286.5 L538.4,288.8 L537.5,291.2 L536.8,293.7 L536.4,296.2 L536.3,298.7 L536.4,301.2 L536.8,303.7 L537.5,306.2 L538.4,308.6 L539.6,310.9 L541.0,313.2 L542.6,315.3 L544.4,317.2 L546.5,319.0 L548.7,320.7 L551.1,322.1 L553.6,323.4 L556.2,324.4 L559.0,325.3 L561.8,326.0 L564.7,326.4 L567.6,326.6 L570.5,326.7 L573.4,326.5 L576.3,326.1 L579.2,325.6 L581.9,324.8 L584.6,323.9 L587.2,322.9 L589.7,321.7 L592.0,320.4 L594.2,319.0 L596.3,317.5 L598.2,316.0 L599.9,314.4 L601.5,312.8 L602.9,311.3 L604.1,309.7 L605.2,308.2 L606.1,306.7 L606.9,305.3 L607.5,304.0 L608.0,302.8 L608.3,301.8 L608.6,300.9 L608.8,300.1 L608.9,299.5 L609.0,299.1 L609.0,298.8 L609.0,298.7Z" fill="none" stroke="#1c55a6" stroke-width="1.2" stroke-dasharray="2.1 1.4"/>
<path d="M609.0,298.7 L609.6,298.7 L610.4,298.7 L611.3,298.7 L612.2,298.6 L613.2,298.5 L614.2,298.3 L615.3,298.2 L616.3,297.9 L617.4,297.7 L618.5,297.4 L619.5,297.0 L620.6,296.7 L621.6,296.2 L622.7,295.8 L623.7,295.3 L624.7,294.8 L625.6,294.2 L626.6,293.7 L627.5,293.0 L628.4,292.4 L629.2,291.7 L630.0,291.1 L630.8,290.3 L631.5,289.6 L632.1,288.9 L632.7,288.1 L633.3,287.4 L633.8,286.6 L634.3,285.8 L634.7,285.0 L635.1,284.3 L635.4,283.5 L635.6,282.7 L635.8,282.0 L635.9,281.2 L636.0,280.5 L636.0,279.8 L636.0,279.1 L635.9,278.4 L635.8,277.8 L635.6,277.2 L635.3,276.6 L635.0,276.1 L634.7,275.6 L634.3,275.1 L633.9,274.7 L633.4,274.3 L632.9,274.0 L632.3,273.7 L631.7,273.5 L631.1,273.3 L630.5,273.1 L629.8,273.1 L629.1,273.0 L628.3,273.1 L627.6,273.1 L626.8,273.3 L626.0,273.5 L625.2,273.7 L624.4,274.0 L623.6,274.4 L622.8,274.8 L622.0,275.2 L621.2,275.7 L620.4,276.3 L619.6,276.9 L618.8,277.6 L618.1,278.3 L617.3,279.0 L616.6,279.8 L615.9,280.7 L615.3,281.5 L614.6,282.4 L614.0,283.3 L613.4,284.3 L612.8,285.3 L612.3,286.3 L611.8,287.3 L611.4,288.3 L611.0,289.4 L610.6,290.4 L610.3,291.4 L610.0,292.5 L609.7,293.5 L609.5,294.5 L609.3,295.5 L609.2,296.4 L609.1,297.3 L609.0,298.1 L609.0,298.7ZM609.0,298.7 L608.9,298.1 L608.8,297.4 L608.7,296.6 L608.5,295.7 L608.3,294.8 L608.1,293.9 L607.8,292.9 L607.5,292.0 L607.1,291.0 L606.7,290.1 L606.3,289.1 L605.8,288.2 L605.3,287.3 L604.8,286.4 L604.2,285.5 L603.6,284.6 L603.0,283.8 L602.3,283.0 L601.7,282.2 L601.0,281.5 L600.3,280.8 L599.5,280.1 L598.8,279.5 L598.0,278.9 L597.3,278.4 L596.5,277.9 L595.7,277.5 L595.0,277.1 L594.2,276.7 L593.4,276.4 L592.6,276.2 L591.9,276.0 L591.2,275.9 L590.4,275.8 L589.7,275.7 L589.0,275.7 L588.4,275.8 L587.8,275.9 L587.1,276.1 L586.6,276.3 L586.0,276.5 L585.5,276.8 L585.1,277.2 L584.6,277.5 L584.3,277.9 L583.9,278.4 L583.6,278.9 L583.4,279.4 L583.2,279.9 L583.0,280.5 L582.9,281.1 L582.9,281.7 L582.9,282.4 L582.9,283.0 L583.0,283.7 L583.2,284.4 L583.4,285.1 L583.7,285.8 L584.0,286.5 L584.4,287.2 L584.8,287.9 L585.3,288.6 L585.8,289.3 L586.3,290.0 L587.0,290.7 L587.6,291.3 L588.3,292.0 L589.1,292.6 L589.8,293.2 L590.6,293.8 L591.5,294.3 L592.4,294.9 L593.3,295.4 L594.2,295.8 L595.2,296.3 L596.1,296.7 L597.1,297.0 L598.1,297.4 L599.1,297.7 L600.1,297.9 L601.1,298.1 L602.1,298.3 L603.1,298.5 L604.1,298.6 L605.0,298.7 L606.0,298.8 L606.9,298.8 L607.7,298.8 L608.4,298.7 L609.0,298.7ZM609.0,298.7 L608.4,298.7 L607.6,298.6 L606.8,298.6 L605.8,298.6 L604.9,298.7 L603.9,298.8 L602.9,298.9 L601.9,299.1 L600.8,299.3 L599.8,299.5 L598.7,299.8 L597.7,300.1 L596.6,300.4 L595.6,300.8 L594.6,301.2 L593.6,301.7 L592.6,302.2 L591.7,302.7 L590.8,303.2 L589.9,303.8 L589.1,304.4 L588.2,305.0 L587.5,305.7 L586.8,306.4 L586.1,307.0 L585.4,307.7 L584.8,308.5 L584.3,309.2 L583.8,309.9 L583.4,310.6 L583.0,311.4 L582.7,312.1 L582.4,312.9 L582.2,313.6 L582.0,314.3 L581.9,315.0 L581.8,315.7 L581.8,316.3 L581.9,317.0 L582.0,317.6 L582.1,318.2 L582.3,318.8 L582.6,319.3 L582.9,319.8 L583.3,320.3 L583.7,320.7 L584.1,321.1 L584.6,321.5 L585.1,321.8 L585.7,322.0 L586.3,322.2 L586.9,322.4 L587.6,322.5 L588.2,322.6 L589.0,322.6 L589.7,322.5 L590.4,322.5 L591.2,322.3 L592.0,322.1 L592.8,321.9 L593.6,321.6 L594.4,321.2 L595.2,320.8 L596.0,320.3 L596.8,319.8 L597.6,319.3 L598.4,318.7 L599.1,318.0 L599.9,317.3 L600.6,316.6 L601.4,315.9 L602.1,315.0 L602.7,314.2 L603.4,313.3 L604.0,312.4 L604.6,311.5 L605.1,310.6 L605.7,309.6 L606.1,308.6 L606.6,307.7 L607.0,306.7 L607.4,305.7 L607.7,304.7 L608.0,303.7 L608.3,302.7 L608.5,301.8 L608.7,300.9 L608.8,300.1 L608.9,299.3 L609.0,298.7ZM609.0,298.7 L609.1,299.2 L609.2,300.0 L609.3,300.7 L609.5,301.6 L609.7,302.4 L609.9,303.3 L610.2,304.2 L610.5,305.1 L610.8,306.0 L611.2,307.0 L611.6,307.9 L612.1,308.8 L612.6,309.7 L613.1,310.5 L613.6,311.4 L614.2,312.2 L614.8,313.0 L615.4,313.8 L616.0,314.5 L616.7,315.2 L617.4,315.9 L618.1,316.5 L618.8,317.1 L619.5,317.7 L620.3,318.2 L621.0,318.7 L621.7,319.1 L622.5,319.5 L623.2,319.8 L624.0,320.1 L624.7,320.3 L625.4,320.5 L626.1,320.6 L626.8,320.7 L627.5,320.7 L628.1,320.7 L628.8,320.7 L629.4,320.6 L630.0,320.4 L630.5,320.2 L631.0,320.0 L631.5,319.7 L632.0,319.4 L632.4,319.0 L632.7,318.6 L633.1,318.2 L633.4,317.7 L633.6,317.2 L633.8,316.7 L633.9,316.2 L634.0,315.6 L634.1,315.0 L634.1,314.4 L634.0,313.7 L633.9,313.1 L633.8,312.4 L633.6,311.8 L633.3,311.1 L633.0,310.4 L632.6,309.7 L632.2,309.0 L631.8,308.4 L631.3,307.7 L630.7,307.0 L630.2,306.4 L629.5,305.8 L628.9,305.2 L628.1,304.6 L627.4,304.0 L626.6,303.4 L625.8,302.9 L625.0,302.4 L624.1,301.9 L623.2,301.5 L622.3,301.0 L621.4,300.7 L620.4,300.3 L619.5,300.0 L618.5,299.7 L617.5,299.4 L616.6,299.2 L615.6,299.0 L614.6,298.9 L613.7,298.8 L612.8,298.7 L611.9,298.6 L611.1,298.6 L610.3,298.6 L609.6,298.7 L609.0,298.7Z" fill="none" stroke="#d40f1c" stroke-width="1.2" stroke-dasharray="8 1.9 2.1 1.9"/>
<path d="M609.0,298.7 L609.1,301.5 L609.4,304.3 L610.0,307.0 L610.7,309.7 L611.7,312.4 L612.9,314.9 L614.3,317.4 L615.8,319.7 L617.6,321.9 L619.5,324.0 L621.5,325.9 L623.7,327.6 L626.1,329.2 L628.5,330.6 L631.1,331.7 L633.7,332.7 L636.4,333.5 L639.2,334.0 L641.9,334.3 L644.8,334.4 L647.6,334.3 L650.3,334.0 L653.1,333.5 L655.8,332.7 L658.4,331.7 L661.0,330.6 L663.4,329.2 L665.8,327.6 L668.0,325.9 L670.0,324.0 L671.9,321.9 L673.7,319.7 L675.2,317.4 L676.6,314.9 L677.8,312.4 L678.8,309.7 L679.5,307.0 L680.1,304.3 L680.4,301.5 L680.5,298.7 L680.4,295.9 L680.1,293.1 L679.5,290.4 L678.8,287.7 L677.8,285.0 L676.6,282.5 L675.2,280.0 L673.7,277.7 L671.9,275.5 L670.0,273.4 L668.0,271.5 L665.8,269.8 L663.4,268.2 L661.0,266.8 L658.4,265.7 L655.8,264.7 L653.1,263.9 L650.3,263.4 L647.6,263.1 L644.8,262.9 L641.9,263.1 L639.2,263.4 L636.4,263.9 L633.7,264.7 L631.1,265.7 L628.5,266.8 L626.1,268.2 L623.7,269.8 L621.5,271.5 L619.5,273.4 L617.6,275.5 L615.8,277.7 L614.3,280.0 L612.9,282.5 L611.7,285.0 L610.7,287.7 L610.0,290.4 L609.4,293.1 L609.1,295.9 L609.0,298.7ZM609.0,298.7 L608.9,295.9 L608.6,293.1 L608.0,290.4 L607.3,287.7 L606.3,285.0 L605.1,282.5 L603.7,280.0 L602.2,277.7 L600.4,275.5 L598.5,273.4 L596.5,271.5 L594.3,269.8 L591.9,268.2 L589.5,266.8 L586.9,265.7 L584.3,264.7 L581.6,263.9 L578.8,263.4 L576.1,263.1 L573.2,262.9 L570.4,263.1 L567.7,263.4 L564.9,263.9 L562.2,264.7 L559.6,265.7 L557.0,266.8 L554.6,268.2 L552.2,269.8 L550.0,271.5 L548.0,273.4 L546.1,275.5 L544.3,277.7 L542.8,280.0 L541.4,282.5 L540.2,285.0 L539.2,287.7 L538.5,290.4 L537.9,293.1 L537.6,295.9 L537.5,298.7 L537.6,301.5 L537.9,304.3 L538.5,307.0 L539.2,309.7 L540.2,312.4 L541.4,314.9 L542.8,317.4 L544.3,319.7 L546.1,321.9 L548.0,324.0 L550.0,325.9 L552.2,327.6 L554.6,329.2 L557.0,330.6 L559.6,331.7 L562.2,332.7 L564.9,333.5 L567.7,334.0 L570.4,334.3 L573.2,334.4 L576.1,334.3 L578.8,334.0 L581.6,333.5 L584.3,332.7 L586.9,331.7 L589.5,330.6 L591.9,329.2 L594.3,327.6 L596.5,325.9 L598.5,324.0 L600.4,321.9 L602.2,319.7 L603.7,317.4 L605.1,314.9 L606.3,312.4 L607.3,309.7 L608.0,307.0 L608.6,304.3 L608.9,301.5 L609.0,298.7Z" fill="none" stroke="#111" stroke-width="1.3" stroke-dasharray="5.2 3"/>
<text x="498.4" y="250.3" font-size="16" stroke="#000">(g)</text>
<rect x="544" y="234.7" width="128" height="16.8" fill="#fff" stroke="#444" stroke-width="0.9"/>
<text x="548.2" y="245.6" font-size="10.85" stroke="#000">X<tspan dy="2.8" font-size="7.6">hh</tspan><tspan dy="-2.8"> @ 1.6008 eV, τ = 3.3 ps</tspan></text>
</svg></body></html>
